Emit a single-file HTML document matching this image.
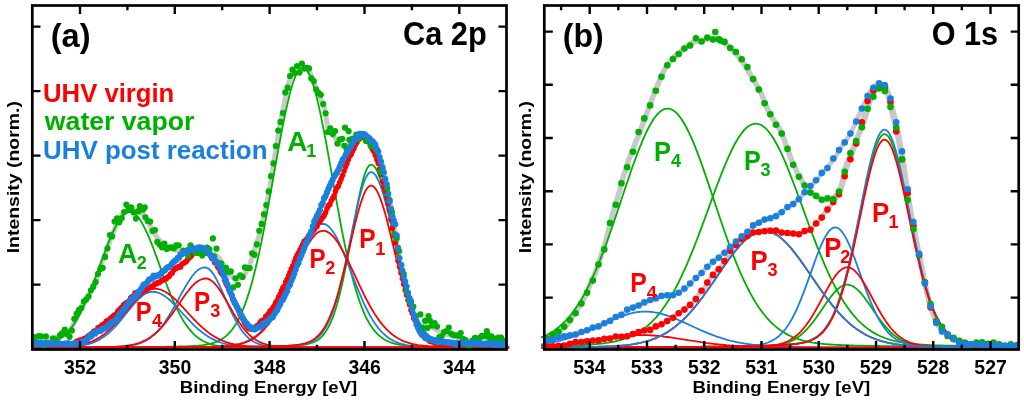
<!DOCTYPE html>
<html><head><meta charset="utf-8"><title>Ca 2p and O 1s XPS</title>
<style>html,body{margin:0;padding:0;background:#fff;width:1024px;height:403px;overflow:hidden}svg{display:block;font-family:"Liberation Sans",sans-serif;filter:blur(0.45px)}</style>
</head><body>
<svg width="1024" height="403" viewBox="0 0 1024 403" font-family="Liberation Sans, sans-serif" font-weight="bold">
<rect width="1024" height="403" fill="#fff"/>
<path d="M34.0,341.0 L35.2,341.0 L36.4,340.9 L37.5,340.8 L38.7,340.8 L39.9,340.7 L41.1,340.6 L42.3,340.5 L43.4,340.3 L44.6,340.1 L45.8,339.8 L47.0,339.5 L48.2,339.1 L49.3,338.7 L50.5,338.4 L51.7,338.1 L52.9,337.8 L54.1,337.5 L55.2,337.2 L56.4,336.9 L57.6,336.6 L58.8,336.3 L60.0,336.0 L61.2,335.7 L62.3,335.5 L63.5,335.2 L64.7,334.9 L65.9,334.5 L67.1,334.0 L68.2,333.0 L69.4,331.4 L70.6,329.4 L71.8,327.3 L73.0,325.1 L74.1,322.8 L75.3,320.1 L76.5,317.4 L77.7,314.7 L78.9,312.2 L80.0,309.7 L81.2,307.3 L82.4,304.9 L83.6,302.7 L84.8,300.8 L85.9,299.0 L87.1,297.3 L88.3,295.7 L89.5,293.9 L90.7,291.8 L91.8,289.7 L93.0,287.4 L94.2,284.8 L95.4,282.0 L96.6,278.7 L97.7,275.0 L98.9,271.2 L100.1,267.7 L101.3,264.5 L102.5,261.5 L103.6,258.5 L104.8,255.5 L106.0,252.2 L107.2,248.9 L108.4,245.5 L109.5,242.2 L110.7,239.0 L111.9,235.8 L113.1,232.7 L114.3,229.7 L115.5,227.0 L116.6,224.4 L117.8,221.9 L119.0,219.7 L120.2,217.7 L121.4,216.0 L122.5,214.4 L123.7,213.0 L124.9,212.1 L126.1,211.4 L127.3,210.7 L128.4,210.3 L129.6,210.0 L130.8,210.0 L132.0,210.0 L133.2,210.0 L134.3,210.0 L135.5,210.0 L136.7,210.1 L137.9,210.4 L139.1,211.0 L140.2,211.7 L141.4,212.6 L142.6,213.5 L143.8,215.0 L145.0,216.8 L146.1,218.8 L147.3,220.9 L148.5,222.9 L149.7,225.0 L150.9,227.3 L152.0,229.6 L153.2,231.7 L154.4,233.6 L155.6,235.4 L156.8,237.0 L157.9,238.6 L159.1,240.0 L160.3,241.3 L161.5,242.6 L162.7,243.8 L163.8,244.9 L165.0,245.9 L166.2,246.6 L167.4,247.2 L168.6,247.8 L169.8,248.2 L170.9,248.7 L172.1,249.0 L173.3,249.4 L174.5,249.8 L175.7,250.1 L176.8,250.4 L178.0,250.6 L179.2,250.9 L180.4,251.1 L181.6,251.2 L182.7,251.4 L183.9,251.6 L185.1,251.7 L186.3,251.8 L187.5,251.9 L188.6,252.0 L189.8,252.0 L191.0,252.0 L192.2,251.9 L193.4,251.9 L194.5,251.8 L195.7,251.7 L196.9,251.6 L198.1,251.5 L199.3,251.5 L200.4,251.5 L201.6,251.6 L202.8,251.7 L204.0,251.8 L205.2,252.0 L206.3,252.2 L207.5,252.4 L208.7,252.7 L209.9,253.0 L211.1,253.3 L212.2,253.7 L213.4,254.2 L214.6,254.8 L215.8,255.5 L217.0,256.2 L218.2,257.1 L219.3,258.4 L220.5,260.1 L221.7,262.1 L222.9,264.2 L224.1,266.1 L225.2,268.0 L226.4,270.0 L227.6,271.9 L228.8,273.6 L230.0,275.0 L231.1,276.1 L232.3,277.1 L233.5,278.1 L234.7,278.7 L235.9,279.0 L237.0,278.9 L238.2,278.6 L239.4,278.2 L240.6,277.5 L241.8,276.8 L242.9,276.0 L244.1,274.9 L245.3,273.3 L246.5,271.2 L247.7,268.8 L248.8,266.3 L250.0,263.7 L251.2,260.6 L252.4,257.1 L253.6,253.5 L254.7,249.8 L255.9,246.1 L257.1,242.1 L258.3,238.1 L259.5,233.8 L260.6,229.4 L261.8,224.7 L263.0,219.9 L264.2,214.9 L265.4,209.7 L266.5,204.2 L267.7,198.4 L268.9,192.1 L270.1,185.2 L271.3,178.0 L272.5,170.6 L273.6,163.2 L274.8,156.1 L276.0,148.8 L277.2,141.5 L278.4,134.4 L279.5,127.6 L280.7,121.1 L281.9,114.8 L283.1,108.8 L284.3,102.9 L285.4,97.5 L286.6,92.3 L287.8,87.1 L289.0,82.2 L290.2,78.1 L291.3,75.3 L292.5,73.2 L293.7,71.3 L294.9,69.7 L296.1,68.6 L297.2,67.9 L298.4,67.4 L299.6,66.9 L300.8,66.6 L302.0,66.5 L303.1,66.7 L304.3,67.2 L305.5,67.9 L306.7,68.8 L307.9,69.9 L309.0,71.4 L310.2,73.6 L311.4,76.3 L312.6,79.1 L313.8,81.7 L314.9,84.4 L316.1,87.3 L317.3,90.2 L318.5,93.2 L319.7,96.2 L320.8,99.0 L322.0,101.6 L323.2,104.4 L324.4,107.8 L325.6,113.1 L326.8,122.3 L327.9,128.3 L329.1,130.4 L330.3,131.9 L331.5,133.0 L332.7,134.3 L333.8,135.9 L335.0,137.7 L336.2,139.5 L337.4,141.1 L338.6,142.4 L339.7,143.6 L340.9,144.8 L342.1,145.6 L343.3,146.0 L344.5,146.0 L345.6,146.0 L346.8,146.0 L348.0,146.0 L349.2,145.6 L350.4,144.6 L351.5,143.4 L352.7,142.2 L353.9,141.2 L355.1,140.1 L356.3,139.0 L357.4,138.2 L358.6,137.8 L359.8,137.5 L361.0,137.2 L362.2,137.0 L363.3,137.0 L364.5,137.6 L365.7,138.6 L366.9,139.8 L368.1,141.1 L369.2,142.4 L370.4,144.0 L371.6,145.8 L372.8,147.8 L374.0,149.9 L375.2,152.4 L376.3,155.3 L377.5,158.4 L378.7,161.6 L379.9,164.7 L381.1,167.5 L382.2,170.2 L383.4,173.3 L384.6,177.0 L385.8,181.8 L387.0,187.1 L388.1,192.6 L389.3,198.1 L390.5,204.0 L391.7,210.2 L392.9,217.2 L394.0,225.0 L395.2,232.9 L396.4,240.5 L397.6,247.9 L398.8,255.1 L399.9,261.7 L401.1,267.5 L402.3,272.8 L403.5,277.9 L404.7,282.7 L405.8,287.3 L407.0,291.8 L408.2,296.1 L409.4,300.1 L410.6,303.7 L411.7,307.3 L412.9,310.8 L414.1,313.9 L415.3,316.6 L416.5,318.8 L417.6,321.0 L418.8,323.1 L420.0,324.7 L421.2,325.8 L422.4,326.0 L423.5,325.7 L424.7,325.1 L425.9,324.6 L427.1,324.1 L428.3,324.0 L429.5,324.4 L430.6,325.2 L431.8,326.2 L433.0,327.4 L434.2,328.4 L435.4,329.2 L436.5,330.0 L437.7,330.8 L438.9,331.5 L440.1,332.1 L441.3,332.7 L442.4,333.2 L443.6,333.5 L444.8,333.9 L446.0,334.2 L447.2,334.5 L448.3,334.7 L449.5,334.9 L450.7,335.1 L451.9,335.3 L453.1,335.4 L454.2,335.5 L455.4,335.6 L456.6,335.8 L457.8,336.0 L459.0,336.3 L460.1,337.0 L461.3,337.9 L462.5,338.7 L463.7,339.5 L464.9,340.0 L466.0,340.2 L467.2,340.5 L468.4,340.7 L469.6,340.8 L470.8,341.0 L471.9,341.0 L473.1,341.0 L474.3,340.9 L475.5,340.8 L476.7,340.6 L477.8,340.4 L479.0,340.2 L480.2,339.9 L481.4,339.3 L482.6,338.2 L483.8,337.1 L484.9,336.0 L486.1,335.2 L487.3,335.0 L488.5,335.2 L489.7,335.7 L490.8,336.3 L492.0,336.9 L493.2,337.6 L494.4,338.2 L495.6,338.8 L496.7,339.5 L497.9,340.2 L499.1,340.7 L500.3,341.1 L501.5,341.4 L502.6,341.6 L503.8,341.8 L505.0,342.0" fill="none" stroke="#c8c8c8" stroke-width="5"/>
<path d="M509.1,346.8 L507.5,346.8 L505.9,346.7 L504.3,346.7 L502.7,346.7 L501.1,346.7 L499.5,346.7 L497.9,346.6 L496.3,346.6 L494.7,346.6 L493.1,346.6 L491.5,346.5 L489.9,346.5 L488.3,346.5 L486.8,346.4 L485.2,346.4 L483.6,346.4 L482.0,346.3 L480.4,346.3 L478.8,346.3 L477.2,346.2 L475.6,346.2 L474.0,346.2 L472.4,346.1 L470.8,346.1 L469.2,346.0 L467.6,346.0 L466.0,345.9 L464.4,345.8 L462.8,345.8 L461.3,345.7 L459.7,345.6 L458.1,345.5 L456.5,345.4 L454.9,345.3 L453.3,345.1 L451.7,345.0 L450.1,344.8 L448.5,344.6 L446.9,344.3 L445.3,344.0 L443.7,343.7 L442.1,343.3 L440.5,342.9 L438.9,342.3 L437.4,341.7 L435.8,341.0 L434.2,340.2 L432.6,339.2 L431.0,338.1 L429.4,336.9 L427.8,335.4 L426.2,333.8 L424.6,331.9 L423.0,329.8 L421.4,327.4 L419.8,324.8 L418.2,321.8 L416.6,318.5 L415.0,314.9 L413.4,310.9 L411.9,306.6 L410.3,301.9 L408.7,296.9 L407.1,291.4 L405.5,285.7 L403.9,279.5 L402.3,273.1 L400.7,266.4 L399.1,259.4 L397.5,252.3 L395.9,244.9 L394.3,237.5 L392.7,230.1 L391.1,222.6 L389.5,215.3 L388.0,208.2 L386.4,201.3 L384.8,194.8 L383.2,188.7 L381.6,183.1 L380.0,178.1 L378.4,173.9 L376.8,170.3 L375.2,167.6 L373.6,165.7 L372.0,164.8 L370.4,164.7 L368.8,165.9 L367.2,168.2 L365.6,171.8 L364.0,176.4 L362.5,182.0 L360.9,188.5 L359.3,195.6 L357.7,203.4 L356.1,211.6 L354.5,220.1 L352.9,228.8 L351.3,237.5 L349.7,246.2 L348.1,254.8 L346.5,263.1 L344.9,271.1 L343.3,278.7 L341.7,285.9 L340.1,292.6 L338.6,298.9 L337.0,304.6 L335.4,309.8 L333.8,314.6 L332.2,318.8 L330.6,322.6 L329.0,326.0 L327.4,328.9 L325.8,331.5 L324.2,333.7 L322.6,335.6 L321.0,337.3 L319.4,338.7 L317.8,339.9 L316.2,340.9 L314.6,341.7 L313.1,342.4 L311.5,343.0 L309.9,343.5 L308.3,343.9 L306.7,344.3 L305.1,344.6 L303.5,344.8 L301.9,345.0 L300.3,345.2 L298.7,345.4 L297.1,345.5 L295.5,345.6 L293.9,345.7 L292.3,345.8 L290.7,345.9 L289.2,345.9 L287.6,346.0 L286.0,346.1 L284.4,346.1 L282.8,346.2 L281.2,346.2 L279.6,346.3 L278.0,346.3 L276.4,346.4 L274.8,346.4 L273.2,346.4 L271.6,346.5 L270.0,346.5 L268.4,346.5 L266.8,346.6 L265.2,346.6 L263.7,346.6 L262.1,346.6 L260.5,346.7 L258.9,346.7 L257.3,346.7 L255.7,346.7 L254.1,346.8 L252.5,346.8 L250.9,346.8 L249.3,346.8 L247.7,346.8 L246.1,346.9 L244.5,346.9 L242.9,346.9 L241.3,346.9 L239.8,346.9 L238.2,346.9 L236.6,347.0 L235.0,347.0 L233.4,347.0 L231.8,347.0 L230.2,347.0 L228.6,347.0 L227.0,347.0 L225.4,347.1 L223.8,347.1 L222.2,347.1 L220.6,347.1 L219.0,347.1 L217.4,347.1 L215.8,347.1 L214.3,347.1 L212.7,347.1 L211.1,347.1 L209.5,347.2 L207.9,347.2 L206.3,347.2 L204.7,347.2 L203.1,347.2 L201.5,347.2 L199.9,347.2 L198.3,347.2 L196.7,347.2 L195.1,347.2 L193.5,347.2 L191.9,347.2 L190.4,347.2 L188.8,347.2 L187.2,347.3 L185.6,347.3 L184.0,347.3 L182.4,347.3 L180.8,347.3 L179.2,347.3 L177.6,347.3 L176.0,347.3 L174.4,347.3 L172.8,347.3 L171.2,347.3 L169.6,347.3 L168.0,347.3 L166.4,347.3 L164.9,347.3 L163.3,347.3 L161.7,347.3 L160.1,347.3 L158.5,347.3 L156.9,347.3 L155.3,347.3 L153.7,347.4 L152.1,347.4 L150.5,347.4 L148.9,347.4 L147.3,347.4 L145.7,347.4 L144.1,347.4 L142.5,347.4 L141.0,347.4 L139.4,347.4 L137.8,347.4 L136.2,347.4 L134.6,347.4 L133.0,347.4 L131.4,347.4 L129.8,347.4 L128.2,347.4 L126.6,347.4 L125.0,347.4 L123.4,347.4 L121.8,347.4 L120.2,347.4 L118.6,347.4 L117.0,347.4 L115.5,347.4 L113.9,347.4 L112.3,347.4 L110.7,347.4 L109.1,347.4 L107.5,347.4 L105.9,347.4 L104.3,347.4 L102.7,347.4 L101.1,347.4 L99.5,347.4 L97.9,347.4 L96.3,347.4 L94.7,347.4 L93.1,347.4 L91.6,347.4 L90.0,347.5 L88.4,347.5 L86.8,347.5 L85.2,347.5 L83.6,347.5 L82.0,347.5 L80.4,347.5 L78.8,347.5 L77.2,347.5 L75.6,347.5 L74.0,347.5 L72.4,347.5 L70.8,347.5 L69.2,347.5 L67.6,347.5 L66.1,347.5 L64.5,347.5 L62.9,347.5 L61.3,347.5 L59.7,347.5 L58.1,347.5 L56.5,347.5 L54.9,347.5 L53.3,347.5 L51.7,347.5 L50.1,347.5 L48.5,347.5 L46.9,347.5 L45.3,347.5 L43.7,347.5 L42.2,347.5 L40.6,347.5 L39.0,347.5 L37.4,347.5 L35.8,347.5 L34.2,347.5 L32.6,347.5" fill="none" stroke="#00b000" stroke-width="1.8"/>
<path d="M509.1,347.2 L507.5,347.2 L505.9,347.2 L504.3,347.2 L502.7,347.2 L501.1,347.2 L499.5,347.2 L497.9,347.2 L496.3,347.2 L494.7,347.2 L493.1,347.1 L491.5,347.1 L489.9,347.1 L488.3,347.1 L486.8,347.1 L485.2,347.1 L483.6,347.1 L482.0,347.1 L480.4,347.1 L478.8,347.1 L477.2,347.1 L475.6,347.1 L474.0,347.0 L472.4,347.0 L470.8,347.0 L469.2,347.0 L467.6,347.0 L466.0,347.0 L464.4,347.0 L462.8,347.0 L461.3,347.0 L459.7,346.9 L458.1,346.9 L456.5,346.9 L454.9,346.9 L453.3,346.9 L451.7,346.9 L450.1,346.9 L448.5,346.8 L446.9,346.8 L445.3,346.8 L443.7,346.8 L442.1,346.8 L440.5,346.8 L438.9,346.7 L437.4,346.7 L435.8,346.7 L434.2,346.7 L432.6,346.6 L431.0,346.6 L429.4,346.6 L427.8,346.6 L426.2,346.5 L424.6,346.5 L423.0,346.4 L421.4,346.4 L419.8,346.4 L418.2,346.3 L416.6,346.2 L415.0,346.2 L413.4,346.1 L411.9,346.0 L410.3,345.9 L408.7,345.8 L407.1,345.7 L405.5,345.5 L403.9,345.3 L402.3,345.1 L400.7,344.9 L399.1,344.6 L397.5,344.3 L395.9,344.0 L394.3,343.6 L392.7,343.1 L391.1,342.6 L389.5,342.0 L388.0,341.3 L386.4,340.6 L384.8,339.7 L383.2,338.7 L381.6,337.6 L380.0,336.3 L378.4,334.9 L376.8,333.4 L375.2,331.6 L373.6,329.6 L372.0,327.5 L370.4,325.1 L368.8,322.4 L367.2,319.5 L365.6,316.3 L364.0,312.9 L362.5,309.1 L360.9,305.0 L359.3,300.6 L357.7,295.8 L356.1,290.7 L354.5,285.2 L352.9,279.4 L351.3,273.3 L349.7,266.7 L348.1,259.9 L346.5,252.7 L344.9,245.2 L343.3,237.4 L341.7,229.3 L340.1,221.0 L338.6,212.4 L337.0,203.7 L335.4,194.8 L333.8,185.8 L332.2,176.7 L330.6,167.7 L329.0,158.7 L327.4,149.8 L325.8,141.0 L324.2,132.5 L322.6,124.3 L321.0,116.4 L319.4,108.9 L317.8,101.9 L316.2,95.4 L314.6,89.4 L313.1,84.1 L311.5,79.5 L309.9,75.6 L308.3,72.4 L306.7,70.0 L305.1,68.4 L303.5,67.7 L301.9,67.7 L300.3,68.6 L298.7,70.4 L297.1,72.9 L295.5,76.2 L293.9,80.2 L292.3,85.0 L290.7,90.4 L289.2,96.4 L287.6,103.0 L286.0,110.1 L284.4,117.7 L282.8,125.6 L281.2,133.9 L279.6,142.5 L278.0,151.2 L276.4,160.2 L274.8,169.2 L273.2,178.2 L271.6,187.3 L270.0,196.2 L268.4,205.1 L266.8,213.8 L265.2,222.3 L263.7,230.6 L262.1,238.7 L260.5,246.4 L258.9,253.9 L257.3,261.0 L255.7,267.8 L254.1,274.3 L252.5,280.4 L250.9,286.2 L249.3,291.6 L247.7,296.6 L246.1,301.3 L244.5,305.7 L242.9,309.7 L241.3,313.5 L239.8,316.9 L238.2,320.0 L236.6,322.9 L235.0,325.5 L233.4,327.8 L231.8,330.0 L230.2,331.9 L228.6,333.6 L227.0,335.2 L225.4,336.6 L223.8,337.8 L222.2,338.9 L220.6,339.8 L219.0,340.7 L217.4,341.5 L215.8,342.1 L214.3,342.7 L212.7,343.2 L211.1,343.7 L209.5,344.0 L207.9,344.4 L206.3,344.7 L204.7,344.9 L203.1,345.2 L201.5,345.4 L199.9,345.5 L198.3,345.7 L196.7,345.8 L195.1,345.9 L193.5,346.0 L191.9,346.1 L190.4,346.2 L188.8,346.2 L187.2,346.3 L185.6,346.4 L184.0,346.4 L182.4,346.5 L180.8,346.5 L179.2,346.5 L177.6,346.6 L176.0,346.6 L174.4,346.6 L172.8,346.6 L171.2,346.7 L169.6,346.7 L168.0,346.7 L166.4,346.7 L164.9,346.8 L163.3,346.8 L161.7,346.8 L160.1,346.8 L158.5,346.8 L156.9,346.8 L155.3,346.9 L153.7,346.9 L152.1,346.9 L150.5,346.9 L148.9,346.9 L147.3,346.9 L145.7,346.9 L144.1,347.0 L142.5,347.0 L141.0,347.0 L139.4,347.0 L137.8,347.0 L136.2,347.0 L134.6,347.0 L133.0,347.0 L131.4,347.0 L129.8,347.1 L128.2,347.1 L126.6,347.1 L125.0,347.1 L123.4,347.1 L121.8,347.1 L120.2,347.1 L118.6,347.1 L117.0,347.1 L115.5,347.1 L113.9,347.1 L112.3,347.1 L110.7,347.2 L109.1,347.2 L107.5,347.2 L105.9,347.2 L104.3,347.2 L102.7,347.2 L101.1,347.2 L99.5,347.2 L97.9,347.2 L96.3,347.2 L94.7,347.2 L93.1,347.2 L91.6,347.2 L90.0,347.2 L88.4,347.2 L86.8,347.2 L85.2,347.3 L83.6,347.3 L82.0,347.3 L80.4,347.3 L78.8,347.3 L77.2,347.3 L75.6,347.3 L74.0,347.3 L72.4,347.3 L70.8,347.3 L69.2,347.3 L67.6,347.3 L66.1,347.3 L64.5,347.3 L62.9,347.3 L61.3,347.3 L59.7,347.3 L58.1,347.3 L56.5,347.3 L54.9,347.3 L53.3,347.3 L51.7,347.3 L50.1,347.3 L48.5,347.3 L46.9,347.3 L45.3,347.3 L43.7,347.4 L42.2,347.4 L40.6,347.4 L39.0,347.4 L37.4,347.4 L35.8,347.4 L34.2,347.4 L32.6,347.4" fill="none" stroke="#00b000" stroke-width="1.8"/>
<path d="M509.1,347.6 L507.5,347.6 L505.9,347.6 L504.3,347.6 L502.7,347.6 L501.1,347.6 L499.5,347.6 L497.9,347.6 L496.3,347.6 L494.7,347.6 L493.1,347.6 L491.5,347.6 L489.9,347.6 L488.3,347.6 L486.8,347.6 L485.2,347.6 L483.6,347.6 L482.0,347.6 L480.4,347.6 L478.8,347.6 L477.2,347.6 L475.6,347.6 L474.0,347.6 L472.4,347.6 L470.8,347.6 L469.2,347.6 L467.6,347.6 L466.0,347.6 L464.4,347.6 L462.8,347.6 L461.3,347.6 L459.7,347.6 L458.1,347.6 L456.5,347.6 L454.9,347.6 L453.3,347.6 L451.7,347.6 L450.1,347.6 L448.5,347.6 L446.9,347.6 L445.3,347.6 L443.7,347.6 L442.1,347.6 L440.5,347.6 L438.9,347.6 L437.4,347.6 L435.8,347.6 L434.2,347.6 L432.6,347.6 L431.0,347.6 L429.4,347.6 L427.8,347.6 L426.2,347.6 L424.6,347.6 L423.0,347.6 L421.4,347.6 L419.8,347.6 L418.2,347.6 L416.6,347.6 L415.0,347.6 L413.4,347.6 L411.9,347.6 L410.3,347.6 L408.7,347.6 L407.1,347.6 L405.5,347.6 L403.9,347.6 L402.3,347.6 L400.7,347.6 L399.1,347.6 L397.5,347.6 L395.9,347.6 L394.3,347.6 L392.7,347.6 L391.1,347.6 L389.5,347.6 L388.0,347.6 L386.4,347.6 L384.8,347.6 L383.2,347.6 L381.6,347.6 L380.0,347.6 L378.4,347.6 L376.8,347.6 L375.2,347.6 L373.6,347.6 L372.0,347.6 L370.4,347.6 L368.8,347.6 L367.2,347.6 L365.6,347.6 L364.0,347.6 L362.5,347.6 L360.9,347.6 L359.3,347.6 L357.7,347.6 L356.1,347.6 L354.5,347.6 L352.9,347.6 L351.3,347.6 L349.7,347.6 L348.1,347.6 L346.5,347.6 L344.9,347.6 L343.3,347.6 L341.7,347.6 L340.1,347.6 L338.6,347.6 L337.0,347.6 L335.4,347.6 L333.8,347.6 L332.2,347.6 L330.6,347.6 L329.0,347.6 L327.4,347.6 L325.8,347.6 L324.2,347.6 L322.6,347.6 L321.0,347.6 L319.4,347.6 L317.8,347.6 L316.2,347.6 L314.6,347.6 L313.1,347.6 L311.5,347.6 L309.9,347.6 L308.3,347.6 L306.7,347.6 L305.1,347.6 L303.5,347.6 L301.9,347.6 L300.3,347.6 L298.7,347.6 L297.1,347.6 L295.5,347.6 L293.9,347.6 L292.3,347.6 L290.7,347.6 L289.2,347.6 L287.6,347.6 L286.0,347.6 L284.4,347.6 L282.8,347.6 L281.2,347.6 L279.6,347.6 L278.0,347.6 L276.4,347.6 L274.8,347.6 L273.2,347.6 L271.6,347.6 L270.0,347.6 L268.4,347.6 L266.8,347.6 L265.2,347.6 L263.7,347.6 L262.1,347.6 L260.5,347.6 L258.9,347.6 L257.3,347.6 L255.7,347.6 L254.1,347.6 L252.5,347.6 L250.9,347.6 L249.3,347.6 L247.7,347.5 L246.1,347.5 L244.5,347.5 L242.9,347.5 L241.3,347.5 L239.8,347.5 L238.2,347.4 L236.6,347.4 L235.0,347.3 L233.4,347.3 L231.8,347.2 L230.2,347.1 L228.6,347.0 L227.0,346.9 L225.4,346.8 L223.8,346.7 L222.2,346.5 L220.6,346.3 L219.0,346.1 L217.4,345.8 L215.8,345.5 L214.3,345.2 L212.7,344.8 L211.1,344.3 L209.5,343.8 L207.9,343.2 L206.3,342.6 L204.7,341.8 L203.1,341.0 L201.5,340.1 L199.9,339.1 L198.3,338.0 L196.7,336.7 L195.1,335.4 L193.5,333.9 L191.9,332.2 L190.4,330.4 L188.8,328.5 L187.2,326.4 L185.6,324.1 L184.0,321.7 L182.4,319.1 L180.8,316.3 L179.2,313.3 L177.6,310.2 L176.0,306.9 L174.4,303.4 L172.8,299.8 L171.2,296.1 L169.6,292.2 L168.0,288.1 L166.4,284.0 L164.9,279.8 L163.3,275.5 L161.7,271.1 L160.1,266.7 L158.5,262.3 L156.9,257.9 L155.3,253.6 L153.7,249.3 L152.1,245.2 L150.5,241.2 L148.9,237.3 L147.3,233.6 L145.7,230.1 L144.1,226.9 L142.5,223.9 L141.0,221.2 L139.4,218.8 L137.8,216.8 L136.2,215.1 L134.6,213.7 L133.0,212.8 L131.4,212.2 L129.8,212.0 L128.2,212.2 L126.6,212.8 L125.0,213.7 L123.4,215.1 L121.8,216.7 L120.2,218.8 L118.6,221.2 L117.0,223.8 L115.5,226.8 L113.9,230.0 L112.3,233.5 L110.7,237.2 L109.1,241.1 L107.5,245.1 L105.9,249.3 L104.3,253.5 L102.7,257.9 L101.1,262.2 L99.5,266.6 L97.9,271.0 L96.3,275.4 L94.7,279.7 L93.1,283.9 L91.6,288.1 L90.0,292.1 L88.4,296.0 L86.8,299.8 L85.2,303.4 L83.6,306.8 L82.0,310.1 L80.4,313.3 L78.8,316.2 L77.2,319.0 L75.6,321.6 L74.0,324.1 L72.4,326.3 L70.8,328.4 L69.2,330.4 L67.6,332.2 L66.1,333.8 L64.5,335.3 L62.9,336.7 L61.3,338.0 L59.7,339.1 L58.1,340.1 L56.5,341.0 L54.9,341.8 L53.3,342.6 L51.7,343.2 L50.1,343.8 L48.5,344.3 L46.9,344.8 L45.3,345.2 L43.7,345.5 L42.2,345.8 L40.6,346.1 L39.0,346.3 L37.4,346.5 L35.8,346.7 L34.2,346.8 L32.6,346.9" fill="none" stroke="#00b000" stroke-width="1.8"/>
<path d="M509.1,346.8 L507.5,346.7 L505.9,346.7 L504.3,346.7 L502.7,346.7 L501.1,346.7 L499.5,346.6 L497.9,346.6 L496.3,346.6 L494.7,346.6 L493.1,346.5 L491.5,346.5 L489.9,346.5 L488.3,346.5 L486.8,346.4 L485.2,346.4 L483.6,346.4 L482.0,346.3 L480.4,346.3 L478.8,346.3 L477.2,346.2 L475.6,346.2 L474.0,346.1 L472.4,346.1 L470.8,346.0 L469.2,346.0 L467.6,345.9 L466.0,345.9 L464.4,345.8 L462.8,345.7 L461.3,345.6 L459.7,345.5 L458.1,345.4 L456.5,345.3 L454.9,345.2 L453.3,345.0 L451.7,344.8 L450.1,344.6 L448.5,344.4 L446.9,344.1 L445.3,343.8 L443.7,343.4 L442.1,343.0 L440.5,342.5 L438.9,341.9 L437.4,341.3 L435.8,340.5 L434.2,339.6 L432.6,338.6 L431.0,337.4 L429.4,336.0 L427.8,334.5 L426.2,332.8 L424.6,330.9 L423.0,328.7 L421.4,326.2 L419.8,323.5 L418.2,320.5 L416.6,317.2 L415.0,313.6 L413.4,309.7 L411.9,305.4 L410.3,300.8 L408.7,295.9 L407.1,290.6 L405.5,285.0 L403.9,279.1 L402.3,273.0 L400.7,266.6 L399.1,260.0 L397.5,253.2 L395.9,246.3 L394.3,239.4 L392.7,232.4 L391.1,225.5 L389.5,218.7 L388.0,212.1 L386.4,205.7 L384.8,199.7 L383.2,194.1 L381.6,189.0 L380.0,184.5 L378.4,180.5 L376.8,177.3 L375.2,174.8 L373.6,173.1 L372.0,172.2 L370.4,172.2 L368.8,173.2 L367.2,175.2 L365.6,178.1 L364.0,182.0 L362.5,186.8 L360.9,192.2 L359.3,198.4 L357.7,205.0 L356.1,212.2 L354.5,219.6 L352.9,227.3 L351.3,235.1 L349.7,242.9 L348.1,250.7 L346.5,258.4 L344.9,265.8 L343.3,273.0 L341.7,279.9 L340.1,286.5 L338.6,292.6 L337.0,298.4 L335.4,303.7 L333.8,308.6 L332.2,313.1 L330.6,317.2 L329.0,320.9 L327.4,324.2 L325.8,327.2 L324.2,329.8 L322.6,332.1 L321.0,334.1 L319.4,335.8 L317.8,337.4 L316.2,338.7 L314.6,339.8 L313.1,340.8 L311.5,341.6 L309.9,342.3 L308.3,342.9 L306.7,343.4 L305.1,343.8 L303.5,344.2 L301.9,344.5 L300.3,344.7 L298.7,344.9 L297.1,345.1 L295.5,345.3 L293.9,345.4 L292.3,345.5 L290.7,345.6 L289.2,345.7 L287.6,345.8 L286.0,345.9 L284.4,346.0 L282.8,346.0 L281.2,346.1 L279.6,346.1 L278.0,346.2 L276.4,346.2 L274.8,346.3 L273.2,346.3 L271.6,346.4 L270.0,346.4 L268.4,346.4 L266.8,346.5 L265.2,346.5 L263.7,346.5 L262.1,346.6 L260.5,346.6 L258.9,346.6 L257.3,346.6 L255.7,346.7 L254.1,346.7 L252.5,346.7 L250.9,346.7 L249.3,346.8 L247.7,346.8 L246.1,346.8 L244.5,346.8 L242.9,346.8 L241.3,346.9 L239.8,346.9 L238.2,346.9 L236.6,346.9 L235.0,346.9 L233.4,346.9 L231.8,346.9 L230.2,347.0 L228.6,347.0 L227.0,347.0 L225.4,347.0 L223.8,347.0 L222.2,347.0 L220.6,347.0 L219.0,347.1 L217.4,347.1 L215.8,347.1 L214.3,347.1 L212.7,347.1 L211.1,347.1 L209.5,347.1 L207.9,347.1 L206.3,347.1 L204.7,347.1 L203.1,347.1 L201.5,347.2 L199.9,347.2 L198.3,347.2 L196.7,347.2 L195.1,347.2 L193.5,347.2 L191.9,347.2 L190.4,347.2 L188.8,347.2 L187.2,347.2 L185.6,347.2 L184.0,347.2 L182.4,347.2 L180.8,347.2 L179.2,347.3 L177.6,347.3 L176.0,347.3 L174.4,347.3 L172.8,347.3 L171.2,347.3 L169.6,347.3 L168.0,347.3 L166.4,347.3 L164.9,347.3 L163.3,347.3 L161.7,347.3 L160.1,347.3 L158.5,347.3 L156.9,347.3 L155.3,347.3 L153.7,347.3 L152.1,347.3 L150.5,347.3 L148.9,347.3 L147.3,347.3 L145.7,347.3 L144.1,347.3 L142.5,347.4 L141.0,347.4 L139.4,347.4 L137.8,347.4 L136.2,347.4 L134.6,347.4 L133.0,347.4 L131.4,347.4 L129.8,347.4 L128.2,347.4 L126.6,347.4 L125.0,347.4 L123.4,347.4 L121.8,347.4 L120.2,347.4 L118.6,347.4 L117.0,347.4 L115.5,347.4 L113.9,347.4 L112.3,347.4 L110.7,347.4 L109.1,347.4 L107.5,347.4 L105.9,347.4 L104.3,347.4 L102.7,347.4 L101.1,347.4 L99.5,347.4 L97.9,347.4 L96.3,347.4 L94.7,347.4 L93.1,347.4 L91.6,347.4 L90.0,347.4 L88.4,347.4 L86.8,347.4 L85.2,347.4 L83.6,347.4 L82.0,347.4 L80.4,347.4 L78.8,347.4 L77.2,347.5 L75.6,347.5 L74.0,347.5 L72.4,347.5 L70.8,347.5 L69.2,347.5 L67.6,347.5 L66.1,347.5 L64.5,347.5 L62.9,347.5 L61.3,347.5 L59.7,347.5 L58.1,347.5 L56.5,347.5 L54.9,347.5 L53.3,347.5 L51.7,347.5 L50.1,347.5 L48.5,347.5 L46.9,347.5 L45.3,347.5 L43.7,347.5 L42.2,347.5 L40.6,347.5 L39.0,347.5 L37.4,347.5 L35.8,347.5 L34.2,347.5 L32.6,347.5" fill="none" stroke="#1a80e0" stroke-width="1.8"/>
<path d="M509.1,347.4 L507.5,347.4 L505.9,347.4 L504.3,347.4 L502.7,347.3 L501.1,347.3 L499.5,347.3 L497.9,347.3 L496.3,347.3 L494.7,347.3 L493.1,347.3 L491.5,347.3 L489.9,347.3 L488.3,347.3 L486.8,347.3 L485.2,347.3 L483.6,347.3 L482.0,347.3 L480.4,347.3 L478.8,347.3 L477.2,347.3 L475.6,347.3 L474.0,347.2 L472.4,347.2 L470.8,347.2 L469.2,347.2 L467.6,347.2 L466.0,347.2 L464.4,347.2 L462.8,347.2 L461.3,347.2 L459.7,347.2 L458.1,347.2 L456.5,347.2 L454.9,347.1 L453.3,347.1 L451.7,347.1 L450.1,347.1 L448.5,347.1 L446.9,347.1 L445.3,347.1 L443.7,347.1 L442.1,347.0 L440.5,347.0 L438.9,347.0 L437.4,347.0 L435.8,346.9 L434.2,346.9 L432.6,346.9 L431.0,346.9 L429.4,346.8 L427.8,346.8 L426.2,346.7 L424.6,346.7 L423.0,346.6 L421.4,346.5 L419.8,346.4 L418.2,346.3 L416.6,346.2 L415.0,346.1 L413.4,345.9 L411.9,345.8 L410.3,345.6 L408.7,345.3 L407.1,345.1 L405.5,344.8 L403.9,344.4 L402.3,344.0 L400.7,343.6 L399.1,343.1 L397.5,342.5 L395.9,341.9 L394.3,341.2 L392.7,340.4 L391.1,339.5 L389.5,338.5 L388.0,337.4 L386.4,336.2 L384.8,334.8 L383.2,333.4 L381.6,331.8 L380.0,330.0 L378.4,328.1 L376.8,326.0 L375.2,323.8 L373.6,321.4 L372.0,318.9 L370.4,316.2 L368.8,313.3 L367.2,310.2 L365.6,307.0 L364.0,303.7 L362.5,300.2 L360.9,296.5 L359.3,292.7 L357.7,288.9 L356.1,284.9 L354.5,280.9 L352.9,276.8 L351.3,272.6 L349.7,268.5 L348.1,264.4 L346.5,260.3 L344.9,256.3 L343.3,252.4 L341.7,248.7 L340.1,245.1 L338.6,241.6 L337.0,238.5 L335.4,235.5 L333.8,232.9 L332.2,230.5 L330.6,228.5 L329.0,226.8 L327.4,225.5 L325.8,224.5 L324.2,224.0 L322.6,223.8 L321.0,224.0 L319.4,224.6 L317.8,225.5 L316.2,226.7 L314.6,228.3 L313.1,230.1 L311.5,232.3 L309.9,234.8 L308.3,237.5 L306.7,240.4 L305.1,243.5 L303.5,246.9 L301.9,250.4 L300.3,254.0 L298.7,257.7 L297.1,261.5 L295.5,265.4 L293.9,269.3 L292.3,273.2 L290.7,277.1 L289.2,281.0 L287.6,284.8 L286.0,288.6 L284.4,292.2 L282.8,295.8 L281.2,299.3 L279.6,302.7 L278.0,305.9 L276.4,309.0 L274.8,311.9 L273.2,314.7 L271.6,317.4 L270.0,319.9 L268.4,322.3 L266.8,324.5 L265.2,326.5 L263.7,328.5 L262.1,330.2 L260.5,331.9 L258.9,333.4 L257.3,334.8 L255.7,336.1 L254.1,337.2 L252.5,338.3 L250.9,339.3 L249.3,340.1 L247.7,340.9 L246.1,341.6 L244.5,342.3 L242.9,342.8 L241.3,343.3 L239.8,343.8 L238.2,344.2 L236.6,344.5 L235.0,344.8 L233.4,345.1 L231.8,345.4 L230.2,345.6 L228.6,345.8 L227.0,345.9 L225.4,346.1 L223.8,346.2 L222.2,346.3 L220.6,346.4 L219.0,346.5 L217.4,346.6 L215.8,346.6 L214.3,346.7 L212.7,346.7 L211.1,346.8 L209.5,346.8 L207.9,346.9 L206.3,346.9 L204.7,346.9 L203.1,347.0 L201.5,347.0 L199.9,347.0 L198.3,347.0 L196.7,347.0 L195.1,347.0 L193.5,347.1 L191.9,347.1 L190.4,347.1 L188.8,347.1 L187.2,347.1 L185.6,347.1 L184.0,347.1 L182.4,347.1 L180.8,347.2 L179.2,347.2 L177.6,347.2 L176.0,347.2 L174.4,347.2 L172.8,347.2 L171.2,347.2 L169.6,347.2 L168.0,347.2 L166.4,347.2 L164.9,347.2 L163.3,347.2 L161.7,347.3 L160.1,347.3 L158.5,347.3 L156.9,347.3 L155.3,347.3 L153.7,347.3 L152.1,347.3 L150.5,347.3 L148.9,347.3 L147.3,347.3 L145.7,347.3 L144.1,347.3 L142.5,347.3 L141.0,347.3 L139.4,347.3 L137.8,347.3 L136.2,347.3 L134.6,347.3 L133.0,347.3 L131.4,347.4 L129.8,347.4 L128.2,347.4 L126.6,347.4 L125.0,347.4 L123.4,347.4 L121.8,347.4 L120.2,347.4 L118.6,347.4 L117.0,347.4 L115.5,347.4 L113.9,347.4 L112.3,347.4 L110.7,347.4 L109.1,347.4 L107.5,347.4 L105.9,347.4 L104.3,347.4 L102.7,347.4 L101.1,347.4 L99.5,347.4 L97.9,347.4 L96.3,347.4 L94.7,347.4 L93.1,347.4 L91.6,347.4 L90.0,347.4 L88.4,347.4 L86.8,347.4 L85.2,347.4 L83.6,347.4 L82.0,347.4 L80.4,347.4 L78.8,347.4 L77.2,347.4 L75.6,347.4 L74.0,347.5 L72.4,347.5 L70.8,347.5 L69.2,347.5 L67.6,347.5 L66.1,347.5 L64.5,347.5 L62.9,347.5 L61.3,347.5 L59.7,347.5 L58.1,347.5 L56.5,347.5 L54.9,347.5 L53.3,347.5 L51.7,347.5 L50.1,347.5 L48.5,347.5 L46.9,347.5 L45.3,347.5 L43.7,347.5 L42.2,347.5 L40.6,347.5 L39.0,347.5 L37.4,347.5 L35.8,347.5 L34.2,347.5 L32.6,347.5" fill="none" stroke="#1a80e0" stroke-width="1.8"/>
<path d="M509.1,347.6 L507.5,347.6 L505.9,347.6 L504.3,347.6 L502.7,347.6 L501.1,347.6 L499.5,347.6 L497.9,347.6 L496.3,347.6 L494.7,347.6 L493.1,347.6 L491.5,347.6 L489.9,347.6 L488.3,347.6 L486.8,347.6 L485.2,347.6 L483.6,347.6 L482.0,347.6 L480.4,347.6 L478.8,347.6 L477.2,347.6 L475.6,347.6 L474.0,347.6 L472.4,347.6 L470.8,347.6 L469.2,347.6 L467.6,347.6 L466.0,347.6 L464.4,347.6 L462.8,347.6 L461.3,347.6 L459.7,347.6 L458.1,347.6 L456.5,347.6 L454.9,347.6 L453.3,347.6 L451.7,347.6 L450.1,347.6 L448.5,347.6 L446.9,347.6 L445.3,347.6 L443.7,347.5 L442.1,347.5 L440.5,347.5 L438.9,347.5 L437.4,347.5 L435.8,347.5 L434.2,347.5 L432.6,347.5 L431.0,347.5 L429.4,347.5 L427.8,347.5 L426.2,347.5 L424.6,347.5 L423.0,347.5 L421.4,347.5 L419.8,347.5 L418.2,347.5 L416.6,347.5 L415.0,347.5 L413.4,347.5 L411.9,347.5 L410.3,347.5 L408.7,347.5 L407.1,347.5 L405.5,347.5 L403.9,347.5 L402.3,347.5 L400.7,347.5 L399.1,347.5 L397.5,347.5 L395.9,347.5 L394.3,347.5 L392.7,347.5 L391.1,347.5 L389.5,347.5 L388.0,347.5 L386.4,347.5 L384.8,347.5 L383.2,347.5 L381.6,347.5 L380.0,347.5 L378.4,347.5 L376.8,347.5 L375.2,347.5 L373.6,347.5 L372.0,347.5 L370.4,347.5 L368.8,347.5 L367.2,347.5 L365.6,347.5 L364.0,347.5 L362.5,347.5 L360.9,347.5 L359.3,347.5 L357.7,347.5 L356.1,347.5 L354.5,347.5 L352.9,347.5 L351.3,347.5 L349.7,347.5 L348.1,347.5 L346.5,347.5 L344.9,347.5 L343.3,347.5 L341.7,347.4 L340.1,347.4 L338.6,347.4 L337.0,347.4 L335.4,347.4 L333.8,347.4 L332.2,347.4 L330.6,347.4 L329.0,347.4 L327.4,347.4 L325.8,347.4 L324.2,347.4 L322.6,347.4 L321.0,347.4 L319.4,347.4 L317.8,347.4 L316.2,347.4 L314.6,347.4 L313.1,347.4 L311.5,347.4 L309.9,347.3 L308.3,347.3 L306.7,347.3 L305.1,347.3 L303.5,347.3 L301.9,347.3 L300.3,347.3 L298.7,347.3 L297.1,347.3 L295.5,347.3 L293.9,347.3 L292.3,347.2 L290.7,347.2 L289.2,347.2 L287.6,347.2 L286.0,347.2 L284.4,347.1 L282.8,347.1 L281.2,347.1 L279.6,347.0 L278.0,346.9 L276.4,346.9 L274.8,346.8 L273.2,346.7 L271.6,346.6 L270.0,346.4 L268.4,346.2 L266.8,346.0 L265.2,345.8 L263.7,345.5 L262.1,345.1 L260.5,344.6 L258.9,344.1 L257.3,343.5 L255.7,342.8 L254.1,342.0 L252.5,341.0 L250.9,339.9 L249.3,338.7 L247.7,337.3 L246.1,335.7 L244.5,333.9 L242.9,332.0 L241.3,329.8 L239.8,327.5 L238.2,324.9 L236.6,322.1 L235.0,319.2 L233.4,316.1 L231.8,312.8 L230.2,309.4 L228.6,305.8 L227.0,302.2 L225.4,298.6 L223.8,294.9 L222.2,291.3 L220.6,287.8 L219.0,284.4 L217.4,281.2 L215.8,278.2 L214.3,275.5 L212.7,273.1 L211.1,271.1 L209.5,269.5 L207.9,268.4 L206.3,267.6 L204.7,267.4 L203.1,267.6 L201.5,268.0 L199.9,268.8 L198.3,269.8 L196.7,271.1 L195.1,272.7 L193.5,274.5 L191.9,276.5 L190.4,278.8 L188.8,281.2 L187.2,283.7 L185.6,286.4 L184.0,289.2 L182.4,292.0 L180.8,294.9 L179.2,297.8 L177.6,300.8 L176.0,303.7 L174.4,306.5 L172.8,309.3 L171.2,312.1 L169.6,314.8 L168.0,317.3 L166.4,319.8 L164.9,322.1 L163.3,324.3 L161.7,326.4 L160.1,328.4 L158.5,330.3 L156.9,332.0 L155.3,333.5 L153.7,335.0 L152.1,336.3 L150.5,337.6 L148.9,338.7 L147.3,339.7 L145.7,340.6 L144.1,341.4 L142.5,342.2 L141.0,342.8 L139.4,343.4 L137.8,343.9 L136.2,344.3 L134.6,344.7 L133.0,345.1 L131.4,345.4 L129.8,345.6 L128.2,345.9 L126.6,346.1 L125.0,346.2 L123.4,346.4 L121.8,346.5 L120.2,346.6 L118.6,346.7 L117.0,346.8 L115.5,346.9 L113.9,346.9 L112.3,347.0 L110.7,347.0 L109.1,347.1 L107.5,347.1 L105.9,347.1 L104.3,347.1 L102.7,347.2 L101.1,347.2 L99.5,347.2 L97.9,347.2 L96.3,347.2 L94.7,347.2 L93.1,347.3 L91.6,347.3 L90.0,347.3 L88.4,347.3 L86.8,347.3 L85.2,347.3 L83.6,347.3 L82.0,347.3 L80.4,347.3 L78.8,347.3 L77.2,347.3 L75.6,347.3 L74.0,347.3 L72.4,347.4 L70.8,347.4 L69.2,347.4 L67.6,347.4 L66.1,347.4 L64.5,347.4 L62.9,347.4 L61.3,347.4 L59.7,347.4 L58.1,347.4 L56.5,347.4 L54.9,347.4 L53.3,347.4 L51.7,347.4 L50.1,347.4 L48.5,347.4 L46.9,347.4 L45.3,347.4 L43.7,347.4 L42.2,347.4 L40.6,347.4 L39.0,347.4 L37.4,347.4 L35.8,347.4 L34.2,347.4 L32.6,347.5" fill="none" stroke="#1a80e0" stroke-width="1.8"/>
<path d="M509.1,347.6 L507.5,347.6 L505.9,347.6 L504.3,347.6 L502.7,347.6 L501.1,347.6 L499.5,347.6 L497.9,347.6 L496.3,347.6 L494.7,347.6 L493.1,347.6 L491.5,347.6 L489.9,347.6 L488.3,347.6 L486.8,347.6 L485.2,347.6 L483.6,347.6 L482.0,347.6 L480.4,347.6 L478.8,347.6 L477.2,347.6 L475.6,347.6 L474.0,347.6 L472.4,347.6 L470.8,347.6 L469.2,347.6 L467.6,347.6 L466.0,347.6 L464.4,347.6 L462.8,347.6 L461.3,347.6 L459.7,347.6 L458.1,347.6 L456.5,347.6 L454.9,347.6 L453.3,347.6 L451.7,347.6 L450.1,347.6 L448.5,347.6 L446.9,347.6 L445.3,347.6 L443.7,347.5 L442.1,347.5 L440.5,347.5 L438.9,347.5 L437.4,347.5 L435.8,347.5 L434.2,347.5 L432.6,347.5 L431.0,347.5 L429.4,347.5 L427.8,347.5 L426.2,347.5 L424.6,347.5 L423.0,347.5 L421.4,347.5 L419.8,347.5 L418.2,347.5 L416.6,347.5 L415.0,347.5 L413.4,347.5 L411.9,347.5 L410.3,347.5 L408.7,347.5 L407.1,347.5 L405.5,347.5 L403.9,347.5 L402.3,347.5 L400.7,347.5 L399.1,347.5 L397.5,347.5 L395.9,347.5 L394.3,347.5 L392.7,347.5 L391.1,347.5 L389.5,347.5 L388.0,347.5 L386.4,347.5 L384.8,347.5 L383.2,347.5 L381.6,347.5 L380.0,347.5 L378.4,347.5 L376.8,347.5 L375.2,347.5 L373.6,347.5 L372.0,347.5 L370.4,347.5 L368.8,347.5 L367.2,347.5 L365.6,347.5 L364.0,347.5 L362.5,347.5 L360.9,347.5 L359.3,347.5 L357.7,347.5 L356.1,347.5 L354.5,347.5 L352.9,347.5 L351.3,347.5 L349.7,347.5 L348.1,347.5 L346.5,347.5 L344.9,347.5 L343.3,347.5 L341.7,347.5 L340.1,347.5 L338.6,347.5 L337.0,347.5 L335.4,347.5 L333.8,347.5 L332.2,347.5 L330.6,347.5 L329.0,347.5 L327.4,347.5 L325.8,347.5 L324.2,347.5 L322.6,347.5 L321.0,347.5 L319.4,347.5 L317.8,347.4 L316.2,347.4 L314.6,347.4 L313.1,347.4 L311.5,347.4 L309.9,347.4 L308.3,347.4 L306.7,347.4 L305.1,347.4 L303.5,347.4 L301.9,347.4 L300.3,347.4 L298.7,347.4 L297.1,347.4 L295.5,347.4 L293.9,347.4 L292.3,347.4 L290.7,347.4 L289.2,347.4 L287.6,347.4 L286.0,347.4 L284.4,347.4 L282.8,347.4 L281.2,347.3 L279.6,347.3 L278.0,347.3 L276.4,347.3 L274.8,347.3 L273.2,347.3 L271.6,347.3 L270.0,347.3 L268.4,347.3 L266.8,347.2 L265.2,347.2 L263.7,347.2 L262.1,347.2 L260.5,347.2 L258.9,347.1 L257.3,347.1 L255.7,347.1 L254.1,347.0 L252.5,347.0 L250.9,346.9 L249.3,346.8 L247.7,346.8 L246.1,346.7 L244.5,346.6 L242.9,346.5 L241.3,346.3 L239.8,346.2 L238.2,346.0 L236.6,345.9 L235.0,345.7 L233.4,345.4 L231.8,345.2 L230.2,344.9 L228.6,344.6 L227.0,344.2 L225.4,343.9 L223.8,343.4 L222.2,343.0 L220.6,342.5 L219.0,341.9 L217.4,341.3 L215.8,340.6 L214.3,339.9 L212.7,339.1 L211.1,338.3 L209.5,337.4 L207.9,336.4 L206.3,335.3 L204.7,334.2 L203.1,333.1 L201.5,331.8 L199.9,330.5 L198.3,329.2 L196.7,327.8 L195.1,326.3 L193.5,324.8 L191.9,323.2 L190.4,321.6 L188.8,319.9 L187.2,318.2 L185.6,316.5 L184.0,314.8 L182.4,313.0 L180.8,311.3 L179.2,309.5 L177.6,307.8 L176.0,306.2 L174.4,304.5 L172.8,303.0 L171.2,301.4 L169.6,300.0 L168.0,298.6 L166.4,297.4 L164.9,296.2 L163.3,295.2 L161.7,294.3 L160.1,293.5 L158.5,292.9 L156.9,292.4 L155.3,292.0 L153.7,291.8 L152.1,291.8 L150.5,292.0 L148.9,292.3 L147.3,292.9 L145.7,293.6 L144.1,294.6 L142.5,295.7 L141.0,297.0 L139.4,298.4 L137.8,299.9 L136.2,301.6 L134.6,303.3 L133.0,305.2 L131.4,307.1 L129.8,309.0 L128.2,311.0 L126.6,313.0 L125.0,315.0 L123.4,317.0 L121.8,319.0 L120.2,320.9 L118.6,322.8 L117.0,324.6 L115.5,326.4 L113.9,328.1 L112.3,329.7 L110.7,331.2 L109.1,332.7 L107.5,334.0 L105.9,335.3 L104.3,336.5 L102.7,337.6 L101.1,338.6 L99.5,339.6 L97.9,340.4 L96.3,341.2 L94.7,341.9 L93.1,342.6 L91.6,343.1 L90.0,343.7 L88.4,344.1 L86.8,344.5 L85.2,344.9 L83.6,345.2 L82.0,345.5 L80.4,345.8 L78.8,346.0 L77.2,346.2 L75.6,346.3 L74.0,346.5 L72.4,346.6 L70.8,346.7 L69.2,346.8 L67.6,346.9 L66.1,346.9 L64.5,347.0 L62.9,347.1 L61.3,347.1 L59.7,347.1 L58.1,347.2 L56.5,347.2 L54.9,347.2 L53.3,347.2 L51.7,347.3 L50.1,347.3 L48.5,347.3 L46.9,347.3 L45.3,347.3 L43.7,347.3 L42.2,347.3 L40.6,347.4 L39.0,347.4 L37.4,347.4 L35.8,347.4 L34.2,347.4 L32.6,347.4" fill="none" stroke="#1a80e0" stroke-width="1.8"/>
<path d="M509.1,346.9 L507.5,346.9 L505.9,346.8 L504.3,346.8 L502.7,346.8 L501.1,346.8 L499.5,346.8 L497.9,346.7 L496.3,346.7 L494.7,346.7 L493.1,346.7 L491.5,346.7 L489.9,346.6 L488.3,346.6 L486.8,346.6 L485.2,346.5 L483.6,346.5 L482.0,346.5 L480.4,346.5 L478.8,346.4 L477.2,346.4 L475.6,346.4 L474.0,346.3 L472.4,346.3 L470.8,346.2 L469.2,346.2 L467.6,346.1 L466.0,346.1 L464.4,346.0 L462.8,346.0 L461.3,345.9 L459.7,345.8 L458.1,345.7 L456.5,345.6 L454.9,345.5 L453.3,345.4 L451.7,345.3 L450.1,345.1 L448.5,344.9 L446.9,344.7 L445.3,344.5 L443.7,344.2 L442.1,343.8 L440.5,343.4 L438.9,343.0 L437.4,342.4 L435.8,341.8 L434.2,341.0 L432.6,340.2 L431.0,339.2 L429.4,338.1 L427.8,336.8 L426.2,335.4 L424.6,333.7 L423.0,331.9 L421.4,329.7 L419.8,327.4 L418.2,324.8 L416.6,321.9 L415.0,318.7 L413.4,315.1 L411.9,311.3 L410.3,307.2 L408.7,302.7 L407.1,297.9 L405.5,292.8 L403.9,287.4 L402.3,281.7 L400.7,275.7 L399.1,269.6 L397.5,263.2 L395.9,256.7 L394.3,250.1 L392.7,243.5 L391.1,237.0 L389.5,230.5 L388.0,224.2 L386.4,218.1 L384.8,212.3 L383.2,206.9 L381.6,202.0 L380.0,197.6 L378.4,193.8 L376.8,190.7 L375.2,188.3 L373.6,186.6 L372.0,185.7 L370.4,185.7 L368.8,186.5 L367.2,188.2 L365.6,190.7 L364.0,194.0 L362.5,198.0 L360.9,202.6 L359.3,207.9 L357.7,213.6 L356.1,219.7 L354.5,226.2 L352.9,232.8 L351.3,239.7 L349.7,246.6 L348.1,253.5 L346.5,260.3 L344.9,267.0 L343.3,273.5 L341.7,279.8 L340.1,285.8 L338.6,291.6 L337.0,297.0 L335.4,302.1 L333.8,306.8 L332.2,311.1 L330.6,315.2 L329.0,318.8 L327.4,322.2 L325.8,325.2 L324.2,327.9 L322.6,330.3 L321.0,332.4 L319.4,334.3 L317.8,335.9 L316.2,337.4 L314.6,338.6 L313.1,339.7 L311.5,340.7 L309.9,341.5 L308.3,342.2 L306.7,342.8 L305.1,343.3 L303.5,343.7 L301.9,344.1 L300.3,344.4 L298.7,344.7 L297.1,344.9 L295.5,345.1 L293.9,345.3 L292.3,345.4 L290.7,345.6 L289.2,345.7 L287.6,345.8 L286.0,345.8 L284.4,345.9 L282.8,346.0 L281.2,346.1 L279.6,346.1 L278.0,346.2 L276.4,346.2 L274.8,346.3 L273.2,346.3 L271.6,346.3 L270.0,346.4 L268.4,346.4 L266.8,346.5 L265.2,346.5 L263.7,346.5 L262.1,346.5 L260.5,346.6 L258.9,346.6 L257.3,346.6 L255.7,346.7 L254.1,346.7 L252.5,346.7 L250.9,346.7 L249.3,346.7 L247.7,346.8 L246.1,346.8 L244.5,346.8 L242.9,346.8 L241.3,346.8 L239.8,346.9 L238.2,346.9 L236.6,346.9 L235.0,346.9 L233.4,346.9 L231.8,346.9 L230.2,347.0 L228.6,347.0 L227.0,347.0 L225.4,347.0 L223.8,347.0 L222.2,347.0 L220.6,347.0 L219.0,347.0 L217.4,347.1 L215.8,347.1 L214.3,347.1 L212.7,347.1 L211.1,347.1 L209.5,347.1 L207.9,347.1 L206.3,347.1 L204.7,347.1 L203.1,347.1 L201.5,347.2 L199.9,347.2 L198.3,347.2 L196.7,347.2 L195.1,347.2 L193.5,347.2 L191.9,347.2 L190.4,347.2 L188.8,347.2 L187.2,347.2 L185.6,347.2 L184.0,347.2 L182.4,347.2 L180.8,347.2 L179.2,347.2 L177.6,347.3 L176.0,347.3 L174.4,347.3 L172.8,347.3 L171.2,347.3 L169.6,347.3 L168.0,347.3 L166.4,347.3 L164.9,347.3 L163.3,347.3 L161.7,347.3 L160.1,347.3 L158.5,347.3 L156.9,347.3 L155.3,347.3 L153.7,347.3 L152.1,347.3 L150.5,347.3 L148.9,347.3 L147.3,347.3 L145.7,347.3 L144.1,347.3 L142.5,347.4 L141.0,347.4 L139.4,347.4 L137.8,347.4 L136.2,347.4 L134.6,347.4 L133.0,347.4 L131.4,347.4 L129.8,347.4 L128.2,347.4 L126.6,347.4 L125.0,347.4 L123.4,347.4 L121.8,347.4 L120.2,347.4 L118.6,347.4 L117.0,347.4 L115.5,347.4 L113.9,347.4 L112.3,347.4 L110.7,347.4 L109.1,347.4 L107.5,347.4 L105.9,347.4 L104.3,347.4 L102.7,347.4 L101.1,347.4 L99.5,347.4 L97.9,347.4 L96.3,347.4 L94.7,347.4 L93.1,347.4 L91.6,347.4 L90.0,347.4 L88.4,347.4 L86.8,347.4 L85.2,347.4 L83.6,347.4 L82.0,347.4 L80.4,347.4 L78.8,347.4 L77.2,347.4 L75.6,347.4 L74.0,347.5 L72.4,347.5 L70.8,347.5 L69.2,347.5 L67.6,347.5 L66.1,347.5 L64.5,347.5 L62.9,347.5 L61.3,347.5 L59.7,347.5 L58.1,347.5 L56.5,347.5 L54.9,347.5 L53.3,347.5 L51.7,347.5 L50.1,347.5 L48.5,347.5 L46.9,347.5 L45.3,347.5 L43.7,347.5 L42.2,347.5 L40.6,347.5 L39.0,347.5 L37.4,347.5 L35.8,347.5 L34.2,347.5 L32.6,347.5" fill="none" stroke="#ff0000" stroke-width="1.8"/>
<path d="M509.1,347.3 L507.5,347.3 L505.9,347.3 L504.3,347.3 L502.7,347.3 L501.1,347.3 L499.5,347.3 L497.9,347.3 L496.3,347.3 L494.7,347.3 L493.1,347.3 L491.5,347.3 L489.9,347.2 L488.3,347.2 L486.8,347.2 L485.2,347.2 L483.6,347.2 L482.0,347.2 L480.4,347.2 L478.8,347.2 L477.2,347.2 L475.6,347.2 L474.0,347.2 L472.4,347.2 L470.8,347.2 L469.2,347.1 L467.6,347.1 L466.0,347.1 L464.4,347.1 L462.8,347.1 L461.3,347.1 L459.7,347.1 L458.1,347.1 L456.5,347.0 L454.9,347.0 L453.3,347.0 L451.7,347.0 L450.1,347.0 L448.5,346.9 L446.9,346.9 L445.3,346.9 L443.7,346.8 L442.1,346.8 L440.5,346.8 L438.9,346.7 L437.4,346.7 L435.8,346.6 L434.2,346.5 L432.6,346.4 L431.0,346.4 L429.4,346.3 L427.8,346.1 L426.2,346.0 L424.6,345.9 L423.0,345.7 L421.4,345.5 L419.8,345.3 L418.2,345.1 L416.6,344.8 L415.0,344.5 L413.4,344.2 L411.9,343.8 L410.3,343.4 L408.7,342.9 L407.1,342.4 L405.5,341.9 L403.9,341.3 L402.3,340.6 L400.7,339.8 L399.1,339.0 L397.5,338.1 L395.9,337.1 L394.3,336.0 L392.7,334.8 L391.1,333.5 L389.5,332.2 L388.0,330.7 L386.4,329.1 L384.8,327.4 L383.2,325.6 L381.6,323.6 L380.0,321.6 L378.4,319.4 L376.8,317.1 L375.2,314.7 L373.6,312.1 L372.0,309.5 L370.4,306.7 L368.8,303.8 L367.2,300.9 L365.6,297.8 L364.0,294.6 L362.5,291.4 L360.9,288.1 L359.3,284.8 L357.7,281.4 L356.1,278.0 L354.5,274.6 L352.9,271.1 L351.3,267.8 L349.7,264.4 L348.1,261.1 L346.5,257.9 L344.9,254.8 L343.3,251.8 L341.7,248.9 L340.1,246.2 L338.6,243.6 L337.0,241.3 L335.4,239.1 L333.8,237.2 L332.2,235.5 L330.6,234.0 L329.0,232.8 L327.4,231.9 L325.8,231.2 L324.2,230.9 L322.6,230.8 L321.0,231.1 L319.4,231.6 L317.8,232.5 L316.2,233.7 L314.6,235.3 L313.1,237.1 L311.5,239.2 L309.9,241.5 L308.3,244.1 L306.7,246.9 L305.1,249.9 L303.5,253.0 L301.9,256.4 L300.3,259.8 L298.7,263.3 L297.1,266.9 L295.5,270.6 L293.9,274.3 L292.3,278.0 L290.7,281.6 L289.2,285.3 L287.6,288.9 L286.0,292.4 L284.4,295.9 L282.8,299.3 L281.2,302.5 L279.6,305.7 L278.0,308.7 L276.4,311.6 L274.8,314.4 L273.2,317.0 L271.6,319.5 L270.0,321.8 L268.4,324.0 L266.8,326.1 L265.2,328.0 L263.7,329.8 L262.1,331.5 L260.5,333.0 L258.9,334.4 L257.3,335.7 L255.7,336.9 L254.1,338.0 L252.5,339.0 L250.9,339.9 L249.3,340.7 L247.7,341.4 L246.1,342.1 L244.5,342.6 L242.9,343.2 L241.3,343.6 L239.8,344.1 L238.2,344.4 L236.6,344.8 L235.0,345.0 L233.4,345.3 L231.8,345.5 L230.2,345.7 L228.6,345.9 L227.0,346.1 L225.4,346.2 L223.8,346.3 L222.2,346.4 L220.6,346.5 L219.0,346.6 L217.4,346.6 L215.8,346.7 L214.3,346.8 L212.7,346.8 L211.1,346.8 L209.5,346.9 L207.9,346.9 L206.3,346.9 L204.7,347.0 L203.1,347.0 L201.5,347.0 L199.9,347.0 L198.3,347.1 L196.7,347.1 L195.1,347.1 L193.5,347.1 L191.9,347.1 L190.4,347.1 L188.8,347.1 L187.2,347.1 L185.6,347.2 L184.0,347.2 L182.4,347.2 L180.8,347.2 L179.2,347.2 L177.6,347.2 L176.0,347.2 L174.4,347.2 L172.8,347.2 L171.2,347.2 L169.6,347.2 L168.0,347.2 L166.4,347.3 L164.9,347.3 L163.3,347.3 L161.7,347.3 L160.1,347.3 L158.5,347.3 L156.9,347.3 L155.3,347.3 L153.7,347.3 L152.1,347.3 L150.5,347.3 L148.9,347.3 L147.3,347.3 L145.7,347.3 L144.1,347.3 L142.5,347.3 L141.0,347.3 L139.4,347.3 L137.8,347.4 L136.2,347.4 L134.6,347.4 L133.0,347.4 L131.4,347.4 L129.8,347.4 L128.2,347.4 L126.6,347.4 L125.0,347.4 L123.4,347.4 L121.8,347.4 L120.2,347.4 L118.6,347.4 L117.0,347.4 L115.5,347.4 L113.9,347.4 L112.3,347.4 L110.7,347.4 L109.1,347.4 L107.5,347.4 L105.9,347.4 L104.3,347.4 L102.7,347.4 L101.1,347.4 L99.5,347.4 L97.9,347.4 L96.3,347.4 L94.7,347.4 L93.1,347.4 L91.6,347.4 L90.0,347.4 L88.4,347.4 L86.8,347.4 L85.2,347.4 L83.6,347.4 L82.0,347.5 L80.4,347.5 L78.8,347.5 L77.2,347.5 L75.6,347.5 L74.0,347.5 L72.4,347.5 L70.8,347.5 L69.2,347.5 L67.6,347.5 L66.1,347.5 L64.5,347.5 L62.9,347.5 L61.3,347.5 L59.7,347.5 L58.1,347.5 L56.5,347.5 L54.9,347.5 L53.3,347.5 L51.7,347.5 L50.1,347.5 L48.5,347.5 L46.9,347.5 L45.3,347.5 L43.7,347.5 L42.2,347.5 L40.6,347.5 L39.0,347.5 L37.4,347.5 L35.8,347.5 L34.2,347.5 L32.6,347.5" fill="none" stroke="#ff0000" stroke-width="1.8"/>
<path d="M509.1,347.6 L507.5,347.6 L505.9,347.6 L504.3,347.6 L502.7,347.6 L501.1,347.6 L499.5,347.6 L497.9,347.6 L496.3,347.6 L494.7,347.6 L493.1,347.6 L491.5,347.6 L489.9,347.6 L488.3,347.6 L486.8,347.6 L485.2,347.6 L483.6,347.6 L482.0,347.6 L480.4,347.6 L478.8,347.6 L477.2,347.6 L475.6,347.6 L474.0,347.6 L472.4,347.6 L470.8,347.6 L469.2,347.6 L467.6,347.6 L466.0,347.6 L464.4,347.6 L462.8,347.6 L461.3,347.6 L459.7,347.6 L458.1,347.6 L456.5,347.5 L454.9,347.5 L453.3,347.5 L451.7,347.5 L450.1,347.5 L448.5,347.5 L446.9,347.5 L445.3,347.5 L443.7,347.5 L442.1,347.5 L440.5,347.5 L438.9,347.5 L437.4,347.5 L435.8,347.5 L434.2,347.5 L432.6,347.5 L431.0,347.5 L429.4,347.5 L427.8,347.5 L426.2,347.5 L424.6,347.5 L423.0,347.5 L421.4,347.5 L419.8,347.5 L418.2,347.5 L416.6,347.5 L415.0,347.5 L413.4,347.5 L411.9,347.5 L410.3,347.5 L408.7,347.5 L407.1,347.5 L405.5,347.5 L403.9,347.5 L402.3,347.5 L400.7,347.5 L399.1,347.5 L397.5,347.5 L395.9,347.5 L394.3,347.5 L392.7,347.5 L391.1,347.5 L389.5,347.5 L388.0,347.5 L386.4,347.5 L384.8,347.5 L383.2,347.5 L381.6,347.5 L380.0,347.5 L378.4,347.5 L376.8,347.5 L375.2,347.5 L373.6,347.5 L372.0,347.5 L370.4,347.5 L368.8,347.5 L367.2,347.5 L365.6,347.5 L364.0,347.5 L362.5,347.5 L360.9,347.5 L359.3,347.5 L357.7,347.5 L356.1,347.5 L354.5,347.5 L352.9,347.5 L351.3,347.5 L349.7,347.5 L348.1,347.4 L346.5,347.4 L344.9,347.4 L343.3,347.4 L341.7,347.4 L340.1,347.4 L338.6,347.4 L337.0,347.4 L335.4,347.4 L333.8,347.4 L332.2,347.4 L330.6,347.4 L329.0,347.4 L327.4,347.4 L325.8,347.4 L324.2,347.4 L322.6,347.4 L321.0,347.4 L319.4,347.4 L317.8,347.4 L316.2,347.4 L314.6,347.3 L313.1,347.3 L311.5,347.3 L309.9,347.3 L308.3,347.3 L306.7,347.3 L305.1,347.3 L303.5,347.3 L301.9,347.3 L300.3,347.3 L298.7,347.2 L297.1,347.2 L295.5,347.2 L293.9,347.2 L292.3,347.1 L290.7,347.1 L289.2,347.1 L287.6,347.0 L286.0,347.0 L284.4,346.9 L282.8,346.8 L281.2,346.7 L279.6,346.6 L278.0,346.5 L276.4,346.3 L274.8,346.2 L273.2,345.9 L271.6,345.7 L270.0,345.4 L268.4,345.1 L266.8,344.7 L265.2,344.2 L263.7,343.7 L262.1,343.1 L260.5,342.4 L258.9,341.7 L257.3,340.8 L255.7,339.8 L254.1,338.7 L252.5,337.5 L250.9,336.2 L249.3,334.8 L247.7,333.2 L246.1,331.4 L244.5,329.6 L242.9,327.6 L241.3,325.5 L239.8,323.2 L238.2,320.8 L236.6,318.3 L235.0,315.7 L233.4,313.1 L231.8,310.3 L230.2,307.5 L228.6,304.7 L227.0,302.0 L225.4,299.2 L223.8,296.5 L222.2,293.9 L220.6,291.3 L219.0,289.0 L217.4,286.8 L215.8,284.8 L214.3,283.1 L212.7,281.6 L211.1,280.4 L209.5,279.4 L207.9,278.8 L206.3,278.5 L204.7,278.5 L203.1,278.8 L201.5,279.3 L199.9,280.0 L198.3,280.9 L196.7,282.0 L195.1,283.3 L193.5,284.8 L191.9,286.4 L190.4,288.2 L188.8,290.2 L187.2,292.2 L185.6,294.3 L184.0,296.6 L182.4,298.8 L180.8,301.2 L179.2,303.5 L177.6,305.9 L176.0,308.2 L174.4,310.6 L172.8,312.9 L171.2,315.1 L169.6,317.3 L168.0,319.5 L166.4,321.5 L164.9,323.5 L163.3,325.4 L161.7,327.2 L160.1,328.9 L158.5,330.5 L156.9,332.1 L155.3,333.5 L153.7,334.8 L152.1,336.0 L150.5,337.2 L148.9,338.2 L147.3,339.2 L145.7,340.1 L144.1,340.9 L142.5,341.6 L141.0,342.3 L139.4,342.8 L137.8,343.4 L136.2,343.9 L134.6,344.3 L133.0,344.7 L131.4,345.0 L129.8,345.3 L128.2,345.6 L126.6,345.8 L125.0,346.0 L123.4,346.2 L121.8,346.3 L120.2,346.4 L118.6,346.6 L117.0,346.7 L115.5,346.8 L113.9,346.8 L112.3,346.9 L110.7,346.9 L109.1,347.0 L107.5,347.0 L105.9,347.1 L104.3,347.1 L102.7,347.1 L101.1,347.2 L99.5,347.2 L97.9,347.2 L96.3,347.2 L94.7,347.2 L93.1,347.3 L91.6,347.3 L90.0,347.3 L88.4,347.3 L86.8,347.3 L85.2,347.3 L83.6,347.3 L82.0,347.3 L80.4,347.3 L78.8,347.3 L77.2,347.3 L75.6,347.3 L74.0,347.4 L72.4,347.4 L70.8,347.4 L69.2,347.4 L67.6,347.4 L66.1,347.4 L64.5,347.4 L62.9,347.4 L61.3,347.4 L59.7,347.4 L58.1,347.4 L56.5,347.4 L54.9,347.4 L53.3,347.4 L51.7,347.4 L50.1,347.4 L48.5,347.4 L46.9,347.4 L45.3,347.4 L43.7,347.4 L42.2,347.4 L40.6,347.4 L39.0,347.4 L37.4,347.4 L35.8,347.4 L34.2,347.5 L32.6,347.5" fill="none" stroke="#ff0000" stroke-width="1.8"/>
<path d="M509.1,347.6 L507.5,347.6 L505.9,347.6 L504.3,347.6 L502.7,347.6 L501.1,347.6 L499.5,347.6 L497.9,347.6 L496.3,347.6 L494.7,347.6 L493.1,347.6 L491.5,347.6 L489.9,347.6 L488.3,347.6 L486.8,347.6 L485.2,347.6 L483.6,347.6 L482.0,347.6 L480.4,347.6 L478.8,347.6 L477.2,347.6 L475.6,347.6 L474.0,347.6 L472.4,347.6 L470.8,347.5 L469.2,347.5 L467.6,347.5 L466.0,347.5 L464.4,347.5 L462.8,347.5 L461.3,347.5 L459.7,347.5 L458.1,347.5 L456.5,347.5 L454.9,347.5 L453.3,347.5 L451.7,347.5 L450.1,347.5 L448.5,347.5 L446.9,347.5 L445.3,347.5 L443.7,347.5 L442.1,347.5 L440.5,347.5 L438.9,347.5 L437.4,347.5 L435.8,347.5 L434.2,347.5 L432.6,347.5 L431.0,347.5 L429.4,347.5 L427.8,347.5 L426.2,347.5 L424.6,347.5 L423.0,347.5 L421.4,347.5 L419.8,347.5 L418.2,347.5 L416.6,347.5 L415.0,347.5 L413.4,347.5 L411.9,347.5 L410.3,347.5 L408.7,347.5 L407.1,347.5 L405.5,347.5 L403.9,347.5 L402.3,347.5 L400.7,347.5 L399.1,347.5 L397.5,347.5 L395.9,347.5 L394.3,347.5 L392.7,347.5 L391.1,347.5 L389.5,347.5 L388.0,347.5 L386.4,347.5 L384.8,347.5 L383.2,347.5 L381.6,347.5 L380.0,347.5 L378.4,347.5 L376.8,347.5 L375.2,347.5 L373.6,347.5 L372.0,347.5 L370.4,347.5 L368.8,347.5 L367.2,347.5 L365.6,347.5 L364.0,347.5 L362.5,347.5 L360.9,347.5 L359.3,347.5 L357.7,347.5 L356.1,347.5 L354.5,347.5 L352.9,347.5 L351.3,347.5 L349.7,347.5 L348.1,347.5 L346.5,347.5 L344.9,347.5 L343.3,347.5 L341.7,347.5 L340.1,347.5 L338.6,347.5 L337.0,347.5 L335.4,347.5 L333.8,347.4 L332.2,347.4 L330.6,347.4 L329.0,347.4 L327.4,347.4 L325.8,347.4 L324.2,347.4 L322.6,347.4 L321.0,347.4 L319.4,347.4 L317.8,347.4 L316.2,347.4 L314.6,347.4 L313.1,347.4 L311.5,347.4 L309.9,347.4 L308.3,347.4 L306.7,347.4 L305.1,347.4 L303.5,347.4 L301.9,347.4 L300.3,347.4 L298.7,347.4 L297.1,347.4 L295.5,347.4 L293.9,347.4 L292.3,347.3 L290.7,347.3 L289.2,347.3 L287.6,347.3 L286.0,347.3 L284.4,347.3 L282.8,347.3 L281.2,347.3 L279.6,347.3 L278.0,347.3 L276.4,347.2 L274.8,347.2 L273.2,347.2 L271.6,347.2 L270.0,347.2 L268.4,347.1 L266.8,347.1 L265.2,347.1 L263.7,347.0 L262.1,347.0 L260.5,346.9 L258.9,346.9 L257.3,346.8 L255.7,346.7 L254.1,346.7 L252.5,346.6 L250.9,346.5 L249.3,346.4 L247.7,346.2 L246.1,346.1 L244.5,345.9 L242.9,345.7 L241.3,345.5 L239.8,345.3 L238.2,345.0 L236.6,344.7 L235.0,344.4 L233.4,344.1 L231.8,343.7 L230.2,343.3 L228.6,342.8 L227.0,342.3 L225.4,341.8 L223.8,341.2 L222.2,340.5 L220.6,339.8 L219.0,339.1 L217.4,338.2 L215.8,337.4 L214.3,336.4 L212.7,335.4 L211.1,334.4 L209.5,333.3 L207.9,332.1 L206.3,330.8 L204.7,329.5 L203.1,328.2 L201.5,326.7 L199.9,325.3 L198.3,323.7 L196.7,322.2 L195.1,320.5 L193.5,318.9 L191.9,317.2 L190.4,315.5 L188.8,313.8 L187.2,312.0 L185.6,310.3 L184.0,308.5 L182.4,306.8 L180.8,305.1 L179.2,303.4 L177.6,301.8 L176.0,300.2 L174.4,298.7 L172.8,297.3 L171.2,295.9 L169.6,294.7 L168.0,293.5 L166.4,292.4 L164.9,291.5 L163.3,290.7 L161.7,290.0 L160.1,289.5 L158.5,289.1 L156.9,288.8 L155.3,288.7 L153.7,288.8 L152.1,289.0 L150.5,289.4 L148.9,290.0 L147.3,290.7 L145.7,291.6 L144.1,292.7 L142.5,293.9 L141.0,295.2 L139.4,296.6 L137.8,298.2 L136.2,299.8 L134.6,301.5 L133.0,303.3 L131.4,305.2 L129.8,307.1 L128.2,309.0 L126.6,310.9 L125.0,312.8 L123.4,314.7 L121.8,316.6 L120.2,318.5 L118.6,320.3 L117.0,322.1 L115.5,323.9 L113.9,325.5 L112.3,327.2 L110.7,328.7 L109.1,330.2 L107.5,331.6 L105.9,332.9 L104.3,334.2 L102.7,335.3 L101.1,336.4 L99.5,337.5 L97.9,338.4 L96.3,339.3 L94.7,340.1 L93.1,340.9 L91.6,341.5 L90.0,342.2 L88.4,342.7 L86.8,343.2 L85.2,343.7 L83.6,344.1 L82.0,344.5 L80.4,344.8 L78.8,345.1 L77.2,345.4 L75.6,345.7 L74.0,345.9 L72.4,346.1 L70.8,346.2 L69.2,346.4 L67.6,346.5 L66.1,346.6 L64.5,346.7 L62.9,346.8 L61.3,346.9 L59.7,346.9 L58.1,347.0 L56.5,347.0 L54.9,347.1 L53.3,347.1 L51.7,347.1 L50.1,347.2 L48.5,347.2 L46.9,347.2 L45.3,347.2 L43.7,347.3 L42.2,347.3 L40.6,347.3 L39.0,347.3 L37.4,347.3 L35.8,347.3 L34.2,347.3 L32.6,347.3" fill="none" stroke="#ff0000" stroke-width="1.8"/>
<g fill="#ff0000"><circle cx="34.0" cy="346.0" r="2.8"/><circle cx="35.4" cy="346.2" r="2.8"/><circle cx="36.8" cy="345.8" r="2.8"/><circle cx="38.3" cy="345.5" r="2.8"/><circle cx="39.7" cy="345.7" r="2.8"/><circle cx="41.1" cy="345.4" r="2.8"/><circle cx="42.5" cy="346.0" r="2.8"/><circle cx="44.0" cy="346.5" r="2.8"/><circle cx="45.4" cy="345.7" r="2.8"/><circle cx="46.8" cy="345.6" r="2.8"/><circle cx="48.2" cy="346.3" r="2.8"/><circle cx="49.6" cy="346.2" r="2.8"/><circle cx="51.1" cy="346.1" r="2.8"/><circle cx="52.5" cy="345.4" r="2.8"/><circle cx="53.9" cy="346.0" r="2.8"/><circle cx="55.3" cy="346.4" r="2.8"/><circle cx="56.8" cy="345.2" r="2.8"/><circle cx="58.2" cy="345.7" r="2.8"/><circle cx="59.6" cy="344.9" r="2.8"/><circle cx="61.0" cy="345.2" r="2.8"/><circle cx="62.4" cy="344.9" r="2.8"/><circle cx="63.9" cy="345.8" r="2.8"/><circle cx="65.3" cy="345.1" r="2.8"/><circle cx="66.7" cy="345.9" r="2.8"/><circle cx="68.1" cy="345.8" r="2.8"/><circle cx="69.6" cy="345.4" r="2.8"/><circle cx="71.0" cy="343.7" r="2.8"/><circle cx="72.4" cy="344.1" r="2.8"/><circle cx="73.8" cy="343.4" r="2.8"/><circle cx="75.2" cy="342.8" r="2.8"/><circle cx="76.7" cy="341.2" r="2.8"/><circle cx="78.1" cy="341.3" r="2.8"/><circle cx="79.5" cy="340.4" r="2.8"/><circle cx="80.9" cy="340.0" r="2.8"/><circle cx="82.4" cy="340.5" r="2.8"/><circle cx="83.8" cy="338.7" r="2.8"/><circle cx="85.2" cy="338.4" r="2.8"/><circle cx="86.6" cy="338.0" r="2.8"/><circle cx="88.0" cy="336.1" r="2.8"/><circle cx="89.5" cy="335.3" r="2.8"/><circle cx="90.9" cy="334.4" r="2.8"/><circle cx="92.3" cy="333.3" r="2.8"/><circle cx="93.7" cy="331.4" r="2.8"/><circle cx="95.2" cy="331.1" r="2.8"/><circle cx="96.6" cy="330.7" r="2.8"/><circle cx="98.0" cy="327.8" r="2.8"/><circle cx="99.4" cy="328.0" r="2.8"/><circle cx="100.8" cy="326.4" r="2.8"/><circle cx="102.3" cy="324.8" r="2.8"/><circle cx="103.7" cy="325.3" r="2.8"/><circle cx="105.1" cy="323.4" r="2.8"/><circle cx="106.5" cy="321.0" r="2.8"/><circle cx="108.0" cy="320.7" r="2.8"/><circle cx="109.4" cy="319.8" r="2.8"/><circle cx="110.8" cy="318.1" r="2.8"/><circle cx="112.2" cy="317.4" r="2.8"/><circle cx="113.6" cy="315.7" r="2.8"/><circle cx="115.1" cy="314.8" r="2.8"/><circle cx="116.5" cy="313.8" r="2.8"/><circle cx="117.9" cy="311.1" r="2.8"/><circle cx="119.3" cy="310.1" r="2.8"/><circle cx="120.8" cy="308.3" r="2.8"/><circle cx="122.2" cy="307.2" r="2.8"/><circle cx="123.6" cy="305.0" r="2.8"/><circle cx="125.0" cy="303.9" r="2.8"/><circle cx="126.4" cy="302.7" r="2.8"/><circle cx="127.9" cy="302.0" r="2.8"/><circle cx="129.3" cy="300.8" r="2.8"/><circle cx="130.7" cy="297.9" r="2.8"/><circle cx="132.1" cy="296.7" r="2.8"/><circle cx="133.6" cy="296.1" r="2.8"/><circle cx="135.0" cy="293.1" r="2.8"/><circle cx="136.4" cy="292.8" r="2.8"/><circle cx="137.8" cy="292.0" r="2.8"/><circle cx="139.3" cy="292.1" r="2.8"/><circle cx="140.7" cy="291.2" r="2.8"/><circle cx="142.1" cy="290.1" r="2.8"/><circle cx="143.5" cy="289.6" r="2.8"/><circle cx="144.9" cy="289.3" r="2.8"/><circle cx="146.4" cy="289.9" r="2.8"/><circle cx="147.8" cy="288.2" r="2.8"/><circle cx="149.2" cy="287.7" r="2.8"/><circle cx="150.6" cy="287.5" r="2.8"/><circle cx="152.1" cy="286.4" r="2.8"/><circle cx="153.5" cy="285.5" r="2.8"/><circle cx="154.9" cy="284.0" r="2.8"/><circle cx="156.3" cy="283.7" r="2.8"/><circle cx="157.7" cy="282.6" r="2.8"/><circle cx="159.2" cy="282.6" r="2.8"/><circle cx="160.6" cy="281.5" r="2.8"/><circle cx="162.0" cy="280.3" r="2.8"/><circle cx="163.4" cy="280.0" r="2.8"/><circle cx="164.9" cy="278.7" r="2.8"/><circle cx="166.3" cy="278.7" r="2.8"/><circle cx="167.7" cy="277.1" r="2.8"/><circle cx="169.1" cy="276.5" r="2.8"/><circle cx="170.5" cy="274.0" r="2.8"/><circle cx="172.0" cy="273.3" r="2.8"/><circle cx="173.4" cy="270.3" r="2.8"/><circle cx="174.8" cy="268.6" r="2.8"/><circle cx="176.2" cy="268.4" r="2.8"/><circle cx="177.7" cy="267.0" r="2.8"/><circle cx="179.1" cy="266.6" r="2.8"/><circle cx="180.5" cy="266.9" r="2.8"/><circle cx="181.9" cy="264.1" r="2.8"/><circle cx="183.3" cy="263.2" r="2.8"/><circle cx="184.8" cy="262.5" r="2.8"/><circle cx="186.2" cy="261.5" r="2.8"/><circle cx="187.6" cy="259.5" r="2.8"/><circle cx="189.0" cy="257.8" r="2.8"/><circle cx="190.5" cy="256.7" r="2.8"/><circle cx="191.9" cy="255.1" r="2.8"/><circle cx="193.3" cy="252.9" r="2.8"/><circle cx="194.7" cy="252.5" r="2.8"/><circle cx="196.1" cy="251.7" r="2.8"/><circle cx="197.6" cy="250.3" r="2.8"/><circle cx="199.0" cy="250.5" r="2.8"/><circle cx="200.4" cy="249.5" r="2.8"/><circle cx="201.8" cy="250.7" r="2.8"/><circle cx="203.3" cy="250.7" r="2.8"/><circle cx="204.7" cy="251.5" r="2.8"/><circle cx="206.1" cy="252.0" r="2.8"/><circle cx="207.5" cy="253.3" r="2.8"/><circle cx="208.9" cy="253.5" r="2.8"/><circle cx="210.4" cy="255.6" r="2.8"/><circle cx="211.8" cy="258.3" r="2.8"/><circle cx="213.2" cy="258.7" r="2.8"/><circle cx="214.6" cy="262.4" r="2.8"/><circle cx="216.1" cy="262.9" r="2.8"/><circle cx="217.5" cy="266.6" r="2.8"/><circle cx="218.9" cy="267.9" r="2.8"/><circle cx="220.3" cy="271.4" r="2.8"/><circle cx="221.7" cy="273.6" r="2.8"/><circle cx="223.2" cy="275.4" r="2.8"/><circle cx="224.6" cy="280.2" r="2.8"/><circle cx="226.0" cy="283.6" r="2.8"/><circle cx="227.4" cy="286.1" r="2.8"/><circle cx="228.9" cy="289.3" r="2.8"/><circle cx="230.3" cy="292.5" r="2.8"/><circle cx="231.7" cy="295.1" r="2.8"/><circle cx="233.1" cy="299.5" r="2.8"/><circle cx="234.5" cy="301.6" r="2.8"/><circle cx="236.0" cy="305.0" r="2.8"/><circle cx="237.4" cy="307.5" r="2.8"/><circle cx="238.8" cy="310.4" r="2.8"/><circle cx="240.2" cy="312.7" r="2.8"/><circle cx="241.7" cy="317.0" r="2.8"/><circle cx="243.1" cy="319.2" r="2.8"/><circle cx="244.5" cy="322.9" r="2.8"/><circle cx="245.9" cy="325.0" r="2.8"/><circle cx="247.3" cy="326.7" r="2.8"/><circle cx="248.8" cy="328.4" r="2.8"/><circle cx="250.2" cy="328.7" r="2.8"/><circle cx="251.6" cy="328.9" r="2.8"/><circle cx="253.0" cy="328.4" r="2.8"/><circle cx="254.5" cy="328.0" r="2.8"/><circle cx="255.9" cy="326.7" r="2.8"/><circle cx="257.3" cy="325.5" r="2.8"/><circle cx="258.7" cy="325.3" r="2.8"/><circle cx="260.1" cy="322.5" r="2.8"/><circle cx="261.6" cy="320.9" r="2.8"/><circle cx="263.0" cy="320.4" r="2.8"/><circle cx="264.4" cy="319.7" r="2.8"/><circle cx="265.8" cy="316.4" r="2.8"/><circle cx="267.3" cy="315.5" r="2.8"/><circle cx="268.7" cy="313.5" r="2.8"/><circle cx="270.1" cy="310.9" r="2.8"/><circle cx="271.5" cy="310.4" r="2.8"/><circle cx="272.9" cy="307.8" r="2.8"/><circle cx="274.4" cy="305.6" r="2.8"/><circle cx="275.8" cy="302.6" r="2.8"/><circle cx="277.2" cy="300.6" r="2.8"/><circle cx="278.6" cy="297.1" r="2.8"/><circle cx="280.1" cy="294.4" r="2.8"/><circle cx="281.5" cy="290.8" r="2.8"/><circle cx="282.9" cy="287.7" r="2.8"/><circle cx="284.3" cy="286.2" r="2.8"/><circle cx="285.7" cy="282.0" r="2.8"/><circle cx="287.2" cy="279.3" r="2.8"/><circle cx="288.6" cy="275.9" r="2.8"/><circle cx="290.0" cy="272.3" r="2.8"/><circle cx="291.4" cy="268.8" r="2.8"/><circle cx="292.9" cy="265.8" r="2.8"/><circle cx="294.3" cy="261.7" r="2.8"/><circle cx="295.7" cy="258.4" r="2.8"/><circle cx="297.1" cy="255.3" r="2.8"/><circle cx="298.5" cy="253.1" r="2.8"/><circle cx="300.0" cy="250.0" r="2.8"/><circle cx="301.4" cy="247.2" r="2.8"/><circle cx="302.8" cy="244.2" r="2.8"/><circle cx="304.2" cy="241.4" r="2.8"/><circle cx="305.7" cy="240.6" r="2.8"/><circle cx="307.1" cy="238.6" r="2.8"/><circle cx="308.5" cy="236.1" r="2.8"/><circle cx="309.9" cy="234.7" r="2.8"/><circle cx="311.3" cy="233.0" r="2.8"/><circle cx="312.8" cy="231.3" r="2.8"/><circle cx="314.2" cy="229.5" r="2.8"/><circle cx="315.6" cy="226.9" r="2.8"/><circle cx="317.0" cy="226.3" r="2.8"/><circle cx="318.5" cy="222.6" r="2.8"/><circle cx="319.9" cy="221.7" r="2.8"/><circle cx="321.3" cy="219.3" r="2.8"/><circle cx="322.7" cy="217.2" r="2.8"/><circle cx="324.1" cy="215.4" r="2.8"/><circle cx="325.6" cy="212.6" r="2.8"/><circle cx="327.0" cy="208.5" r="2.8"/><circle cx="328.4" cy="205.6" r="2.8"/><circle cx="329.8" cy="204.4" r="2.8"/><circle cx="331.3" cy="200.5" r="2.8"/><circle cx="332.7" cy="198.2" r="2.8"/><circle cx="334.1" cy="195.7" r="2.8"/><circle cx="335.5" cy="191.2" r="2.8"/><circle cx="336.9" cy="187.7" r="2.8"/><circle cx="338.4" cy="185.9" r="2.8"/><circle cx="339.8" cy="182.3" r="2.8"/><circle cx="341.2" cy="178.7" r="2.8"/><circle cx="342.6" cy="175.3" r="2.8"/><circle cx="344.1" cy="171.0" r="2.8"/><circle cx="345.5" cy="166.7" r="2.8"/><circle cx="346.9" cy="163.6" r="2.8"/><circle cx="348.3" cy="159.6" r="2.8"/><circle cx="349.8" cy="156.0" r="2.8"/><circle cx="351.2" cy="154.2" r="2.8"/><circle cx="352.6" cy="150.9" r="2.8"/><circle cx="354.0" cy="148.3" r="2.8"/><circle cx="355.4" cy="144.7" r="2.8"/><circle cx="356.9" cy="142.3" r="2.8"/><circle cx="358.3" cy="140.0" r="2.8"/><circle cx="359.7" cy="138.3" r="2.8"/><circle cx="361.1" cy="137.4" r="2.8"/><circle cx="362.6" cy="136.1" r="2.8"/><circle cx="364.0" cy="136.9" r="2.8"/><circle cx="365.4" cy="137.4" r="2.8"/><circle cx="366.8" cy="139.1" r="2.8"/><circle cx="368.2" cy="138.6" r="2.8"/><circle cx="369.7" cy="142.8" r="2.8"/><circle cx="371.1" cy="145.8" r="2.8"/><circle cx="372.5" cy="149.4" r="2.8"/><circle cx="373.9" cy="151.6" r="2.8"/><circle cx="375.4" cy="155.3" r="2.8"/><circle cx="376.8" cy="159.5" r="2.8"/><circle cx="378.2" cy="163.3" r="2.8"/><circle cx="379.6" cy="169.1" r="2.8"/><circle cx="381.0" cy="174.8" r="2.8"/><circle cx="382.5" cy="181.6" r="2.8"/><circle cx="383.9" cy="186.7" r="2.8"/><circle cx="385.3" cy="190.9" r="2.8"/><circle cx="386.7" cy="197.7" r="2.8"/><circle cx="388.2" cy="203.8" r="2.8"/><circle cx="389.6" cy="210.4" r="2.8"/><circle cx="391.0" cy="219.6" r="2.8"/><circle cx="392.4" cy="228.4" r="2.8"/><circle cx="393.8" cy="235.4" r="2.8"/><circle cx="395.3" cy="242.9" r="2.8"/><circle cx="396.7" cy="251.9" r="2.8"/><circle cx="398.1" cy="260.8" r="2.8"/><circle cx="399.5" cy="266.7" r="2.8"/><circle cx="401.0" cy="272.8" r="2.8"/><circle cx="402.4" cy="278.6" r="2.8"/><circle cx="403.8" cy="284.2" r="2.8"/><circle cx="405.2" cy="290.0" r="2.8"/><circle cx="406.6" cy="295.0" r="2.8"/><circle cx="408.1" cy="300.0" r="2.8"/><circle cx="409.5" cy="304.4" r="2.8"/><circle cx="410.9" cy="310.0" r="2.8"/><circle cx="412.3" cy="313.5" r="2.8"/><circle cx="413.8" cy="318.3" r="2.8"/><circle cx="415.2" cy="320.4" r="2.8"/><circle cx="416.6" cy="324.2" r="2.8"/><circle cx="418.0" cy="327.3" r="2.8"/><circle cx="419.4" cy="329.3" r="2.8"/><circle cx="420.9" cy="333.5" r="2.8"/><circle cx="422.3" cy="335.2" r="2.8"/><circle cx="423.7" cy="335.7" r="2.8"/><circle cx="425.1" cy="337.9" r="2.8"/><circle cx="426.6" cy="339.0" r="2.8"/><circle cx="428.0" cy="338.3" r="2.8"/><circle cx="429.4" cy="340.9" r="2.8"/><circle cx="430.8" cy="341.3" r="2.8"/><circle cx="432.2" cy="342.0" r="2.8"/><circle cx="433.7" cy="341.8" r="2.8"/><circle cx="435.1" cy="342.8" r="2.8"/><circle cx="436.5" cy="343.3" r="2.8"/><circle cx="437.9" cy="344.5" r="2.8"/><circle cx="439.4" cy="344.4" r="2.8"/><circle cx="440.8" cy="344.5" r="2.8"/><circle cx="442.2" cy="345.6" r="2.8"/><circle cx="443.6" cy="344.6" r="2.8"/><circle cx="445.0" cy="344.8" r="2.8"/><circle cx="446.5" cy="344.0" r="2.8"/><circle cx="447.9" cy="346.1" r="2.8"/><circle cx="449.3" cy="345.8" r="2.8"/><circle cx="450.7" cy="345.8" r="2.8"/><circle cx="452.2" cy="345.8" r="2.8"/><circle cx="453.6" cy="345.5" r="2.8"/><circle cx="455.0" cy="345.6" r="2.8"/><circle cx="456.4" cy="345.4" r="2.8"/><circle cx="457.8" cy="345.5" r="2.8"/><circle cx="459.3" cy="345.7" r="2.8"/><circle cx="460.7" cy="346.5" r="2.8"/><circle cx="462.1" cy="346.1" r="2.8"/><circle cx="463.5" cy="345.8" r="2.8"/><circle cx="465.0" cy="345.5" r="2.8"/><circle cx="466.4" cy="345.5" r="2.8"/><circle cx="467.8" cy="346.5" r="2.8"/><circle cx="469.2" cy="346.3" r="2.8"/><circle cx="470.6" cy="346.1" r="2.8"/><circle cx="472.1" cy="345.9" r="2.8"/><circle cx="473.5" cy="345.4" r="2.8"/><circle cx="474.9" cy="346.1" r="2.8"/><circle cx="476.3" cy="346.5" r="2.8"/><circle cx="477.8" cy="346.0" r="2.8"/><circle cx="479.2" cy="346.1" r="2.8"/><circle cx="480.6" cy="346.1" r="2.8"/><circle cx="482.0" cy="346.4" r="2.8"/><circle cx="483.4" cy="345.4" r="2.8"/><circle cx="484.9" cy="346.2" r="2.8"/><circle cx="486.3" cy="345.9" r="2.8"/><circle cx="487.7" cy="346.5" r="2.8"/><circle cx="489.1" cy="345.9" r="2.8"/><circle cx="490.6" cy="346.5" r="2.8"/><circle cx="492.0" cy="346.5" r="2.8"/><circle cx="493.4" cy="346.3" r="2.8"/><circle cx="494.8" cy="346.1" r="2.8"/><circle cx="496.2" cy="346.5" r="2.8"/><circle cx="497.7" cy="346.5" r="2.8"/><circle cx="499.1" cy="345.9" r="2.8"/><circle cx="500.5" cy="346.5" r="2.8"/><circle cx="501.9" cy="346.5" r="2.8"/><circle cx="503.4" cy="346.3" r="2.8"/><circle cx="504.8" cy="346.4" r="2.8"/></g>
<g fill="#00b000"><circle cx="34.0" cy="337.0" r="3.1"/><circle cx="36.4" cy="342.1" r="3.1"/><circle cx="38.7" cy="336.0" r="3.1"/><circle cx="41.1" cy="336.4" r="3.1"/><circle cx="43.5" cy="345.2" r="3.1"/><circle cx="45.9" cy="336.3" r="3.1"/><circle cx="48.2" cy="343.2" r="3.1"/><circle cx="50.6" cy="344.2" r="3.1"/><circle cx="53.0" cy="338.7" r="3.1"/><circle cx="55.3" cy="339.3" r="3.1"/><circle cx="57.7" cy="344.0" r="3.1"/><circle cx="60.1" cy="335.2" r="3.1"/><circle cx="62.4" cy="333.2" r="3.1"/><circle cx="64.8" cy="329.7" r="3.1"/><circle cx="67.2" cy="334.1" r="3.1"/><circle cx="69.6" cy="336.8" r="3.1"/><circle cx="71.9" cy="330.6" r="3.1"/><circle cx="74.3" cy="318.8" r="3.1"/><circle cx="76.7" cy="313.7" r="3.1"/><circle cx="79.0" cy="309.9" r="3.1"/><circle cx="81.4" cy="308.0" r="3.1"/><circle cx="83.8" cy="301.6" r="3.1"/><circle cx="86.2" cy="299.5" r="3.1"/><circle cx="88.5" cy="296.5" r="3.1"/><circle cx="90.9" cy="290.3" r="3.1"/><circle cx="93.3" cy="286.7" r="3.1"/><circle cx="95.6" cy="282.2" r="3.1"/><circle cx="98.0" cy="273.8" r="3.1"/><circle cx="100.4" cy="268.9" r="3.1"/><circle cx="102.7" cy="267.9" r="3.1"/><circle cx="105.1" cy="256.9" r="3.1"/><circle cx="107.5" cy="248.3" r="3.1"/><circle cx="109.9" cy="235.0" r="3.1"/><circle cx="112.2" cy="236.4" r="3.1"/><circle cx="114.6" cy="221.5" r="3.1"/><circle cx="117.0" cy="218.3" r="3.1"/><circle cx="119.3" cy="222.3" r="3.1"/><circle cx="121.7" cy="218.2" r="3.1"/><circle cx="124.1" cy="212.1" r="3.1"/><circle cx="126.4" cy="204.7" r="3.1"/><circle cx="128.8" cy="208.7" r="3.1"/><circle cx="131.2" cy="207.4" r="3.1"/><circle cx="133.6" cy="212.4" r="3.1"/><circle cx="135.9" cy="218.6" r="3.1"/><circle cx="138.3" cy="211.4" r="3.1"/><circle cx="140.7" cy="209.1" r="3.1"/><circle cx="143.0" cy="209.6" r="3.1"/><circle cx="145.4" cy="217.3" r="3.1"/><circle cx="147.8" cy="221.0" r="3.1"/><circle cx="150.2" cy="221.6" r="3.1"/><circle cx="152.5" cy="230.9" r="3.1"/><circle cx="154.9" cy="230.0" r="3.1"/><circle cx="157.3" cy="241.9" r="3.1"/><circle cx="159.6" cy="244.6" r="3.1"/><circle cx="162.0" cy="247.3" r="3.1"/><circle cx="164.4" cy="243.6" r="3.1"/><circle cx="166.7" cy="248.9" r="3.1"/><circle cx="169.1" cy="247.5" r="3.1"/><circle cx="171.5" cy="247.4" r="3.1"/><circle cx="173.9" cy="248.3" r="3.1"/><circle cx="176.2" cy="245.3" r="3.1"/><circle cx="178.6" cy="245.3" r="3.1"/><circle cx="181.0" cy="254.2" r="3.1"/><circle cx="183.3" cy="250.7" r="3.1"/><circle cx="185.7" cy="252.6" r="3.1"/><circle cx="188.1" cy="255.8" r="3.1"/><circle cx="190.5" cy="245.4" r="3.1"/><circle cx="192.8" cy="248.9" r="3.1"/><circle cx="195.2" cy="252.4" r="3.1"/><circle cx="197.6" cy="253.1" r="3.1"/><circle cx="199.9" cy="250.1" r="3.1"/><circle cx="202.3" cy="255.5" r="3.1"/><circle cx="204.7" cy="252.7" r="3.1"/><circle cx="207.0" cy="247.7" r="3.1"/><circle cx="209.4" cy="249.3" r="3.1"/><circle cx="211.8" cy="256.6" r="3.1"/><circle cx="214.2" cy="256.3" r="3.1"/><circle cx="216.5" cy="248.7" r="3.1"/><circle cx="218.9" cy="263.0" r="3.1"/><circle cx="221.3" cy="263.7" r="3.1"/><circle cx="223.6" cy="270.5" r="3.1"/><circle cx="226.0" cy="267.8" r="3.1"/><circle cx="228.4" cy="271.9" r="3.1"/><circle cx="230.8" cy="271.4" r="3.1"/><circle cx="233.1" cy="287.4" r="3.1"/><circle cx="235.5" cy="278.3" r="3.1"/><circle cx="237.9" cy="284.8" r="3.1"/><circle cx="240.2" cy="275.3" r="3.1"/><circle cx="242.6" cy="276.9" r="3.1"/><circle cx="245.0" cy="267.4" r="3.1"/><circle cx="247.3" cy="268.0" r="3.1"/><circle cx="249.7" cy="268.1" r="3.1"/><circle cx="252.1" cy="253.3" r="3.1"/><circle cx="254.5" cy="254.8" r="3.1"/><circle cx="256.8" cy="244.4" r="3.1"/><circle cx="259.2" cy="230.8" r="3.1"/><circle cx="261.6" cy="223.9" r="3.1"/><circle cx="263.9" cy="214.3" r="3.1"/><circle cx="266.3" cy="205.1" r="3.1"/><circle cx="268.7" cy="191.4" r="3.1"/><circle cx="271.0" cy="176.2" r="3.1"/><circle cx="273.4" cy="163.4" r="3.1"/><circle cx="275.8" cy="146.1" r="3.1"/><circle cx="278.2" cy="130.6" r="3.1"/><circle cx="280.5" cy="121.9" r="3.1"/><circle cx="282.9" cy="113.0" r="3.1"/><circle cx="285.3" cy="92.4" r="3.1"/><circle cx="287.6" cy="87.7" r="3.1"/><circle cx="290.0" cy="76.1" r="3.1"/><circle cx="292.4" cy="69.7" r="3.1"/><circle cx="294.8" cy="73.1" r="3.1"/><circle cx="297.1" cy="66.0" r="3.1"/><circle cx="299.5" cy="72.6" r="3.1"/><circle cx="301.9" cy="63.5" r="3.1"/><circle cx="304.2" cy="68.6" r="3.1"/><circle cx="306.6" cy="67.9" r="3.1"/><circle cx="309.0" cy="68.4" r="3.1"/><circle cx="311.3" cy="78.4" r="3.1"/><circle cx="313.7" cy="81.0" r="3.1"/><circle cx="316.1" cy="89.5" r="3.1"/><circle cx="318.5" cy="92.9" r="3.1"/><circle cx="320.8" cy="94.8" r="3.1"/><circle cx="323.2" cy="104.0" r="3.1"/><circle cx="325.6" cy="113.3" r="3.1"/><circle cx="327.9" cy="132.0" r="3.1"/><circle cx="330.3" cy="128.4" r="3.1"/><circle cx="332.7" cy="134.1" r="3.1"/><circle cx="335.1" cy="131.2" r="3.1"/><circle cx="337.4" cy="143.6" r="3.1"/><circle cx="339.8" cy="139.5" r="3.1"/><circle cx="342.2" cy="138.8" r="3.1"/><circle cx="344.5" cy="145.8" r="3.1"/><circle cx="346.9" cy="150.2" r="3.1"/><circle cx="349.3" cy="139.8" r="3.1"/><circle cx="351.6" cy="139.2" r="3.1"/><circle cx="354.0" cy="138.3" r="3.1"/><circle cx="356.4" cy="134.6" r="3.1"/><circle cx="358.8" cy="139.2" r="3.1"/><circle cx="361.1" cy="134.1" r="3.1"/><circle cx="363.5" cy="134.3" r="3.1"/><circle cx="365.9" cy="140.9" r="3.1"/><circle cx="368.2" cy="138.4" r="3.1"/><circle cx="370.6" cy="145.9" r="3.1"/><circle cx="373.0" cy="144.5" r="3.1"/><circle cx="375.4" cy="148.3" r="3.1"/><circle cx="377.7" cy="152.0" r="3.1"/><circle cx="380.1" cy="172.3" r="3.1"/><circle cx="382.5" cy="169.6" r="3.1"/><circle cx="384.8" cy="178.8" r="3.1"/><circle cx="387.2" cy="188.2" r="3.1"/><circle cx="389.6" cy="200.0" r="3.1"/><circle cx="391.9" cy="211.9" r="3.1"/><circle cx="394.3" cy="234.1" r="3.1"/><circle cx="396.7" cy="238.4" r="3.1"/><circle cx="399.1" cy="251.0" r="3.1"/><circle cx="401.4" cy="265.1" r="3.1"/><circle cx="403.8" cy="274.1" r="3.1"/><circle cx="406.2" cy="291.4" r="3.1"/><circle cx="408.5" cy="300.3" r="3.1"/><circle cx="410.9" cy="301.1" r="3.1"/><circle cx="413.3" cy="306.5" r="3.1"/><circle cx="415.7" cy="316.0" r="3.1"/><circle cx="418.0" cy="327.0" r="3.1"/><circle cx="420.4" cy="314.4" r="3.1"/><circle cx="422.8" cy="327.9" r="3.1"/><circle cx="425.1" cy="320.8" r="3.1"/><circle cx="427.5" cy="328.0" r="3.1"/><circle cx="429.9" cy="320.6" r="3.1"/><circle cx="432.2" cy="325.6" r="3.1"/><circle cx="434.6" cy="323.0" r="3.1"/><circle cx="437.0" cy="326.6" r="3.1"/><circle cx="439.4" cy="337.0" r="3.1"/><circle cx="441.7" cy="336.0" r="3.1"/><circle cx="444.1" cy="332.1" r="3.1"/><circle cx="446.5" cy="331.0" r="3.1"/><circle cx="448.8" cy="327.6" r="3.1"/><circle cx="451.2" cy="333.7" r="3.1"/><circle cx="453.6" cy="335.3" r="3.1"/><circle cx="455.9" cy="335.3" r="3.1"/><circle cx="458.3" cy="335.7" r="3.1"/><circle cx="460.7" cy="333.1" r="3.1"/><circle cx="463.1" cy="338.8" r="3.1"/><circle cx="465.4" cy="340.0" r="3.1"/><circle cx="467.8" cy="345.5" r="3.1"/><circle cx="470.2" cy="346.0" r="3.1"/><circle cx="472.5" cy="340.5" r="3.1"/><circle cx="474.9" cy="337.9" r="3.1"/><circle cx="477.3" cy="340.3" r="3.1"/><circle cx="479.7" cy="337.8" r="3.1"/><circle cx="482.0" cy="335.9" r="3.1"/><circle cx="484.4" cy="336.2" r="3.1"/><circle cx="486.8" cy="331.1" r="3.1"/><circle cx="489.1" cy="337.8" r="3.1"/><circle cx="491.5" cy="336.3" r="3.1"/><circle cx="493.9" cy="338.9" r="3.1"/><circle cx="496.2" cy="338.5" r="3.1"/><circle cx="498.6" cy="337.7" r="3.1"/><circle cx="501.0" cy="337.6" r="3.1"/><circle cx="503.4" cy="340.9" r="3.1"/></g>
<g fill="#1a80e0"><circle cx="34.0" cy="343.7" r="3.1"/><circle cx="35.4" cy="344.1" r="3.1"/><circle cx="36.8" cy="344.0" r="3.1"/><circle cx="38.3" cy="343.2" r="3.1"/><circle cx="39.7" cy="344.0" r="3.1"/><circle cx="41.1" cy="343.2" r="3.1"/><circle cx="42.5" cy="343.6" r="3.1"/><circle cx="44.0" cy="343.8" r="3.1"/><circle cx="45.4" cy="342.8" r="3.1"/><circle cx="46.8" cy="344.1" r="3.1"/><circle cx="48.2" cy="344.1" r="3.1"/><circle cx="49.6" cy="343.9" r="3.1"/><circle cx="51.1" cy="343.7" r="3.1"/><circle cx="52.5" cy="343.8" r="3.1"/><circle cx="53.9" cy="343.4" r="3.1"/><circle cx="55.3" cy="343.8" r="3.1"/><circle cx="56.8" cy="343.7" r="3.1"/><circle cx="58.2" cy="344.1" r="3.1"/><circle cx="59.6" cy="343.3" r="3.1"/><circle cx="61.0" cy="344.1" r="3.1"/><circle cx="62.4" cy="344.1" r="3.1"/><circle cx="63.9" cy="343.9" r="3.1"/><circle cx="65.3" cy="343.7" r="3.1"/><circle cx="66.7" cy="344.3" r="3.1"/><circle cx="68.1" cy="343.0" r="3.1"/><circle cx="69.6" cy="344.3" r="3.1"/><circle cx="71.0" cy="344.1" r="3.1"/><circle cx="72.4" cy="344.1" r="3.1"/><circle cx="73.8" cy="344.1" r="3.1"/><circle cx="75.2" cy="343.3" r="3.1"/><circle cx="76.7" cy="343.4" r="3.1"/><circle cx="78.1" cy="343.8" r="3.1"/><circle cx="79.5" cy="343.5" r="3.1"/><circle cx="80.9" cy="343.1" r="3.1"/><circle cx="82.4" cy="341.5" r="3.1"/><circle cx="83.8" cy="341.9" r="3.1"/><circle cx="85.2" cy="341.1" r="3.1"/><circle cx="86.6" cy="339.8" r="3.1"/><circle cx="88.0" cy="338.0" r="3.1"/><circle cx="89.5" cy="335.8" r="3.1"/><circle cx="90.9" cy="336.4" r="3.1"/><circle cx="92.3" cy="334.9" r="3.1"/><circle cx="93.7" cy="332.6" r="3.1"/><circle cx="95.2" cy="333.5" r="3.1"/><circle cx="96.6" cy="331.6" r="3.1"/><circle cx="98.0" cy="330.9" r="3.1"/><circle cx="99.4" cy="330.5" r="3.1"/><circle cx="100.8" cy="330.8" r="3.1"/><circle cx="102.3" cy="328.9" r="3.1"/><circle cx="103.7" cy="328.5" r="3.1"/><circle cx="105.1" cy="328.5" r="3.1"/><circle cx="106.5" cy="327.6" r="3.1"/><circle cx="108.0" cy="325.7" r="3.1"/><circle cx="109.4" cy="324.7" r="3.1"/><circle cx="110.8" cy="323.1" r="3.1"/><circle cx="112.2" cy="322.4" r="3.1"/><circle cx="113.6" cy="321.9" r="3.1"/><circle cx="115.1" cy="320.5" r="3.1"/><circle cx="116.5" cy="318.6" r="3.1"/><circle cx="117.9" cy="317.3" r="3.1"/><circle cx="119.3" cy="314.3" r="3.1"/><circle cx="120.8" cy="312.8" r="3.1"/><circle cx="122.2" cy="311.4" r="3.1"/><circle cx="123.6" cy="309.5" r="3.1"/><circle cx="125.0" cy="308.0" r="3.1"/><circle cx="126.4" cy="305.8" r="3.1"/><circle cx="127.9" cy="303.6" r="3.1"/><circle cx="129.3" cy="302.4" r="3.1"/><circle cx="130.7" cy="300.0" r="3.1"/><circle cx="132.1" cy="298.2" r="3.1"/><circle cx="133.6" cy="298.1" r="3.1"/><circle cx="135.0" cy="296.4" r="3.1"/><circle cx="136.4" cy="295.2" r="3.1"/><circle cx="137.8" cy="292.4" r="3.1"/><circle cx="139.3" cy="291.5" r="3.1"/><circle cx="140.7" cy="289.6" r="3.1"/><circle cx="142.1" cy="287.6" r="3.1"/><circle cx="143.5" cy="284.9" r="3.1"/><circle cx="144.9" cy="284.4" r="3.1"/><circle cx="146.4" cy="283.5" r="3.1"/><circle cx="147.8" cy="281.6" r="3.1"/><circle cx="149.2" cy="279.7" r="3.1"/><circle cx="150.6" cy="279.0" r="3.1"/><circle cx="152.1" cy="278.5" r="3.1"/><circle cx="153.5" cy="275.6" r="3.1"/><circle cx="154.9" cy="276.4" r="3.1"/><circle cx="156.3" cy="276.1" r="3.1"/><circle cx="157.7" cy="275.4" r="3.1"/><circle cx="159.2" cy="275.1" r="3.1"/><circle cx="160.6" cy="273.8" r="3.1"/><circle cx="162.0" cy="272.2" r="3.1"/><circle cx="163.4" cy="271.1" r="3.1"/><circle cx="164.9" cy="270.3" r="3.1"/><circle cx="166.3" cy="268.3" r="3.1"/><circle cx="167.7" cy="267.4" r="3.1"/><circle cx="169.1" cy="266.8" r="3.1"/><circle cx="170.5" cy="266.2" r="3.1"/><circle cx="172.0" cy="263.5" r="3.1"/><circle cx="173.4" cy="262.2" r="3.1"/><circle cx="174.8" cy="260.9" r="3.1"/><circle cx="176.2" cy="260.1" r="3.1"/><circle cx="177.7" cy="257.9" r="3.1"/><circle cx="179.1" cy="257.4" r="3.1"/><circle cx="180.5" cy="254.7" r="3.1"/><circle cx="181.9" cy="254.1" r="3.1"/><circle cx="183.3" cy="253.1" r="3.1"/><circle cx="184.8" cy="252.9" r="3.1"/><circle cx="186.2" cy="252.3" r="3.1"/><circle cx="187.6" cy="250.1" r="3.1"/><circle cx="189.0" cy="249.8" r="3.1"/><circle cx="190.5" cy="250.0" r="3.1"/><circle cx="191.9" cy="249.0" r="3.1"/><circle cx="193.3" cy="248.0" r="3.1"/><circle cx="194.7" cy="249.2" r="3.1"/><circle cx="196.1" cy="248.6" r="3.1"/><circle cx="197.6" cy="248.3" r="3.1"/><circle cx="199.0" cy="247.4" r="3.1"/><circle cx="200.4" cy="248.1" r="3.1"/><circle cx="201.8" cy="247.5" r="3.1"/><circle cx="203.3" cy="248.9" r="3.1"/><circle cx="204.7" cy="248.8" r="3.1"/><circle cx="206.1" cy="250.0" r="3.1"/><circle cx="207.5" cy="251.8" r="3.1"/><circle cx="208.9" cy="252.7" r="3.1"/><circle cx="210.4" cy="255.2" r="3.1"/><circle cx="211.8" cy="256.8" r="3.1"/><circle cx="213.2" cy="257.9" r="3.1"/><circle cx="214.6" cy="260.2" r="3.1"/><circle cx="216.1" cy="261.6" r="3.1"/><circle cx="217.5" cy="264.0" r="3.1"/><circle cx="218.9" cy="264.8" r="3.1"/><circle cx="220.3" cy="267.0" r="3.1"/><circle cx="221.7" cy="270.3" r="3.1"/><circle cx="223.2" cy="274.0" r="3.1"/><circle cx="224.6" cy="277.7" r="3.1"/><circle cx="226.0" cy="280.4" r="3.1"/><circle cx="227.4" cy="284.3" r="3.1"/><circle cx="228.9" cy="289.1" r="3.1"/><circle cx="230.3" cy="292.1" r="3.1"/><circle cx="231.7" cy="295.4" r="3.1"/><circle cx="233.1" cy="299.4" r="3.1"/><circle cx="234.5" cy="302.8" r="3.1"/><circle cx="236.0" cy="305.1" r="3.1"/><circle cx="237.4" cy="307.5" r="3.1"/><circle cx="238.8" cy="310.4" r="3.1"/><circle cx="240.2" cy="314.3" r="3.1"/><circle cx="241.7" cy="315.8" r="3.1"/><circle cx="243.1" cy="318.5" r="3.1"/><circle cx="244.5" cy="320.9" r="3.1"/><circle cx="245.9" cy="323.1" r="3.1"/><circle cx="247.3" cy="324.2" r="3.1"/><circle cx="248.8" cy="326.3" r="3.1"/><circle cx="250.2" cy="326.9" r="3.1"/><circle cx="251.6" cy="328.4" r="3.1"/><circle cx="253.0" cy="328.4" r="3.1"/><circle cx="254.5" cy="329.5" r="3.1"/><circle cx="255.9" cy="328.5" r="3.1"/><circle cx="257.3" cy="327.5" r="3.1"/><circle cx="258.7" cy="327.1" r="3.1"/><circle cx="260.1" cy="326.6" r="3.1"/><circle cx="261.6" cy="326.3" r="3.1"/><circle cx="263.0" cy="323.8" r="3.1"/><circle cx="264.4" cy="323.0" r="3.1"/><circle cx="265.8" cy="322.2" r="3.1"/><circle cx="267.3" cy="322.7" r="3.1"/><circle cx="268.7" cy="320.6" r="3.1"/><circle cx="270.1" cy="318.6" r="3.1"/><circle cx="271.5" cy="317.7" r="3.1"/><circle cx="272.9" cy="317.0" r="3.1"/><circle cx="274.4" cy="313.9" r="3.1"/><circle cx="275.8" cy="311.8" r="3.1"/><circle cx="277.2" cy="310.2" r="3.1"/><circle cx="278.6" cy="307.0" r="3.1"/><circle cx="280.1" cy="304.2" r="3.1"/><circle cx="281.5" cy="300.8" r="3.1"/><circle cx="282.9" cy="299.7" r="3.1"/><circle cx="284.3" cy="297.1" r="3.1"/><circle cx="285.7" cy="293.8" r="3.1"/><circle cx="287.2" cy="291.1" r="3.1"/><circle cx="288.6" cy="286.5" r="3.1"/><circle cx="290.0" cy="284.7" r="3.1"/><circle cx="291.4" cy="280.6" r="3.1"/><circle cx="292.9" cy="277.3" r="3.1"/><circle cx="294.3" cy="273.8" r="3.1"/><circle cx="295.7" cy="269.6" r="3.1"/><circle cx="297.1" cy="265.2" r="3.1"/><circle cx="298.5" cy="262.9" r="3.1"/><circle cx="300.0" cy="258.6" r="3.1"/><circle cx="301.4" cy="255.3" r="3.1"/><circle cx="302.8" cy="251.5" r="3.1"/><circle cx="304.2" cy="248.2" r="3.1"/><circle cx="305.7" cy="243.4" r="3.1"/><circle cx="307.1" cy="242.0" r="3.1"/><circle cx="308.5" cy="237.8" r="3.1"/><circle cx="309.9" cy="234.6" r="3.1"/><circle cx="311.3" cy="231.3" r="3.1"/><circle cx="312.8" cy="226.3" r="3.1"/><circle cx="314.2" cy="221.7" r="3.1"/><circle cx="315.6" cy="219.1" r="3.1"/><circle cx="317.0" cy="215.9" r="3.1"/><circle cx="318.5" cy="213.1" r="3.1"/><circle cx="319.9" cy="210.0" r="3.1"/><circle cx="321.3" cy="205.2" r="3.1"/><circle cx="322.7" cy="203.0" r="3.1"/><circle cx="324.1" cy="198.4" r="3.1"/><circle cx="325.6" cy="196.0" r="3.1"/><circle cx="327.0" cy="192.4" r="3.1"/><circle cx="328.4" cy="188.9" r="3.1"/><circle cx="329.8" cy="185.9" r="3.1"/><circle cx="331.3" cy="182.7" r="3.1"/><circle cx="332.7" cy="179.8" r="3.1"/><circle cx="334.1" cy="176.4" r="3.1"/><circle cx="335.5" cy="174.5" r="3.1"/><circle cx="336.9" cy="172.7" r="3.1"/><circle cx="338.4" cy="169.8" r="3.1"/><circle cx="339.8" cy="166.6" r="3.1"/><circle cx="341.2" cy="163.4" r="3.1"/><circle cx="342.6" cy="159.9" r="3.1"/><circle cx="344.1" cy="158.6" r="3.1"/><circle cx="345.5" cy="155.2" r="3.1"/><circle cx="346.9" cy="152.8" r="3.1"/><circle cx="348.3" cy="150.3" r="3.1"/><circle cx="349.8" cy="148.1" r="3.1"/><circle cx="351.2" cy="145.4" r="3.1"/><circle cx="352.6" cy="143.1" r="3.1"/><circle cx="354.0" cy="140.2" r="3.1"/><circle cx="355.4" cy="138.7" r="3.1"/><circle cx="356.9" cy="138.2" r="3.1"/><circle cx="358.3" cy="134.9" r="3.1"/><circle cx="359.7" cy="133.9" r="3.1"/><circle cx="361.1" cy="134.4" r="3.1"/><circle cx="362.6" cy="134.7" r="3.1"/><circle cx="364.0" cy="134.0" r="3.1"/><circle cx="365.4" cy="135.0" r="3.1"/><circle cx="366.8" cy="136.6" r="3.1"/><circle cx="368.2" cy="137.4" r="3.1"/><circle cx="369.7" cy="138.7" r="3.1"/><circle cx="371.1" cy="141.0" r="3.1"/><circle cx="372.5" cy="141.1" r="3.1"/><circle cx="373.9" cy="143.2" r="3.1"/><circle cx="375.4" cy="144.9" r="3.1"/><circle cx="376.8" cy="149.2" r="3.1"/><circle cx="378.2" cy="151.6" r="3.1"/><circle cx="379.6" cy="157.1" r="3.1"/><circle cx="381.0" cy="161.7" r="3.1"/><circle cx="382.5" cy="167.2" r="3.1"/><circle cx="383.9" cy="172.6" r="3.1"/><circle cx="385.3" cy="179.1" r="3.1"/><circle cx="386.7" cy="184.3" r="3.1"/><circle cx="388.2" cy="193.9" r="3.1"/><circle cx="389.6" cy="201.4" r="3.1"/><circle cx="391.0" cy="208.8" r="3.1"/><circle cx="392.4" cy="216.4" r="3.1"/><circle cx="393.8" cy="220.4" r="3.1"/><circle cx="395.3" cy="224.3" r="3.1"/><circle cx="396.7" cy="235.4" r="3.1"/><circle cx="398.1" cy="247.9" r="3.1"/><circle cx="399.5" cy="258.0" r="3.1"/><circle cx="401.0" cy="264.9" r="3.1"/><circle cx="402.4" cy="270.5" r="3.1"/><circle cx="403.8" cy="277.1" r="3.1"/><circle cx="405.2" cy="281.7" r="3.1"/><circle cx="406.6" cy="286.6" r="3.1"/><circle cx="408.1" cy="292.9" r="3.1"/><circle cx="409.5" cy="298.2" r="3.1"/><circle cx="410.9" cy="303.2" r="3.1"/><circle cx="412.3" cy="309.6" r="3.1"/><circle cx="413.8" cy="314.9" r="3.1"/><circle cx="415.2" cy="319.2" r="3.1"/><circle cx="416.6" cy="324.6" r="3.1"/><circle cx="418.0" cy="327.5" r="3.1"/><circle cx="419.4" cy="330.7" r="3.1"/><circle cx="420.9" cy="332.8" r="3.1"/><circle cx="422.3" cy="334.8" r="3.1"/><circle cx="423.7" cy="335.7" r="3.1"/><circle cx="425.1" cy="337.6" r="3.1"/><circle cx="426.6" cy="338.0" r="3.1"/><circle cx="428.0" cy="338.8" r="3.1"/><circle cx="429.4" cy="339.4" r="3.1"/><circle cx="430.8" cy="338.8" r="3.1"/><circle cx="432.2" cy="340.0" r="3.1"/><circle cx="433.7" cy="340.3" r="3.1"/><circle cx="435.1" cy="340.9" r="3.1"/><circle cx="436.5" cy="340.2" r="3.1"/><circle cx="437.9" cy="342.3" r="3.1"/><circle cx="439.4" cy="341.6" r="3.1"/><circle cx="440.8" cy="341.1" r="3.1"/><circle cx="442.2" cy="341.0" r="3.1"/><circle cx="443.6" cy="342.0" r="3.1"/><circle cx="445.0" cy="342.3" r="3.1"/><circle cx="446.5" cy="342.0" r="3.1"/><circle cx="447.9" cy="342.6" r="3.1"/><circle cx="449.3" cy="342.3" r="3.1"/><circle cx="450.7" cy="343.1" r="3.1"/><circle cx="452.2" cy="342.5" r="3.1"/><circle cx="453.6" cy="343.0" r="3.1"/><circle cx="455.0" cy="343.7" r="3.1"/><circle cx="456.4" cy="344.7" r="3.1"/><circle cx="457.8" cy="342.7" r="3.1"/><circle cx="459.3" cy="343.1" r="3.1"/><circle cx="460.7" cy="342.9" r="3.1"/><circle cx="462.1" cy="343.9" r="3.1"/><circle cx="463.5" cy="342.8" r="3.1"/><circle cx="465.0" cy="343.2" r="3.1"/><circle cx="466.4" cy="343.5" r="3.1"/><circle cx="467.8" cy="343.0" r="3.1"/><circle cx="469.2" cy="343.0" r="3.1"/><circle cx="470.6" cy="343.4" r="3.1"/><circle cx="472.1" cy="342.4" r="3.1"/><circle cx="473.5" cy="342.8" r="3.1"/><circle cx="474.9" cy="343.5" r="3.1"/><circle cx="476.3" cy="343.8" r="3.1"/><circle cx="477.8" cy="343.7" r="3.1"/><circle cx="479.2" cy="342.7" r="3.1"/><circle cx="480.6" cy="343.5" r="3.1"/><circle cx="482.0" cy="344.3" r="3.1"/><circle cx="483.4" cy="344.2" r="3.1"/><circle cx="484.9" cy="343.8" r="3.1"/><circle cx="486.3" cy="343.3" r="3.1"/><circle cx="487.7" cy="344.3" r="3.1"/><circle cx="489.1" cy="343.6" r="3.1"/><circle cx="490.6" cy="343.2" r="3.1"/><circle cx="492.0" cy="343.5" r="3.1"/><circle cx="493.4" cy="344.8" r="3.1"/><circle cx="494.8" cy="344.1" r="3.1"/><circle cx="496.2" cy="344.7" r="3.1"/><circle cx="497.7" cy="343.7" r="3.1"/><circle cx="499.1" cy="344.5" r="3.1"/><circle cx="500.5" cy="343.6" r="3.1"/><circle cx="501.9" cy="343.9" r="3.1"/><circle cx="503.4" cy="345.5" r="3.1"/><circle cx="504.8" cy="344.5" r="3.1"/></g>
<g fill="#00b000"><circle cx="345" cy="127.7" r="3.1"/><circle cx="348.6" cy="131.2" r="3.1"/><circle cx="212.9" cy="238.4" r="3.1"/><circle cx="428.5" cy="316.2" r="3.1"/><circle cx="487" cy="333" r="3.1"/><circle cx="139.8" cy="206" r="3.1"/><circle cx="144.7" cy="207.4" r="3.1"/></g>
<path d="M546.0,341.0 L547.2,338.9 L548.4,337.2 L549.5,336.0 L550.7,335.3 L551.9,334.6 L553.1,334.1 L554.3,333.7 L555.4,333.2 L556.6,332.7 L557.8,332.0 L559.0,331.3 L560.2,330.6 L561.3,329.8 L562.5,328.9 L563.7,328.0 L564.9,327.0 L566.1,325.8 L567.2,324.5 L568.4,322.9 L569.6,321.2 L570.8,319.3 L572.0,317.3 L573.2,315.4 L574.3,313.5 L575.5,311.8 L576.7,310.1 L577.9,308.4 L579.1,306.7 L580.2,305.0 L581.4,303.1 L582.6,301.1 L583.8,298.9 L585.0,296.4 L586.1,293.7 L587.3,290.9 L588.5,288.1 L589.7,285.4 L590.9,282.9 L592.0,280.4 L593.2,277.9 L594.4,275.2 L595.6,272.2 L596.8,268.9 L597.9,265.4 L599.1,261.8 L600.3,258.2 L601.5,254.6 L602.7,251.0 L603.8,247.3 L605.0,243.5 L606.2,239.4 L607.4,235.0 L608.6,230.2 L609.7,225.2 L610.9,220.3 L612.1,215.6 L613.3,211.4 L614.5,207.5 L615.6,203.8 L616.8,200.1 L618.0,196.4 L619.2,192.3 L620.4,187.9 L621.5,183.3 L622.7,178.8 L623.9,174.7 L625.1,170.9 L626.3,167.1 L627.5,163.6 L628.6,160.2 L629.8,156.9 L631.0,153.9 L632.2,150.9 L633.4,148.1 L634.5,145.2 L635.7,142.2 L636.9,139.3 L638.1,136.4 L639.3,133.4 L640.4,130.4 L641.6,127.2 L642.8,124.1 L644.0,120.8 L645.2,117.6 L646.3,114.4 L647.5,111.2 L648.7,108.0 L649.9,104.9 L651.1,101.7 L652.2,98.6 L653.4,95.6 L654.6,92.6 L655.8,89.6 L657.0,86.7 L658.1,83.9 L659.3,81.0 L660.5,78.1 L661.7,75.3 L662.9,72.7 L664.0,70.5 L665.2,68.5 L666.4,66.6 L667.6,64.8 L668.8,63.2 L669.9,61.7 L671.1,60.3 L672.3,59.0 L673.5,57.7 L674.7,56.6 L675.8,55.5 L677.0,54.4 L678.2,53.5 L679.4,52.6 L680.6,51.6 L681.8,50.7 L682.9,49.8 L684.1,48.9 L685.3,47.9 L686.5,47.0 L687.7,46.1 L688.8,45.2 L690.0,44.1 L691.2,43.2 L692.4,42.4 L693.6,42.0 L694.7,41.7 L695.9,41.6 L697.1,41.4 L698.3,41.3 L699.5,41.1 L700.6,40.9 L701.8,40.6 L703.0,40.3 L704.2,39.9 L705.4,39.6 L706.5,39.3 L707.7,39.1 L708.9,38.8 L710.1,38.6 L711.3,38.4 L712.4,38.2 L713.6,38.1 L714.8,38.0 L716.0,38.1 L717.2,38.6 L718.3,39.3 L719.5,40.1 L720.7,40.8 L721.9,41.5 L723.1,42.3 L724.2,43.0 L725.4,43.9 L726.6,44.7 L727.8,45.6 L729.0,46.5 L730.2,47.4 L731.3,48.4 L732.5,49.5 L733.7,50.8 L734.9,52.1 L736.1,53.6 L737.2,55.0 L738.4,56.5 L739.6,58.0 L740.8,59.5 L742.0,61.0 L743.1,62.6 L744.3,64.3 L745.5,66.2 L746.7,68.2 L747.9,70.3 L749.0,72.5 L750.2,74.5 L751.4,76.5 L752.6,78.3 L753.8,80.1 L754.9,82.1 L756.1,84.1 L757.3,86.1 L758.5,88.2 L759.7,90.4 L760.8,92.8 L762.0,95.3 L763.2,98.2 L764.4,101.3 L765.6,104.5 L766.7,107.4 L767.9,109.9 L769.1,112.3 L770.3,114.4 L771.5,116.5 L772.6,118.4 L773.8,120.2 L775.0,121.8 L776.2,123.3 L777.4,125.0 L778.5,127.0 L779.7,129.2 L780.9,131.7 L782.1,134.4 L783.3,137.2 L784.5,140.2 L785.6,143.6 L786.8,147.1 L788.0,150.6 L789.2,153.8 L790.4,156.9 L791.5,160.0 L792.7,162.9 L793.9,165.6 L795.1,168.0 L796.3,170.4 L797.4,172.6 L798.6,174.7 L799.8,176.8 L801.0,178.9 L802.2,181.0 L803.3,183.4 L804.5,185.8 L805.7,188.1 L806.9,189.9 L808.1,191.2 L809.2,192.2 L810.4,193.1 L811.6,193.8 L812.8,194.4 L814.0,195.0 L815.1,195.6 L816.3,196.2 L817.5,196.9 L818.7,197.7 L819.9,198.5 L821.0,199.3 L822.2,199.8 L823.4,200.0 L824.6,200.0 L825.8,199.9 L826.9,199.7 L828.1,199.5 L829.3,199.2 L830.5,198.9 L831.7,198.5 L832.8,197.9 L834.0,197.1 L835.2,196.2 L836.4,195.1 L837.6,193.9 L838.8,192.5 L839.9,190.4 L841.1,186.6 L842.3,181.7 L843.5,176.4 L844.7,171.3 L845.8,167.0 L847.0,163.5 L848.2,160.2 L849.4,157.1 L850.6,154.1 L851.7,151.1 L852.9,148.2 L854.1,145.3 L855.3,142.6 L856.5,139.9 L857.6,137.1 L858.8,134.3 L860.0,131.4 L861.2,128.4 L862.4,125.4 L863.5,122.3 L864.7,119.0 L865.9,115.5 L867.1,111.3 L868.3,106.7 L869.4,102.5 L870.6,99.4 L871.8,96.7 L873.0,94.3 L874.2,92.2 L875.3,90.5 L876.5,89.3 L877.7,88.6 L878.9,88.0 L880.1,87.6 L881.2,87.5 L882.4,87.6 L883.6,88.0 L884.8,88.4 L886.0,89.0 L887.2,91.2 L888.3,95.3 L889.5,100.7 L890.7,106.4 L891.9,111.7 L893.1,116.3 L894.2,120.7 L895.4,125.3 L896.6,130.2 L897.8,135.4 L899.0,141.4 L900.1,148.3 L901.3,155.7 L902.5,163.4 L903.7,171.2 L904.9,179.3 L906.0,187.8 L907.2,196.2 L908.4,203.8 L909.6,210.5 L910.8,216.6 L911.9,222.3 L913.1,227.9 L914.3,233.4 L915.5,238.8 L916.7,244.0 L917.8,249.1 L919.0,254.3 L920.2,259.7 L921.4,265.3 L922.6,271.4 L923.7,277.5 L924.9,283.4 L926.1,288.9 L927.3,294.1 L928.5,299.0 L929.6,303.6 L930.8,307.6 L932.0,311.0 L933.2,314.3 L934.4,317.3 L935.5,320.1 L936.7,322.5 L937.9,324.6 L939.1,326.4 L940.3,327.9 L941.5,329.3 L942.6,330.6 L943.8,331.8 L945.0,332.9 L946.2,333.9 L947.4,334.8 L948.5,335.7 L949.7,336.5 L950.9,337.3 L952.1,338.1 L953.3,338.8 L954.4,339.5 L955.6,340.2 L956.8,340.8 L958.0,341.4 L959.2,341.8 L960.3,342.2 L961.5,342.5 L962.7,342.7 L963.9,343.0 L965.1,343.2 L966.2,343.4 L967.4,343.6 L968.6,343.8 L969.8,343.9 L971.0,344.1 L972.1,344.2 L973.3,344.3 L974.5,344.5 L975.7,344.6 L976.9,344.7 L978.0,344.8 L979.2,344.9 L980.4,344.9 L981.6,345.0 L982.8,345.0 L983.9,345.1 L985.1,345.2 L986.3,345.2 L987.5,345.3 L988.7,345.3 L989.8,345.4 L991.0,345.4 L992.2,345.5 L993.4,345.5 L994.6,345.6 L995.8,345.6 L996.9,345.6 L998.1,345.7 L999.3,345.7 L1000.5,345.7 L1001.7,345.8 L1002.8,345.8 L1004.0,345.8 L1005.2,345.9 L1006.4,345.9 L1007.6,345.9 L1008.7,345.9 L1009.9,346.0 L1011.1,346.0 L1012.3,346.0 L1013.5,346.0 L1014.6,346.0 L1015.8,346.0 L1017.0,346.0" fill="none" stroke="#c8c8c8" stroke-width="5.5"/>
<path d="M546.0,346.9 L547.2,346.8 L548.4,346.7 L549.5,346.6 L550.7,346.5 L551.9,346.4 L553.1,346.2 L554.3,346.1 L555.4,346.0 L556.6,345.8 L557.8,345.7 L559.0,345.6 L560.2,345.4 L561.3,345.3 L562.5,345.1 L563.7,345.0 L564.9,344.8 L566.1,344.6 L567.2,344.4 L568.4,344.3 L569.6,344.1 L570.8,343.9 L572.0,343.7 L573.2,343.5 L574.3,343.3 L575.5,343.1 L576.7,342.9 L577.9,342.7 L579.1,342.6 L580.2,342.4 L581.4,342.2 L582.6,342.0 L583.8,341.8 L585.0,341.6 L586.1,341.5 L587.3,341.3 L588.5,341.1 L589.7,340.9 L590.9,340.7 L592.0,340.6 L593.2,340.4 L594.4,340.2 L595.6,340.0 L596.8,339.8 L597.9,339.7 L599.1,339.5 L600.3,339.3 L601.5,339.1 L602.7,339.0 L603.8,338.8 L605.0,338.6 L606.2,338.5 L607.4,338.3 L608.6,338.2 L609.7,338.0 L610.9,337.8 L612.1,337.7 L613.3,337.5 L614.5,337.3 L615.6,337.2 L616.8,337.0 L618.0,336.8 L619.2,336.6 L620.4,336.4 L621.5,336.2 L622.7,336.0 L623.9,335.7 L625.1,335.5 L626.3,335.2 L627.5,334.9 L628.6,334.7 L629.8,334.4 L631.0,334.1 L632.2,333.8 L633.4,333.4 L634.5,333.1 L635.7,332.8 L636.9,332.5 L638.1,332.1 L639.3,331.8 L640.4,331.5 L641.6,331.2 L642.8,330.8 L644.0,330.5 L645.2,330.2 L646.3,329.8 L647.5,329.5 L648.7,329.2 L649.9,328.8 L651.1,328.5 L652.2,328.1 L653.4,327.7 L654.6,327.3 L655.8,326.9 L657.0,326.5 L658.1,326.0 L659.3,325.5 L660.5,324.9 L661.7,324.2 L662.9,323.6 L664.0,322.9 L665.2,322.1 L666.4,321.4 L667.6,320.6 L668.8,319.9 L669.9,319.1 L671.1,318.4 L672.3,317.6 L673.5,316.9 L674.7,316.1 L675.8,315.4 L677.0,314.6 L678.2,313.8 L679.4,313.0 L680.6,312.2 L681.8,311.3 L682.9,310.5 L684.1,309.6 L685.3,308.7 L686.5,307.9 L687.7,307.0 L688.8,306.1 L690.0,305.1 L691.2,304.1 L692.4,303.0 L693.6,301.9 L694.7,300.6 L695.9,299.0 L697.1,297.0 L698.3,295.0 L699.5,293.3 L700.6,291.9 L701.8,290.7 L703.0,289.4 L704.2,288.1 L705.4,286.5 L706.5,284.6 L707.7,282.5 L708.9,280.5 L710.1,278.7 L711.3,277.1 L712.4,275.6 L713.6,274.2 L714.8,272.8 L716.0,271.5 L717.2,270.2 L718.3,269.0 L719.5,267.9 L720.7,266.8 L721.9,265.5 L723.1,264.0 L724.2,262.1 L725.4,259.9 L726.6,257.5 L727.8,255.2 L729.0,253.0 L730.2,251.0 L731.3,249.5 L732.5,248.1 L733.7,246.8 L734.9,245.5 L736.1,244.4 L737.2,243.3 L738.4,242.2 L739.6,241.2 L740.8,240.3 L742.0,239.4 L743.1,238.6 L744.3,237.8 L745.5,237.1 L746.7,236.4 L747.9,235.7 L749.0,235.0 L750.2,234.4 L751.4,233.9 L752.6,233.3 L753.8,232.9 L754.9,232.5 L756.1,232.1 L757.3,231.8 L758.5,231.4 L759.7,231.1 L760.8,230.8 L762.0,230.5 L763.2,230.2 L764.4,230.0 L765.6,229.8 L766.7,229.6 L767.9,229.5 L769.1,229.5 L770.3,229.5 L771.5,229.7 L772.6,229.9 L773.8,230.1 L775.0,230.4 L776.2,230.8 L777.4,231.1 L778.5,231.4 L779.7,231.7 L780.9,232.0 L782.1,232.2 L783.3,232.4 L784.5,232.5 L785.6,232.7 L786.8,232.8 L788.0,233.0 L789.2,233.1 L790.4,233.3 L791.5,233.4 L792.7,233.5 L793.9,233.5 L795.1,233.6 L796.3,233.6 L797.4,233.6 L798.6,233.5 L799.8,233.3 L801.0,233.0 L802.2,232.7 L803.3,232.3 L804.5,231.9 L805.7,231.5 L806.9,231.1 L808.1,230.6 L809.2,229.9 L810.4,229.0 L811.6,228.0 L812.8,226.9 L814.0,225.7 L815.1,224.5 L816.3,223.3 L817.5,222.1 L818.7,220.7 L819.9,219.3 L821.0,217.8 L822.2,216.2 L823.4,214.7 L824.6,213.1 L825.8,211.6 L826.9,210.2 L828.1,208.7 L829.3,207.3 L830.5,205.9 L831.7,204.4 L832.8,202.9 L834.0,201.3 L835.2,199.6 L836.4,198.0 L837.6,196.3 L838.8,194.5 L839.9,192.4 L841.1,189.8 L842.3,186.3 L843.5,181.3 L844.7,175.9 L845.8,171.4 L847.0,167.8 L848.2,164.7 L849.4,161.7 L850.6,158.8 L851.7,155.8 L852.9,152.5 L854.1,149.1 L855.3,145.7 L856.5,142.2 L857.6,138.5 L858.8,134.6 L860.0,130.2 L861.2,125.4 L862.4,120.5 L863.5,116.0 L864.7,111.9 L865.9,107.9 L867.1,104.0 L868.3,100.5 L869.4,97.5 L870.6,95.1 L871.8,92.9 L873.0,90.8 L874.2,89.0 L875.3,87.6 L876.5,86.9 L877.7,86.8 L878.9,86.8 L880.1,86.8 L881.2,86.8 L882.4,86.8 L883.6,86.8 L884.8,87.3 L886.0,89.0 L887.2,91.4 L888.3,94.3 L889.5,97.6 L890.7,102.7 L891.9,109.2 L893.1,115.8 L894.2,121.6 L895.4,127.1 L896.6,132.5 L897.8,138.0 L899.0,143.6 L900.1,149.7 L901.3,156.2 L902.5,162.9 L903.7,169.8 L904.9,176.7 L906.0,183.6 L907.2,190.6 L908.4,197.7 L909.6,204.7 L910.8,211.5 L911.9,218.0 L913.1,224.4 L914.3,230.7 L915.5,236.8 L916.7,242.8 L917.8,248.5 L919.0,254.0 L920.2,259.6 L921.4,265.4 L922.6,271.5 L923.7,277.6 L924.9,283.4 L926.1,288.9 L927.3,294.1 L928.5,299.0 L929.6,303.6 L930.8,307.6 L932.0,311.0 L933.2,314.3 L934.4,317.3 L935.5,320.1 L936.7,322.5 L937.9,324.6 L939.1,326.4 L940.3,327.9 L941.5,329.3 L942.6,330.6 L943.8,331.8 L945.0,332.9 L946.2,333.9 L947.4,334.8 L948.5,335.7 L949.7,336.5 L950.9,337.3 L952.1,338.1 L953.3,338.8 L954.4,339.5 L955.6,340.2 L956.8,340.8 L958.0,341.4 L959.2,341.8 L960.3,342.2 L961.5,342.5 L962.7,342.7 L963.9,343.0 L965.1,343.2 L966.2,343.4 L967.4,343.6 L968.6,343.8 L969.8,343.9 L971.0,344.1 L972.1,344.2 L973.3,344.3 L974.5,344.5 L975.7,344.6 L976.9,344.7 L978.0,344.8 L979.2,344.9 L980.4,344.9 L981.6,345.0 L982.8,345.0 L983.9,345.1 L985.1,345.2 L986.3,345.2 L987.5,345.3 L988.7,345.3 L989.8,345.4 L991.0,345.4 L992.2,345.5 L993.4,345.5 L994.6,345.6 L995.8,345.6 L996.9,345.6 L998.1,345.7 L999.3,345.7 L1000.5,345.7 L1001.7,345.8 L1002.8,345.8 L1004.0,345.8 L1005.2,345.9 L1006.4,345.9 L1007.6,345.9 L1008.7,345.9 L1009.9,346.0 L1011.1,346.0 L1012.3,346.0 L1013.5,346.0 L1014.6,346.0 L1015.8,346.0 L1017.0,346.0" fill="none" stroke="#c8c8c8" stroke-width="4.5"/>
<path d="M546.0,341.2 L547.2,340.9 L548.4,340.5 L549.5,340.2 L550.7,339.9 L551.9,339.5 L553.1,339.2 L554.3,338.9 L555.4,338.5 L556.6,338.2 L557.8,337.9 L559.0,337.6 L560.2,337.3 L561.3,337.0 L562.5,336.7 L563.7,336.4 L564.9,336.1 L566.1,335.8 L567.2,335.5 L568.4,335.2 L569.6,334.9 L570.8,334.7 L572.0,334.4 L573.2,334.1 L574.3,333.8 L575.5,333.5 L576.7,333.2 L577.9,332.9 L579.1,332.6 L580.2,332.2 L581.4,331.9 L582.6,331.5 L583.8,331.2 L585.0,330.8 L586.1,330.4 L587.3,330.1 L588.5,329.7 L589.7,329.3 L590.9,328.9 L592.0,328.5 L593.2,328.1 L594.4,327.6 L595.6,327.2 L596.8,326.7 L597.9,326.3 L599.1,325.8 L600.3,325.3 L601.5,324.8 L602.7,324.3 L603.8,323.7 L605.0,323.1 L606.2,322.5 L607.4,321.8 L608.6,321.2 L609.7,320.5 L610.9,319.8 L612.1,319.1 L613.3,318.5 L614.5,317.8 L615.6,317.1 L616.8,316.4 L618.0,315.7 L619.2,315.0 L620.4,314.4 L621.5,313.8 L622.7,313.2 L623.9,312.5 L625.1,311.9 L626.3,311.3 L627.5,310.6 L628.6,310.0 L629.8,309.4 L631.0,308.8 L632.2,308.1 L633.4,307.5 L634.5,306.9 L635.7,306.4 L636.9,305.8 L638.1,305.2 L639.3,304.7 L640.4,304.2 L641.6,303.7 L642.8,303.2 L644.0,302.7 L645.2,302.3 L646.3,301.8 L647.5,301.4 L648.7,301.0 L649.9,300.6 L651.1,300.1 L652.2,299.7 L653.4,299.3 L654.6,299.0 L655.8,298.6 L657.0,298.2 L658.1,297.8 L659.3,297.4 L660.5,297.0 L661.7,296.7 L662.9,296.3 L664.0,295.9 L665.2,295.6 L666.4,295.3 L667.6,295.0 L668.8,294.7 L669.9,294.4 L671.1,294.2 L672.3,293.9 L673.5,293.6 L674.7,293.3 L675.8,292.9 L677.0,292.6 L678.2,292.2 L679.4,291.8 L680.6,291.3 L681.8,290.8 L682.9,290.2 L684.1,289.5 L685.3,288.5 L686.5,287.4 L687.7,286.3 L688.8,285.2 L690.0,284.1 L691.2,282.9 L692.4,281.7 L693.6,280.5 L694.7,279.4 L695.9,278.2 L697.1,277.0 L698.3,275.7 L699.5,274.6 L700.6,273.4 L701.8,272.2 L703.0,271.1 L704.2,270.0 L705.4,268.9 L706.5,267.8 L707.7,266.8 L708.9,265.7 L710.1,264.7 L711.3,263.7 L712.4,262.7 L713.6,261.7 L714.8,260.6 L716.0,259.6 L717.2,258.6 L718.3,257.6 L719.5,256.6 L720.7,255.5 L721.9,254.5 L723.1,253.5 L724.2,252.5 L725.4,251.5 L726.6,250.4 L727.8,249.4 L729.0,248.4 L730.2,247.3 L731.3,246.3 L732.5,245.2 L733.7,244.2 L734.9,243.1 L736.1,242.1 L737.2,241.1 L738.4,240.0 L739.6,239.0 L740.8,238.0 L742.0,237.0 L743.1,235.9 L744.3,234.9 L745.5,233.9 L746.7,232.8 L747.9,231.8 L749.0,230.7 L750.2,229.6 L751.4,228.4 L752.6,227.2 L753.8,226.1 L754.9,225.1 L756.1,224.1 L757.3,223.2 L758.5,222.5 L759.7,221.9 L760.8,221.4 L762.0,220.9 L763.2,220.5 L764.4,220.1 L765.6,219.7 L766.7,219.3 L767.9,218.9 L769.1,218.4 L770.3,218.0 L771.5,217.5 L772.6,216.9 L773.8,216.3 L775.0,215.6 L776.2,215.0 L777.4,214.3 L778.5,213.6 L779.7,212.8 L780.9,212.1 L782.1,211.3 L783.3,210.5 L784.5,209.7 L785.6,208.9 L786.8,208.1 L788.0,207.3 L789.2,206.5 L790.4,205.7 L791.5,204.8 L792.7,203.9 L793.9,203.0 L795.1,202.0 L796.3,201.0 L797.4,200.0 L798.6,198.9 L799.8,197.8 L801.0,196.6 L802.2,195.4 L803.3,194.1 L804.5,192.9 L805.7,191.6 L806.9,190.4 L808.1,189.1 L809.2,187.9 L810.4,186.6 L811.6,185.3 L812.8,184.1 L814.0,182.8 L815.1,181.5 L816.3,180.1 L817.5,178.8 L818.7,177.5 L819.9,176.1 L821.0,174.8 L822.2,173.4 L823.4,172.0 L824.6,170.6 L825.8,169.2 L826.9,167.8 L828.1,166.4 L829.3,165.0 L830.5,163.5 L831.7,162.1 L832.8,160.5 L834.0,158.9 L835.2,157.2 L836.4,155.3 L837.6,153.2 L838.8,151.2 L839.9,149.2 L841.1,147.3 L842.3,145.6 L843.5,144.1 L844.7,142.6 L845.8,141.2 L847.0,139.6 L848.2,137.8 L849.4,135.7 L850.6,133.5 L851.7,131.1 L852.9,128.5 L854.1,126.0 L855.3,123.4 L856.5,120.7 L857.6,117.9 L858.8,115.2 L860.0,112.4 L861.2,109.8 L862.4,107.3 L863.5,104.8 L864.7,102.3 L865.9,99.9 L867.1,97.4 L868.3,94.8 L869.4,92.5 L870.6,90.8 L871.8,89.1 L873.0,87.5 L874.2,86.1 L875.3,85.1 L876.5,84.6 L877.7,84.5 L878.9,84.5 L880.1,84.5 L881.2,84.5 L882.4,84.5 L883.6,84.5 L884.8,85.1 L886.0,86.8 L887.2,89.1 L888.3,91.7 L889.5,95.3 L890.7,99.8 L891.9,104.5 L893.1,109.1 L894.2,113.8 L895.4,118.7 L896.6,123.8 L897.8,129.3 L899.0,135.0 L900.1,141.2 L901.3,147.6 L902.5,154.5 L903.7,161.6 L904.9,169.2 L906.0,177.6 L907.2,186.4 L908.4,194.9 L909.6,202.4 L910.8,209.0 L911.9,215.1 L913.1,221.0 L914.3,226.9 L915.5,233.1 L916.7,239.5 L917.8,246.2 L919.0,252.9 L920.2,259.4 L921.4,265.6 L922.6,271.8 L923.7,277.8 L924.9,283.5 L926.1,288.9 L927.3,294.1 L928.5,299.0 L929.6,303.6 L930.8,307.6 L932.0,311.0 L933.2,314.3 L934.4,317.3 L935.5,320.1 L936.7,322.5 L937.9,324.6 L939.1,326.4 L940.3,327.9 L941.5,329.3 L942.6,330.6 L943.8,331.8 L945.0,332.9 L946.2,333.9 L947.4,334.8 L948.5,335.7 L949.7,336.5 L950.9,337.3 L952.1,338.1 L953.3,338.8 L954.4,339.5 L955.6,340.2 L956.8,340.8 L958.0,341.4 L959.2,341.8 L960.3,342.2 L961.5,342.5 L962.7,342.7 L963.9,343.0 L965.1,343.2 L966.2,343.4 L967.4,343.6 L968.6,343.8 L969.8,343.9 L971.0,344.1 L972.1,344.2 L973.3,344.3 L974.5,344.5 L975.7,344.6 L976.9,344.7 L978.0,344.8 L979.2,344.9 L980.4,344.9 L981.6,345.0 L982.8,345.0 L983.9,345.1 L985.1,345.2 L986.3,345.2 L987.5,345.3 L988.7,345.3 L989.8,345.4 L991.0,345.4 L992.2,345.5 L993.4,345.5 L994.6,345.6 L995.8,345.6 L996.9,345.6 L998.1,345.7 L999.3,345.7 L1000.5,345.7 L1001.7,345.8 L1002.8,345.8 L1004.0,345.8 L1005.2,345.9 L1006.4,345.9 L1007.6,345.9 L1008.7,345.9 L1009.9,346.0 L1011.1,346.0 L1012.3,346.0 L1013.5,346.0 L1014.6,346.0 L1015.8,346.0 L1017.0,346.0" fill="none" stroke="#c8c8c8" stroke-width="4.5"/>
<path d="M1019.1,347.0 L1017.5,347.0 L1015.9,347.0 L1014.3,347.0 L1012.7,347.0 L1011.1,347.0 L1009.5,347.0 L1007.9,347.0 L1006.3,347.0 L1004.7,347.0 L1003.1,347.0 L1001.5,347.0 L999.9,346.9 L998.3,346.9 L996.7,346.9 L995.1,346.9 L993.5,346.9 L991.9,346.9 L990.3,346.9 L988.7,346.9 L987.1,346.9 L985.5,346.9 L983.9,346.9 L982.3,346.9 L980.7,346.9 L979.1,346.9 L977.5,346.8 L975.9,346.8 L974.3,346.8 L972.7,346.8 L971.1,346.8 L969.5,346.8 L967.9,346.8 L966.3,346.8 L964.7,346.8 L963.1,346.8 L961.5,346.8 L959.9,346.8 L958.3,346.8 L956.7,346.7 L955.1,346.7 L953.5,346.7 L951.9,346.7 L950.3,346.7 L948.7,346.7 L947.1,346.7 L945.5,346.7 L943.9,346.7 L942.3,346.7 L940.7,346.6 L939.1,346.6 L937.5,346.6 L935.9,346.6 L934.3,346.6 L932.7,346.6 L931.1,346.6 L929.5,346.6 L927.9,346.5 L926.3,346.5 L924.7,346.5 L923.1,346.5 L921.5,346.5 L920.0,346.5 L918.4,346.5 L916.8,346.5 L915.2,346.4 L913.6,346.4 L912.0,346.4 L910.4,346.4 L908.8,346.4 L907.2,346.4 L905.6,346.4 L904.0,346.3 L902.4,346.3 L900.8,346.3 L899.2,346.3 L897.6,346.3 L896.0,346.3 L894.4,346.2 L892.8,346.2 L891.2,346.2 L889.6,346.2 L888.0,346.2 L886.4,346.1 L884.8,346.1 L883.2,346.1 L881.6,346.1 L880.0,346.0 L878.4,346.0 L876.8,346.0 L875.2,346.0 L873.6,345.9 L872.0,345.9 L870.4,345.9 L868.8,345.9 L867.2,345.8 L865.6,345.8 L864.0,345.8 L862.4,345.7 L860.8,345.7 L859.2,345.7 L857.6,345.6 L856.0,345.6 L854.4,345.6 L852.8,345.5 L851.2,345.5 L849.6,345.4 L848.0,345.4 L846.4,345.3 L844.8,345.2 L843.2,345.2 L841.6,345.1 L840.0,345.0 L838.4,345.0 L836.8,344.9 L835.2,344.8 L833.6,344.7 L832.0,344.6 L830.4,344.5 L828.8,344.4 L827.2,344.3 L825.6,344.1 L824.0,344.0 L822.4,343.8 L820.8,343.6 L819.2,343.5 L817.6,343.3 L816.0,343.0 L814.4,342.8 L812.8,342.6 L811.2,342.3 L809.6,342.0 L808.0,341.7 L806.4,341.3 L804.8,341.0 L803.2,340.6 L801.6,340.1 L800.0,339.7 L798.4,339.2 L796.8,338.6 L795.2,338.0 L793.6,337.4 L792.0,336.8 L790.4,336.0 L788.8,335.3 L787.3,334.4 L785.7,333.6 L784.1,332.6 L782.5,331.6 L780.9,330.6 L779.3,329.4 L777.7,328.2 L776.1,326.9 L774.5,325.6 L772.9,324.1 L771.3,322.6 L769.7,320.9 L768.1,319.2 L766.5,317.4 L764.9,315.5 L763.3,313.5 L761.7,311.4 L760.1,309.2 L758.5,306.9 L756.9,304.4 L755.3,301.9 L753.7,299.2 L752.1,296.4 L750.5,293.6 L748.9,290.5 L747.3,287.4 L745.7,284.2 L744.1,280.8 L742.5,277.4 L740.9,273.8 L739.3,270.1 L737.7,266.3 L736.1,262.4 L734.5,258.4 L732.9,254.3 L731.3,250.1 L729.7,245.8 L728.1,241.4 L726.5,237.0 L724.9,232.5 L723.3,227.9 L721.7,223.2 L720.1,218.5 L718.5,213.8 L716.9,209.0 L715.3,204.3 L713.7,199.5 L712.1,194.7 L710.5,189.9 L708.9,185.1 L707.3,180.4 L705.7,175.7 L704.1,171.1 L702.5,166.5 L700.9,162.1 L699.3,157.7 L697.7,153.4 L696.1,149.3 L694.5,145.2 L692.9,141.4 L691.3,137.7 L689.7,134.1 L688.1,130.8 L686.5,127.6 L684.9,124.7 L683.3,121.9 L681.7,119.4 L680.1,117.2 L678.5,115.2 L676.9,113.4 L675.3,111.9 L673.7,110.7 L672.1,109.8 L670.5,109.1 L668.9,108.7 L667.3,108.6 L665.7,108.8 L664.1,109.2 L662.5,110.0 L660.9,111.0 L659.3,112.3 L657.7,113.9 L656.2,115.7 L654.6,117.8 L653.0,120.1 L651.4,122.7 L649.8,125.5 L648.2,128.5 L646.6,131.7 L645.0,135.1 L643.4,138.7 L641.8,142.4 L640.2,146.3 L638.6,150.4 L637.0,154.6 L635.4,158.9 L633.8,163.3 L632.2,167.8 L630.6,172.3 L629.0,177.0 L627.4,181.7 L625.8,186.4 L624.2,191.2 L622.6,196.0 L621.0,200.8 L619.4,205.6 L617.8,210.3 L616.2,215.1 L614.6,219.8 L613.0,224.5 L611.4,229.1 L609.8,233.7 L608.2,238.2 L606.6,242.6 L605.0,247.0 L603.4,251.2 L601.8,255.4 L600.2,259.5 L598.6,263.5 L597.0,267.4 L595.4,271.1 L593.8,274.8 L592.2,278.3 L590.6,281.8 L589.0,285.1 L587.4,288.3 L585.8,291.4 L584.2,294.4 L582.6,297.2 L581.0,299.9 L579.4,302.6 L577.8,305.1 L576.2,307.5 L574.6,309.8 L573.0,312.0 L571.4,314.1 L569.8,316.0 L568.2,317.9 L566.6,319.7 L565.0,321.4 L563.4,323.0 L561.8,324.5 L560.2,325.9 L558.6,327.3 L557.0,328.5 L555.4,329.7 L553.8,330.9 L552.2,331.9 L550.6,332.9 L549.0,333.8 L547.4,334.7 L545.8,335.5 L544.2,336.2 L542.6,336.9 L541.0,337.6" fill="none" stroke="#00b000" stroke-width="1.8"/>
<path d="M1019.1,346.6 L1017.5,346.6 L1015.9,346.6 L1014.3,346.6 L1012.7,346.5 L1011.1,346.5 L1009.5,346.5 L1007.9,346.5 L1006.3,346.5 L1004.7,346.5 L1003.1,346.5 L1001.5,346.4 L999.9,346.4 L998.3,346.4 L996.7,346.4 L995.1,346.4 L993.5,346.4 L991.9,346.4 L990.3,346.3 L988.7,346.3 L987.1,346.3 L985.5,346.3 L983.9,346.3 L982.3,346.3 L980.7,346.2 L979.1,346.2 L977.5,346.2 L975.9,346.2 L974.3,346.2 L972.7,346.1 L971.1,346.1 L969.5,346.1 L967.9,346.1 L966.3,346.0 L964.7,346.0 L963.1,346.0 L961.5,346.0 L959.9,345.9 L958.3,345.9 L956.7,345.9 L955.1,345.8 L953.5,345.8 L951.9,345.8 L950.3,345.7 L948.7,345.7 L947.1,345.7 L945.5,345.6 L943.9,345.6 L942.3,345.5 L940.7,345.5 L939.1,345.4 L937.5,345.4 L935.9,345.3 L934.3,345.3 L932.7,345.2 L931.1,345.1 L929.5,345.1 L927.9,345.0 L926.3,344.9 L924.7,344.8 L923.1,344.7 L921.5,344.6 L920.0,344.5 L918.4,344.4 L916.8,344.2 L915.2,344.1 L913.6,344.0 L912.0,343.8 L910.4,343.6 L908.8,343.4 L907.2,343.2 L905.6,343.0 L904.0,342.8 L902.4,342.5 L900.8,342.2 L899.2,341.9 L897.6,341.6 L896.0,341.3 L894.4,340.9 L892.8,340.5 L891.2,340.0 L889.6,339.6 L888.0,339.1 L886.4,338.5 L884.8,338.0 L883.2,337.3 L881.6,336.7 L880.0,336.0 L878.4,335.2 L876.8,334.4 L875.2,333.6 L873.6,332.6 L872.0,331.7 L870.4,330.6 L868.8,329.5 L867.2,328.4 L865.6,327.1 L864.0,325.8 L862.4,324.4 L860.8,322.9 L859.2,321.4 L857.6,319.8 L856.0,318.0 L854.4,316.2 L852.8,314.3 L851.2,312.4 L849.6,310.3 L848.0,308.1 L846.4,305.8 L844.8,303.4 L843.2,300.9 L841.6,298.3 L840.0,295.7 L838.4,292.9 L836.8,290.0 L835.2,287.0 L833.6,283.9 L832.0,280.7 L830.4,277.4 L828.8,274.0 L827.2,270.5 L825.6,266.9 L824.0,263.2 L822.4,259.4 L820.8,255.6 L819.2,251.6 L817.6,247.6 L816.0,243.6 L814.4,239.4 L812.8,235.2 L811.2,231.0 L809.6,226.7 L808.0,222.4 L806.4,218.0 L804.8,213.6 L803.2,209.3 L801.6,204.9 L800.0,200.5 L798.4,196.2 L796.8,191.8 L795.2,187.5 L793.6,183.3 L792.0,179.1 L790.4,175.0 L788.8,171.0 L787.3,167.0 L785.7,163.2 L784.1,159.5 L782.5,155.9 L780.9,152.4 L779.3,149.1 L777.7,146.0 L776.1,143.0 L774.5,140.2 L772.9,137.6 L771.3,135.2 L769.7,133.0 L768.1,131.0 L766.5,129.2 L764.9,127.7 L763.3,126.4 L761.7,125.3 L760.1,124.5 L758.5,124.0 L756.9,123.7 L755.3,123.6 L753.7,123.8 L752.1,124.3 L750.5,125.0 L748.9,125.9 L747.3,127.1 L745.7,128.5 L744.1,130.2 L742.5,132.1 L740.9,134.2 L739.3,136.5 L737.7,139.0 L736.1,141.7 L734.5,144.6 L732.9,147.7 L731.3,151.0 L729.7,154.4 L728.1,157.9 L726.5,161.6 L724.9,165.3 L723.3,169.2 L721.7,173.2 L720.1,177.3 L718.5,181.5 L716.9,185.7 L715.3,189.9 L713.7,194.3 L712.1,198.6 L710.5,203.0 L708.9,207.4 L707.3,211.7 L705.7,216.1 L704.1,220.5 L702.5,224.8 L700.9,229.1 L699.3,233.4 L697.7,237.6 L696.1,241.8 L694.5,245.9 L692.9,249.9 L691.3,253.9 L689.7,257.7 L688.1,261.5 L686.5,265.3 L684.9,268.9 L683.3,272.4 L681.7,275.9 L680.1,279.2 L678.5,282.5 L676.9,285.6 L675.3,288.7 L673.7,291.6 L672.1,294.4 L670.5,297.2 L668.9,299.8 L667.3,302.3 L665.7,304.8 L664.1,307.1 L662.5,309.3 L660.9,311.5 L659.3,313.5 L657.7,315.4 L656.2,317.3 L654.6,319.0 L653.0,320.7 L651.4,322.3 L649.8,323.8 L648.2,325.2 L646.6,326.6 L645.0,327.8 L643.4,329.0 L641.8,330.2 L640.2,331.2 L638.6,332.2 L637.0,333.2 L635.4,334.0 L633.8,334.9 L632.2,335.7 L630.6,336.4 L629.0,337.1 L627.4,337.7 L625.8,338.3 L624.2,338.8 L622.6,339.4 L621.0,339.8 L619.4,340.3 L617.8,340.7 L616.2,341.1 L614.6,341.5 L613.0,341.8 L611.4,342.1 L609.8,342.4 L608.2,342.6 L606.6,342.9 L605.0,343.1 L603.4,343.3 L601.8,343.5 L600.2,343.7 L598.6,343.9 L597.0,344.0 L595.4,344.2 L593.8,344.3 L592.2,344.4 L590.6,344.6 L589.0,344.7 L587.4,344.8 L585.8,344.9 L584.2,345.0 L582.6,345.0 L581.0,345.1 L579.4,345.2 L577.8,345.2 L576.2,345.3 L574.6,345.4 L573.0,345.4 L571.4,345.5 L569.8,345.5 L568.2,345.6 L566.6,345.6 L565.0,345.7 L563.4,345.7 L561.8,345.7 L560.2,345.8 L558.6,345.8 L557.0,345.8 L555.4,345.9 L553.8,345.9 L552.2,345.9 L550.6,346.0 L549.0,346.0 L547.4,346.0 L545.8,346.0 L544.2,346.1 L542.6,346.1 L541.0,346.1" fill="none" stroke="#00b000" stroke-width="1.8"/>
<path d="M1019.1,346.1 L1017.5,346.0 L1015.9,346.0 L1014.3,346.0 L1012.7,345.9 L1011.1,345.9 L1009.5,345.8 L1007.9,345.8 L1006.3,345.8 L1004.7,345.7 L1003.1,345.7 L1001.5,345.6 L999.9,345.6 L998.3,345.5 L996.7,345.4 L995.1,345.4 L993.5,345.3 L991.9,345.2 L990.3,345.2 L988.7,345.1 L987.1,345.0 L985.5,344.9 L983.9,344.8 L982.3,344.7 L980.7,344.6 L979.1,344.5 L977.5,344.3 L975.9,344.2 L974.3,344.0 L972.7,343.8 L971.1,343.6 L969.5,343.3 L967.9,343.0 L966.3,342.7 L964.7,342.3 L963.1,341.9 L961.5,341.4 L959.9,340.9 L958.3,340.3 L956.7,339.5 L955.1,338.7 L953.5,337.8 L951.9,336.7 L950.3,335.5 L948.7,334.2 L947.1,332.6 L945.5,330.9 L943.9,329.0 L942.3,326.8 L940.7,324.4 L939.1,321.7 L937.5,318.8 L935.9,315.5 L934.3,312.0 L932.7,308.1 L931.1,303.9 L929.5,299.4 L927.9,294.5 L926.3,289.2 L924.7,283.6 L923.1,277.7 L921.5,271.4 L920.0,264.9 L918.4,258.0 L916.8,250.9 L915.2,243.5 L913.6,235.9 L912.0,228.2 L910.4,220.4 L908.8,212.5 L907.2,204.6 L905.6,196.8 L904.0,189.2 L902.4,181.7 L900.8,174.5 L899.2,167.7 L897.6,161.3 L896.0,155.5 L894.4,150.2 L892.8,145.5 L891.2,141.6 L889.6,138.5 L888.0,136.2 L886.4,134.7 L884.8,134.1 L883.2,134.4 L881.6,135.6 L880.0,137.7 L878.4,140.6 L876.8,144.3 L875.2,148.7 L873.6,153.8 L872.0,159.5 L870.4,165.8 L868.8,172.4 L867.2,179.5 L865.6,186.9 L864.0,194.5 L862.4,202.3 L860.8,210.1 L859.2,218.0 L857.6,225.9 L856.0,233.6 L854.4,241.2 L852.8,248.7 L851.2,255.9 L849.6,262.8 L848.0,269.5 L846.4,275.9 L844.8,281.9 L843.2,287.6 L841.6,292.9 L840.0,297.9 L838.4,302.6 L836.8,306.9 L835.2,310.9 L833.6,314.5 L832.0,317.8 L830.4,320.9 L828.8,323.6 L827.2,326.1 L825.6,328.3 L824.0,330.3 L822.4,332.1 L820.8,333.7 L819.2,335.1 L817.6,336.4 L816.0,337.5 L814.4,338.4 L812.8,339.3 L811.2,340.1 L809.6,340.7 L808.0,341.3 L806.4,341.8 L804.8,342.2 L803.2,342.6 L801.6,342.9 L800.0,343.2 L798.4,343.5 L796.8,343.7 L795.2,343.9 L793.6,344.1 L792.0,344.3 L790.4,344.4 L788.8,344.6 L787.3,344.7 L785.7,344.8 L784.1,344.9 L782.5,345.0 L780.9,345.1 L779.3,345.1 L777.7,345.2 L776.1,345.3 L774.5,345.4 L772.9,345.4 L771.3,345.5 L769.7,345.5 L768.1,345.6 L766.5,345.6 L764.9,345.7 L763.3,345.7 L761.7,345.8 L760.1,345.8 L758.5,345.9 L756.9,345.9 L755.3,346.0 L753.7,346.0 L752.1,346.0 L750.5,346.1 L748.9,346.1 L747.3,346.1 L745.7,346.2 L744.1,346.2 L742.5,346.2 L740.9,346.3 L739.3,346.3 L737.7,346.3 L736.1,346.3 L734.5,346.4 L732.9,346.4 L731.3,346.4 L729.7,346.4 L728.1,346.5 L726.5,346.5 L724.9,346.5 L723.3,346.5 L721.7,346.5 L720.1,346.6 L718.5,346.6 L716.9,346.6 L715.3,346.6 L713.7,346.6 L712.1,346.7 L710.5,346.7 L708.9,346.7 L707.3,346.7 L705.7,346.7 L704.1,346.7 L702.5,346.7 L700.9,346.8 L699.3,346.8 L697.7,346.8 L696.1,346.8 L694.5,346.8 L692.9,346.8 L691.3,346.8 L689.7,346.9 L688.1,346.9 L686.5,346.9 L684.9,346.9 L683.3,346.9 L681.7,346.9 L680.1,346.9 L678.5,346.9 L676.9,346.9 L675.3,347.0 L673.7,347.0 L672.1,347.0 L670.5,347.0 L668.9,347.0 L667.3,347.0 L665.7,347.0 L664.1,347.0 L662.5,347.0 L660.9,347.0 L659.3,347.0 L657.7,347.0 L656.2,347.1 L654.6,347.1 L653.0,347.1 L651.4,347.1 L649.8,347.1 L648.2,347.1 L646.6,347.1 L645.0,347.1 L643.4,347.1 L641.8,347.1 L640.2,347.1 L638.6,347.1 L637.0,347.1 L635.4,347.1 L633.8,347.1 L632.2,347.2 L630.6,347.2 L629.0,347.2 L627.4,347.2 L625.8,347.2 L624.2,347.2 L622.6,347.2 L621.0,347.2 L619.4,347.2 L617.8,347.2 L616.2,347.2 L614.6,347.2 L613.0,347.2 L611.4,347.2 L609.8,347.2 L608.2,347.2 L606.6,347.2 L605.0,347.2 L603.4,347.2 L601.8,347.2 L600.2,347.2 L598.6,347.3 L597.0,347.3 L595.4,347.3 L593.8,347.3 L592.2,347.3 L590.6,347.3 L589.0,347.3 L587.4,347.3 L585.8,347.3 L584.2,347.3 L582.6,347.3 L581.0,347.3 L579.4,347.3 L577.8,347.3 L576.2,347.3 L574.6,347.3 L573.0,347.3 L571.4,347.3 L569.8,347.3 L568.2,347.3 L566.6,347.3 L565.0,347.3 L563.4,347.3 L561.8,347.3 L560.2,347.3 L558.6,347.3 L557.0,347.3 L555.4,347.3 L553.8,347.3 L552.2,347.3 L550.6,347.3 L549.0,347.3 L547.4,347.3 L545.8,347.3 L544.2,347.4 L542.6,347.4 L541.0,347.4" fill="none" stroke="#00b000" stroke-width="1.8"/>
<path d="M1019.1,347.4 L1017.5,347.4 L1015.9,347.4 L1014.3,347.4 L1012.7,347.4 L1011.1,347.4 L1009.5,347.4 L1007.9,347.4 L1006.3,347.4 L1004.7,347.4 L1003.1,347.4 L1001.5,347.4 L999.9,347.4 L998.3,347.4 L996.7,347.4 L995.1,347.4 L993.5,347.3 L991.9,347.3 L990.3,347.3 L988.7,347.3 L987.1,347.3 L985.5,347.3 L983.9,347.3 L982.3,347.3 L980.7,347.3 L979.1,347.3 L977.5,347.3 L975.9,347.3 L974.3,347.3 L972.7,347.3 L971.1,347.2 L969.5,347.2 L967.9,347.2 L966.3,347.2 L964.7,347.2 L963.1,347.2 L961.5,347.2 L959.9,347.2 L958.3,347.2 L956.7,347.2 L955.1,347.1 L953.5,347.1 L951.9,347.1 L950.3,347.1 L948.7,347.1 L947.1,347.0 L945.5,347.0 L943.9,347.0 L942.3,347.0 L940.7,346.9 L939.1,346.9 L937.5,346.9 L935.9,346.8 L934.3,346.8 L932.7,346.7 L931.1,346.6 L929.5,346.5 L927.9,346.4 L926.3,346.3 L924.7,346.2 L923.1,346.1 L921.5,345.9 L920.0,345.7 L918.4,345.5 L916.8,345.2 L915.2,344.9 L913.6,344.6 L912.0,344.2 L910.4,343.7 L908.8,343.3 L907.2,342.7 L905.6,342.1 L904.0,341.4 L902.4,340.6 L900.8,339.8 L899.2,338.8 L897.6,337.8 L896.0,336.6 L894.4,335.4 L892.8,334.1 L891.2,332.6 L889.6,331.1 L888.0,329.4 L886.4,327.7 L884.8,325.8 L883.2,323.9 L881.6,321.9 L880.0,319.7 L878.4,317.6 L876.8,315.3 L875.2,313.0 L873.6,310.7 L872.0,308.3 L870.4,306.0 L868.8,303.7 L867.2,301.4 L865.6,299.2 L864.0,297.0 L862.4,295.0 L860.8,293.1 L859.2,291.4 L857.6,289.8 L856.0,288.4 L854.4,287.2 L852.8,286.2 L851.2,285.5 L849.6,285.0 L848.0,284.7 L846.4,284.7 L844.8,285.0 L843.2,285.5 L841.6,286.3 L840.0,287.3 L838.4,288.6 L836.8,290.0 L835.2,291.6 L833.6,293.4 L832.0,295.3 L830.4,297.4 L828.8,299.5 L827.2,301.7 L825.6,304.0 L824.0,306.4 L822.4,308.7 L820.8,311.0 L819.2,313.4 L817.6,315.6 L816.0,317.9 L814.4,320.1 L812.8,322.2 L811.2,324.2 L809.6,326.1 L808.0,328.0 L806.4,329.7 L804.8,331.3 L803.2,332.9 L801.6,334.3 L800.0,335.6 L798.4,336.8 L796.8,337.9 L795.2,339.0 L793.6,339.9 L792.0,340.7 L790.4,341.5 L788.8,342.2 L787.3,342.8 L785.7,343.3 L784.1,343.8 L782.5,344.2 L780.9,344.6 L779.3,345.0 L777.7,345.2 L776.1,345.5 L774.5,345.7 L772.9,345.9 L771.3,346.1 L769.7,346.2 L768.1,346.4 L766.5,346.5 L764.9,346.6 L763.3,346.6 L761.7,346.7 L760.1,346.8 L758.5,346.8 L756.9,346.9 L755.3,346.9 L753.7,346.9 L752.1,347.0 L750.5,347.0 L748.9,347.0 L747.3,347.1 L745.7,347.1 L744.1,347.1 L742.5,347.1 L740.9,347.1 L739.3,347.1 L737.7,347.2 L736.1,347.2 L734.5,347.2 L732.9,347.2 L731.3,347.2 L729.7,347.2 L728.1,347.2 L726.5,347.2 L724.9,347.2 L723.3,347.3 L721.7,347.3 L720.1,347.3 L718.5,347.3 L716.9,347.3 L715.3,347.3 L713.7,347.3 L712.1,347.3 L710.5,347.3 L708.9,347.3 L707.3,347.3 L705.7,347.3 L704.1,347.3 L702.5,347.3 L700.9,347.3 L699.3,347.4 L697.7,347.4 L696.1,347.4 L694.5,347.4 L692.9,347.4 L691.3,347.4 L689.7,347.4 L688.1,347.4 L686.5,347.4 L684.9,347.4 L683.3,347.4 L681.7,347.4 L680.1,347.4 L678.5,347.4 L676.9,347.4 L675.3,347.4 L673.7,347.4 L672.1,347.4 L670.5,347.4 L668.9,347.4 L667.3,347.4 L665.7,347.4 L664.1,347.4 L662.5,347.4 L660.9,347.4 L659.3,347.4 L657.7,347.4 L656.2,347.4 L654.6,347.5 L653.0,347.5 L651.4,347.5 L649.8,347.5 L648.2,347.5 L646.6,347.5 L645.0,347.5 L643.4,347.5 L641.8,347.5 L640.2,347.5 L638.6,347.5 L637.0,347.5 L635.4,347.5 L633.8,347.5 L632.2,347.5 L630.6,347.5 L629.0,347.5 L627.4,347.5 L625.8,347.5 L624.2,347.5 L622.6,347.5 L621.0,347.5 L619.4,347.5 L617.8,347.5 L616.2,347.5 L614.6,347.5 L613.0,347.5 L611.4,347.5 L609.8,347.5 L608.2,347.5 L606.6,347.5 L605.0,347.5 L603.4,347.5 L601.8,347.5 L600.2,347.5 L598.6,347.5 L597.0,347.5 L595.4,347.5 L593.8,347.5 L592.2,347.5 L590.6,347.5 L589.0,347.5 L587.4,347.5 L585.8,347.5 L584.2,347.5 L582.6,347.5 L581.0,347.5 L579.4,347.5 L577.8,347.5 L576.2,347.5 L574.6,347.5 L573.0,347.5 L571.4,347.5 L569.8,347.5 L568.2,347.5 L566.6,347.5 L565.0,347.5 L563.4,347.5 L561.8,347.5 L560.2,347.5 L558.6,347.5 L557.0,347.5 L555.4,347.5 L553.8,347.5 L552.2,347.5 L550.6,347.5 L549.0,347.5 L547.4,347.5 L545.8,347.5 L544.2,347.5 L542.6,347.5 L541.0,347.5" fill="none" stroke="#00b000" stroke-width="1.8"/>
<path d="M1019.1,346.0 L1017.5,346.0 L1015.9,346.0 L1014.3,345.9 L1012.7,345.9 L1011.1,345.9 L1009.5,345.8 L1007.9,345.8 L1006.3,345.7 L1004.7,345.7 L1003.1,345.6 L1001.5,345.6 L999.9,345.5 L998.3,345.5 L996.7,345.4 L995.1,345.3 L993.5,345.3 L991.9,345.2 L990.3,345.1 L988.7,345.0 L987.1,345.0 L985.5,344.9 L983.9,344.8 L982.3,344.7 L980.7,344.5 L979.1,344.4 L977.5,344.3 L975.9,344.1 L974.3,343.9 L972.7,343.7 L971.1,343.5 L969.5,343.2 L967.9,342.9 L966.3,342.6 L964.7,342.2 L963.1,341.8 L961.5,341.3 L959.9,340.7 L958.3,340.1 L956.7,339.4 L955.1,338.5 L953.5,337.6 L951.9,336.5 L950.3,335.3 L948.7,333.9 L947.1,332.3 L945.5,330.5 L943.9,328.6 L942.3,326.4 L940.7,323.9 L939.1,321.2 L937.5,318.2 L935.9,314.9 L934.3,311.2 L932.7,307.3 L931.1,303.0 L929.5,298.3 L927.9,293.3 L926.3,288.0 L924.7,282.3 L923.1,276.2 L921.5,269.8 L920.0,263.1 L918.4,256.1 L916.8,248.8 L915.2,241.3 L913.6,233.6 L912.0,225.7 L910.4,217.7 L908.8,209.6 L907.2,201.6 L905.6,193.6 L904.0,185.8 L902.4,178.2 L900.8,170.9 L899.2,163.9 L897.6,157.4 L896.0,151.4 L894.4,146.0 L892.8,141.3 L891.2,137.3 L889.6,134.1 L888.0,131.7 L886.4,130.2 L884.8,129.6 L883.2,129.9 L881.6,131.2 L880.0,133.3 L878.4,136.2 L876.8,140.0 L875.2,144.5 L873.6,149.7 L872.0,155.6 L870.4,161.9 L868.8,168.8 L867.2,176.0 L865.6,183.5 L864.0,191.3 L862.4,199.2 L860.8,207.2 L859.2,215.3 L857.6,223.3 L856.0,231.2 L854.4,239.0 L852.8,246.6 L851.2,253.9 L849.6,261.0 L848.0,267.9 L846.4,274.3 L844.8,280.5 L843.2,286.3 L841.6,291.8 L840.0,296.9 L838.4,301.6 L836.8,306.0 L835.2,310.1 L833.6,313.8 L832.0,317.2 L830.4,320.3 L828.8,323.1 L827.2,325.6 L825.6,327.9 L824.0,330.0 L822.4,331.8 L820.8,333.4 L819.2,334.9 L817.6,336.1 L816.0,337.3 L814.4,338.3 L812.8,339.1 L811.2,339.9 L809.6,340.6 L808.0,341.1 L806.4,341.7 L804.8,342.1 L803.2,342.5 L801.6,342.9 L800.0,343.2 L798.4,343.4 L796.8,343.7 L795.2,343.9 L793.6,344.0 L792.0,344.2 L790.4,344.4 L788.8,344.5 L787.3,344.6 L785.7,344.7 L784.1,344.8 L782.5,344.9 L780.9,345.0 L779.3,345.1 L777.7,345.2 L776.1,345.2 L774.5,345.3 L772.9,345.4 L771.3,345.4 L769.7,345.5 L768.1,345.6 L766.5,345.6 L764.9,345.7 L763.3,345.7 L761.7,345.8 L760.1,345.8 L758.5,345.8 L756.9,345.9 L755.3,345.9 L753.7,346.0 L752.1,346.0 L750.5,346.0 L748.9,346.1 L747.3,346.1 L745.7,346.1 L744.1,346.2 L742.5,346.2 L740.9,346.2 L739.3,346.3 L737.7,346.3 L736.1,346.3 L734.5,346.3 L732.9,346.4 L731.3,346.4 L729.7,346.4 L728.1,346.4 L726.5,346.5 L724.9,346.5 L723.3,346.5 L721.7,346.5 L720.1,346.5 L718.5,346.6 L716.9,346.6 L715.3,346.6 L713.7,346.6 L712.1,346.6 L710.5,346.7 L708.9,346.7 L707.3,346.7 L705.7,346.7 L704.1,346.7 L702.5,346.7 L700.9,346.7 L699.3,346.8 L697.7,346.8 L696.1,346.8 L694.5,346.8 L692.9,346.8 L691.3,346.8 L689.7,346.8 L688.1,346.9 L686.5,346.9 L684.9,346.9 L683.3,346.9 L681.7,346.9 L680.1,346.9 L678.5,346.9 L676.9,346.9 L675.3,346.9 L673.7,346.9 L672.1,347.0 L670.5,347.0 L668.9,347.0 L667.3,347.0 L665.7,347.0 L664.1,347.0 L662.5,347.0 L660.9,347.0 L659.3,347.0 L657.7,347.0 L656.2,347.0 L654.6,347.1 L653.0,347.1 L651.4,347.1 L649.8,347.1 L648.2,347.1 L646.6,347.1 L645.0,347.1 L643.4,347.1 L641.8,347.1 L640.2,347.1 L638.6,347.1 L637.0,347.1 L635.4,347.1 L633.8,347.1 L632.2,347.1 L630.6,347.1 L629.0,347.2 L627.4,347.2 L625.8,347.2 L624.2,347.2 L622.6,347.2 L621.0,347.2 L619.4,347.2 L617.8,347.2 L616.2,347.2 L614.6,347.2 L613.0,347.2 L611.4,347.2 L609.8,347.2 L608.2,347.2 L606.6,347.2 L605.0,347.2 L603.4,347.2 L601.8,347.2 L600.2,347.2 L598.6,347.2 L597.0,347.2 L595.4,347.3 L593.8,347.3 L592.2,347.3 L590.6,347.3 L589.0,347.3 L587.4,347.3 L585.8,347.3 L584.2,347.3 L582.6,347.3 L581.0,347.3 L579.4,347.3 L577.8,347.3 L576.2,347.3 L574.6,347.3 L573.0,347.3 L571.4,347.3 L569.8,347.3 L568.2,347.3 L566.6,347.3 L565.0,347.3 L563.4,347.3 L561.8,347.3 L560.2,347.3 L558.6,347.3 L557.0,347.3 L555.4,347.3 L553.8,347.3 L552.2,347.3 L550.6,347.3 L549.0,347.3 L547.4,347.3 L545.8,347.3 L544.2,347.3 L542.6,347.3 L541.0,347.4" fill="none" stroke="#1a80e0" stroke-width="1.8"/>
<path d="M1019.1,347.3 L1017.5,347.3 L1015.9,347.3 L1014.3,347.3 L1012.7,347.3 L1011.1,347.3 L1009.5,347.3 L1007.9,347.3 L1006.3,347.2 L1004.7,347.2 L1003.1,347.2 L1001.5,347.2 L999.9,347.2 L998.3,347.2 L996.7,347.2 L995.1,347.2 L993.5,347.2 L991.9,347.2 L990.3,347.2 L988.7,347.2 L987.1,347.2 L985.5,347.1 L983.9,347.1 L982.3,347.1 L980.7,347.1 L979.1,347.1 L977.5,347.1 L975.9,347.1 L974.3,347.1 L972.7,347.1 L971.1,347.0 L969.5,347.0 L967.9,347.0 L966.3,347.0 L964.7,347.0 L963.1,347.0 L961.5,347.0 L959.9,347.0 L958.3,346.9 L956.7,346.9 L955.1,346.9 L953.5,346.9 L951.9,346.9 L950.3,346.8 L948.7,346.8 L947.1,346.8 L945.5,346.8 L943.9,346.7 L942.3,346.7 L940.7,346.7 L939.1,346.7 L937.5,346.6 L935.9,346.6 L934.3,346.6 L932.7,346.5 L931.1,346.5 L929.5,346.4 L927.9,346.3 L926.3,346.3 L924.7,346.2 L923.1,346.1 L921.5,346.0 L920.0,345.9 L918.4,345.7 L916.8,345.6 L915.2,345.4 L913.6,345.2 L912.0,344.9 L910.4,344.6 L908.8,344.3 L907.2,343.9 L905.6,343.5 L904.0,343.0 L902.4,342.4 L900.8,341.8 L899.2,341.0 L897.6,340.1 L896.0,339.2 L894.4,338.1 L892.8,336.9 L891.2,335.5 L889.6,334.0 L888.0,332.3 L886.4,330.5 L884.8,328.5 L883.2,326.2 L881.6,323.8 L880.0,321.2 L878.4,318.4 L876.8,315.3 L875.2,312.1 L873.6,308.7 L872.0,305.1 L870.4,301.3 L868.8,297.3 L867.2,293.2 L865.6,288.9 L864.0,284.5 L862.4,280.1 L860.8,275.6 L859.2,271.1 L857.6,266.6 L856.0,262.1 L854.4,257.8 L852.8,253.5 L851.2,249.5 L849.6,245.6 L848.0,242.1 L846.4,238.8 L844.8,235.9 L843.2,233.4 L841.6,231.2 L840.0,229.6 L838.4,228.3 L836.8,227.6 L835.2,227.4 L833.6,227.7 L832.0,228.5 L830.4,229.7 L828.8,231.4 L827.2,233.6 L825.6,236.2 L824.0,239.2 L822.4,242.5 L820.8,246.1 L819.2,249.9 L817.6,254.0 L816.0,258.2 L814.4,262.6 L812.8,267.1 L811.2,271.6 L809.6,276.1 L808.0,280.6 L806.4,285.0 L804.8,289.4 L803.2,293.6 L801.6,297.7 L800.0,301.7 L798.4,305.5 L796.8,309.1 L795.2,312.5 L793.6,315.7 L792.0,318.7 L790.4,321.5 L788.8,324.1 L787.3,326.5 L785.7,328.7 L784.1,330.7 L782.5,332.5 L780.9,334.2 L779.3,335.7 L777.7,337.0 L776.1,338.2 L774.5,339.3 L772.9,340.2 L771.3,341.1 L769.7,341.8 L768.1,342.5 L766.5,343.0 L764.9,343.5 L763.3,344.0 L761.7,344.4 L760.1,344.7 L758.5,345.0 L756.9,345.2 L755.3,345.4 L753.7,345.6 L752.1,345.8 L750.5,345.9 L748.9,346.0 L747.3,346.1 L745.7,346.2 L744.1,346.3 L742.5,346.4 L740.9,346.4 L739.3,346.5 L737.7,346.5 L736.1,346.6 L734.5,346.6 L732.9,346.6 L731.3,346.7 L729.7,346.7 L728.1,346.7 L726.5,346.8 L724.9,346.8 L723.3,346.8 L721.7,346.8 L720.1,346.8 L718.5,346.9 L716.9,346.9 L715.3,346.9 L713.7,346.9 L712.1,346.9 L710.5,347.0 L708.9,347.0 L707.3,347.0 L705.7,347.0 L704.1,347.0 L702.5,347.0 L700.9,347.0 L699.3,347.1 L697.7,347.1 L696.1,347.1 L694.5,347.1 L692.9,347.1 L691.3,347.1 L689.7,347.1 L688.1,347.1 L686.5,347.1 L684.9,347.1 L683.3,347.2 L681.7,347.2 L680.1,347.2 L678.5,347.2 L676.9,347.2 L675.3,347.2 L673.7,347.2 L672.1,347.2 L670.5,347.2 L668.9,347.2 L667.3,347.2 L665.7,347.2 L664.1,347.2 L662.5,347.3 L660.9,347.3 L659.3,347.3 L657.7,347.3 L656.2,347.3 L654.6,347.3 L653.0,347.3 L651.4,347.3 L649.8,347.3 L648.2,347.3 L646.6,347.3 L645.0,347.3 L643.4,347.3 L641.8,347.3 L640.2,347.3 L638.6,347.3 L637.0,347.3 L635.4,347.3 L633.8,347.3 L632.2,347.3 L630.6,347.4 L629.0,347.4 L627.4,347.4 L625.8,347.4 L624.2,347.4 L622.6,347.4 L621.0,347.4 L619.4,347.4 L617.8,347.4 L616.2,347.4 L614.6,347.4 L613.0,347.4 L611.4,347.4 L609.8,347.4 L608.2,347.4 L606.6,347.4 L605.0,347.4 L603.4,347.4 L601.8,347.4 L600.2,347.4 L598.6,347.4 L597.0,347.4 L595.4,347.4 L593.8,347.4 L592.2,347.4 L590.6,347.4 L589.0,347.4 L587.4,347.4 L585.8,347.4 L584.2,347.4 L582.6,347.4 L581.0,347.4 L579.4,347.4 L577.8,347.4 L576.2,347.4 L574.6,347.4 L573.0,347.4 L571.4,347.4 L569.8,347.5 L568.2,347.5 L566.6,347.5 L565.0,347.5 L563.4,347.5 L561.8,347.5 L560.2,347.5 L558.6,347.5 L557.0,347.5 L555.4,347.5 L553.8,347.5 L552.2,347.5 L550.6,347.5 L549.0,347.5 L547.4,347.5 L545.8,347.5 L544.2,347.5 L542.6,347.5 L541.0,347.5" fill="none" stroke="#1a80e0" stroke-width="1.8"/>
<path d="M1019.1,347.5 L1017.5,347.5 L1015.9,347.5 L1014.3,347.5 L1012.7,347.5 L1011.1,347.5 L1009.5,347.5 L1007.9,347.5 L1006.3,347.5 L1004.7,347.5 L1003.1,347.5 L1001.5,347.5 L999.9,347.5 L998.3,347.5 L996.7,347.5 L995.1,347.5 L993.5,347.5 L991.9,347.5 L990.3,347.5 L988.7,347.5 L987.1,347.5 L985.5,347.5 L983.9,347.5 L982.3,347.5 L980.7,347.5 L979.1,347.5 L977.5,347.5 L975.9,347.5 L974.3,347.5 L972.7,347.5 L971.1,347.5 L969.5,347.5 L967.9,347.5 L966.3,347.5 L964.7,347.5 L963.1,347.5 L961.5,347.5 L959.9,347.5 L958.3,347.5 L956.7,347.5 L955.1,347.5 L953.5,347.5 L951.9,347.5 L950.3,347.5 L948.7,347.5 L947.1,347.5 L945.5,347.5 L943.9,347.5 L942.3,347.5 L940.7,347.5 L939.1,347.5 L937.5,347.5 L935.9,347.5 L934.3,347.5 L932.7,347.5 L931.1,347.5 L929.5,347.5 L927.9,347.5 L926.3,347.5 L924.7,347.5 L923.1,347.5 L921.5,347.5 L920.0,347.5 L918.4,347.5 L916.8,347.5 L915.2,347.5 L913.6,347.5 L912.0,347.5 L910.4,347.5 L908.8,347.5 L907.2,347.5 L905.6,347.4 L904.0,347.4 L902.4,347.4 L900.8,347.4 L899.2,347.4 L897.6,347.4 L896.0,347.4 L894.4,347.4 L892.8,347.4 L891.2,347.4 L889.6,347.4 L888.0,347.4 L886.4,347.4 L884.8,347.4 L883.2,347.4 L881.6,347.4 L880.0,347.4 L878.4,347.4 L876.8,347.4 L875.2,347.4 L873.6,347.4 L872.0,347.4 L870.4,347.4 L868.8,347.4 L867.2,347.4 L865.6,347.4 L864.0,347.4 L862.4,347.4 L860.8,347.4 L859.2,347.4 L857.6,347.4 L856.0,347.4 L854.4,347.4 L852.8,347.4 L851.2,347.4 L849.6,347.4 L848.0,347.4 L846.4,347.4 L844.8,347.3 L843.2,347.3 L841.6,347.3 L840.0,347.3 L838.4,347.3 L836.8,347.3 L835.2,347.3 L833.6,347.3 L832.0,347.3 L830.4,347.3 L828.8,347.3 L827.2,347.3 L825.6,347.3 L824.0,347.3 L822.4,347.3 L820.8,347.3 L819.2,347.3 L817.6,347.2 L816.0,347.2 L814.4,347.2 L812.8,347.2 L811.2,347.2 L809.6,347.2 L808.0,347.2 L806.4,347.2 L804.8,347.1 L803.2,347.1 L801.6,347.1 L800.0,347.1 L798.4,347.1 L796.8,347.0 L795.2,347.0 L793.6,347.0 L792.0,347.0 L790.4,346.9 L788.8,346.9 L787.3,346.9 L785.7,346.8 L784.1,346.8 L782.5,346.7 L780.9,346.7 L779.3,346.6 L777.7,346.5 L776.1,346.5 L774.5,346.4 L772.9,346.3 L771.3,346.3 L769.7,346.2 L768.1,346.1 L766.5,346.0 L764.9,345.9 L763.3,345.7 L761.7,345.6 L760.1,345.5 L758.5,345.3 L756.9,345.2 L755.3,345.0 L753.7,344.8 L752.1,344.6 L750.5,344.4 L748.9,344.2 L747.3,344.0 L745.7,343.7 L744.1,343.5 L742.5,343.2 L740.9,342.9 L739.3,342.6 L737.7,342.3 L736.1,342.0 L734.5,341.6 L732.9,341.2 L731.3,340.9 L729.7,340.5 L728.1,340.0 L726.5,339.6 L724.9,339.1 L723.3,338.7 L721.7,338.2 L720.1,337.6 L718.5,337.1 L716.9,336.6 L715.3,336.0 L713.7,335.4 L712.1,334.8 L710.5,334.2 L708.9,333.6 L707.3,332.9 L705.7,332.2 L704.1,331.6 L702.5,330.9 L700.9,330.2 L699.3,329.5 L697.7,328.7 L696.1,328.0 L694.5,327.3 L692.9,326.5 L691.3,325.8 L689.7,325.1 L688.1,324.3 L686.5,323.6 L684.9,322.9 L683.3,322.1 L681.7,321.4 L680.1,320.7 L678.5,320.0 L676.9,319.3 L675.3,318.6 L673.7,318.0 L672.1,317.4 L670.5,316.8 L668.9,316.2 L667.3,315.6 L665.7,315.1 L664.1,314.6 L662.5,314.1 L660.9,313.7 L659.3,313.3 L657.7,312.9 L656.2,312.6 L654.6,312.4 L653.0,312.1 L651.4,311.9 L649.8,311.8 L648.2,311.7 L646.6,311.6 L645.0,311.6 L643.4,311.6 L641.8,311.7 L640.2,311.8 L638.6,312.0 L637.0,312.2 L635.4,312.4 L633.8,312.7 L632.2,313.1 L630.6,313.4 L629.0,313.8 L627.4,314.3 L625.8,314.8 L624.2,315.3 L622.6,315.8 L621.0,316.4 L619.4,317.0 L617.8,317.6 L616.2,318.2 L614.6,318.9 L613.0,319.5 L611.4,320.2 L609.8,320.9 L608.2,321.7 L606.6,322.4 L605.0,323.1 L603.4,323.8 L601.8,324.6 L600.2,325.3 L598.6,326.1 L597.0,326.8 L595.4,327.5 L593.8,328.3 L592.2,329.0 L590.6,329.7 L589.0,330.4 L587.4,331.1 L585.8,331.8 L584.2,332.5 L582.6,333.1 L581.0,333.8 L579.4,334.4 L577.8,335.0 L576.2,335.6 L574.6,336.2 L573.0,336.8 L571.4,337.3 L569.8,337.8 L568.2,338.3 L566.6,338.8 L565.0,339.3 L563.4,339.7 L561.8,340.2 L560.2,340.6 L558.6,341.0 L557.0,341.4 L555.4,341.7 L553.8,342.1 L552.2,342.4 L550.6,342.7 L549.0,343.0 L547.4,343.3 L545.8,343.6 L544.2,343.8 L542.6,344.1 L541.0,344.3" fill="none" stroke="#1a80e0" stroke-width="1.8"/>
<path d="M1019.1,346.1 L1017.5,346.1 L1015.9,346.0 L1014.3,346.0 L1012.7,346.0 L1011.1,345.9 L1009.5,345.9 L1007.9,345.8 L1006.3,345.8 L1004.7,345.8 L1003.1,345.7 L1001.5,345.7 L999.9,345.6 L998.3,345.6 L996.7,345.5 L995.1,345.4 L993.5,345.4 L991.9,345.3 L990.3,345.2 L988.7,345.2 L987.1,345.1 L985.5,345.0 L983.9,344.9 L982.3,344.8 L980.7,344.7 L979.1,344.6 L977.5,344.4 L975.9,344.3 L974.3,344.1 L972.7,343.9 L971.1,343.7 L969.5,343.4 L967.9,343.2 L966.3,342.8 L964.7,342.5 L963.1,342.1 L961.5,341.6 L959.9,341.1 L958.3,340.4 L956.7,339.7 L955.1,338.9 L953.5,338.0 L951.9,337.0 L950.3,335.8 L948.7,334.5 L947.1,333.0 L945.5,331.3 L943.9,329.4 L942.3,327.3 L940.7,325.0 L939.1,322.4 L937.5,319.5 L935.9,316.4 L934.3,312.9 L932.7,309.1 L931.1,305.0 L929.5,300.6 L927.9,295.8 L926.3,290.7 L924.7,285.3 L923.1,279.5 L921.5,273.4 L920.0,267.0 L918.4,260.3 L916.8,253.3 L915.2,246.2 L913.6,238.8 L912.0,231.3 L910.4,223.6 L908.8,216.0 L907.2,208.3 L905.6,200.7 L904.0,193.2 L902.4,186.0 L900.8,179.0 L899.2,172.3 L897.6,166.1 L896.0,160.4 L894.4,155.3 L892.8,150.7 L891.2,146.9 L889.6,143.9 L888.0,141.6 L886.4,140.2 L884.8,139.6 L883.2,139.9 L881.6,141.1 L880.0,143.1 L878.4,145.9 L876.8,149.5 L875.2,153.8 L873.6,158.8 L872.0,164.4 L870.4,170.4 L868.8,177.0 L867.2,183.8 L865.6,191.0 L864.0,198.4 L862.4,206.0 L860.8,213.7 L859.2,221.3 L857.6,229.0 L856.0,236.6 L854.4,244.0 L852.8,251.2 L851.2,258.2 L849.6,265.0 L848.0,271.5 L846.4,277.7 L844.8,283.6 L843.2,289.1 L841.6,294.3 L840.0,299.2 L838.4,303.7 L836.8,307.9 L835.2,311.8 L833.6,315.4 L832.0,318.6 L830.4,321.6 L828.8,324.2 L827.2,326.7 L825.6,328.8 L824.0,330.8 L822.4,332.5 L820.8,334.1 L819.2,335.4 L817.6,336.7 L816.0,337.7 L814.4,338.7 L812.8,339.5 L811.2,340.2 L809.6,340.9 L808.0,341.4 L806.4,341.9 L804.8,342.4 L803.2,342.7 L801.6,343.1 L800.0,343.4 L798.4,343.6 L796.8,343.8 L795.2,344.0 L793.6,344.2 L792.0,344.4 L790.4,344.5 L788.8,344.6 L787.3,344.8 L785.7,344.9 L784.1,345.0 L782.5,345.1 L780.9,345.1 L779.3,345.2 L777.7,345.3 L776.1,345.4 L774.5,345.4 L772.9,345.5 L771.3,345.5 L769.7,345.6 L768.1,345.6 L766.5,345.7 L764.9,345.7 L763.3,345.8 L761.7,345.8 L760.1,345.9 L758.5,345.9 L756.9,346.0 L755.3,346.0 L753.7,346.0 L752.1,346.1 L750.5,346.1 L748.9,346.1 L747.3,346.2 L745.7,346.2 L744.1,346.2 L742.5,346.3 L740.9,346.3 L739.3,346.3 L737.7,346.3 L736.1,346.4 L734.5,346.4 L732.9,346.4 L731.3,346.4 L729.7,346.5 L728.1,346.5 L726.5,346.5 L724.9,346.5 L723.3,346.6 L721.7,346.6 L720.1,346.6 L718.5,346.6 L716.9,346.6 L715.3,346.6 L713.7,346.7 L712.1,346.7 L710.5,346.7 L708.9,346.7 L707.3,346.7 L705.7,346.7 L704.1,346.8 L702.5,346.8 L700.9,346.8 L699.3,346.8 L697.7,346.8 L696.1,346.8 L694.5,346.8 L692.9,346.9 L691.3,346.9 L689.7,346.9 L688.1,346.9 L686.5,346.9 L684.9,346.9 L683.3,346.9 L681.7,346.9 L680.1,346.9 L678.5,346.9 L676.9,347.0 L675.3,347.0 L673.7,347.0 L672.1,347.0 L670.5,347.0 L668.9,347.0 L667.3,347.0 L665.7,347.0 L664.1,347.0 L662.5,347.0 L660.9,347.0 L659.3,347.1 L657.7,347.1 L656.2,347.1 L654.6,347.1 L653.0,347.1 L651.4,347.1 L649.8,347.1 L648.2,347.1 L646.6,347.1 L645.0,347.1 L643.4,347.1 L641.8,347.1 L640.2,347.1 L638.6,347.1 L637.0,347.1 L635.4,347.2 L633.8,347.2 L632.2,347.2 L630.6,347.2 L629.0,347.2 L627.4,347.2 L625.8,347.2 L624.2,347.2 L622.6,347.2 L621.0,347.2 L619.4,347.2 L617.8,347.2 L616.2,347.2 L614.6,347.2 L613.0,347.2 L611.4,347.2 L609.8,347.2 L608.2,347.2 L606.6,347.2 L605.0,347.2 L603.4,347.2 L601.8,347.3 L600.2,347.3 L598.6,347.3 L597.0,347.3 L595.4,347.3 L593.8,347.3 L592.2,347.3 L590.6,347.3 L589.0,347.3 L587.4,347.3 L585.8,347.3 L584.2,347.3 L582.6,347.3 L581.0,347.3 L579.4,347.3 L577.8,347.3 L576.2,347.3 L574.6,347.3 L573.0,347.3 L571.4,347.3 L569.8,347.3 L568.2,347.3 L566.6,347.3 L565.0,347.3 L563.4,347.3 L561.8,347.3 L560.2,347.3 L558.6,347.3 L557.0,347.3 L555.4,347.3 L553.8,347.3 L552.2,347.3 L550.6,347.3 L549.0,347.4 L547.4,347.4 L545.8,347.4 L544.2,347.4 L542.6,347.4 L541.0,347.4" fill="none" stroke="#ff0000" stroke-width="1.8"/>
<path d="M1019.1,347.4 L1017.5,347.4 L1015.9,347.4 L1014.3,347.3 L1012.7,347.3 L1011.1,347.3 L1009.5,347.3 L1007.9,347.3 L1006.3,347.3 L1004.7,347.3 L1003.1,347.3 L1001.5,347.3 L999.9,347.3 L998.3,347.3 L996.7,347.3 L995.1,347.3 L993.5,347.3 L991.9,347.3 L990.3,347.3 L988.7,347.3 L987.1,347.2 L985.5,347.2 L983.9,347.2 L982.3,347.2 L980.7,347.2 L979.1,347.2 L977.5,347.2 L975.9,347.2 L974.3,347.2 L972.7,347.2 L971.1,347.2 L969.5,347.1 L967.9,347.1 L966.3,347.1 L964.7,347.1 L963.1,347.1 L961.5,347.1 L959.9,347.1 L958.3,347.0 L956.7,347.0 L955.1,347.0 L953.5,347.0 L951.9,347.0 L950.3,346.9 L948.7,346.9 L947.1,346.9 L945.5,346.9 L943.9,346.8 L942.3,346.8 L940.7,346.8 L939.1,346.7 L937.5,346.7 L935.9,346.6 L934.3,346.5 L932.7,346.4 L931.1,346.4 L929.5,346.2 L927.9,346.1 L926.3,346.0 L924.7,345.8 L923.1,345.6 L921.5,345.4 L920.0,345.2 L918.4,344.9 L916.8,344.5 L915.2,344.2 L913.6,343.7 L912.0,343.2 L910.4,342.7 L908.8,342.1 L907.2,341.3 L905.6,340.6 L904.0,339.7 L902.4,338.7 L900.8,337.6 L899.2,336.4 L897.6,335.1 L896.0,333.6 L894.4,332.0 L892.8,330.3 L891.2,328.5 L889.6,326.5 L888.0,324.4 L886.4,322.2 L884.8,319.8 L883.2,317.3 L881.6,314.7 L880.0,312.0 L878.4,309.2 L876.8,306.4 L875.2,303.4 L873.6,300.5 L872.0,297.5 L870.4,294.5 L868.8,291.5 L867.2,288.6 L865.6,285.8 L864.0,283.1 L862.4,280.5 L860.8,278.0 L859.2,275.8 L857.6,273.8 L856.0,272.0 L854.4,270.4 L852.8,269.2 L851.2,268.3 L849.6,267.6 L848.0,267.3 L846.4,267.4 L844.8,267.7 L843.2,268.4 L841.6,269.4 L840.0,270.7 L838.4,272.2 L836.8,274.0 L835.2,276.1 L833.6,278.4 L832.0,280.8 L830.4,283.5 L828.8,286.2 L827.2,289.1 L825.6,292.0 L824.0,294.9 L822.4,297.9 L820.8,300.9 L819.2,303.9 L817.6,306.8 L816.0,309.7 L814.4,312.4 L812.8,315.1 L811.2,317.7 L809.6,320.2 L808.0,322.5 L806.4,324.7 L804.8,326.8 L803.2,328.8 L801.6,330.6 L800.0,332.3 L798.4,333.8 L796.8,335.3 L795.2,336.6 L793.6,337.8 L792.0,338.8 L790.4,339.8 L788.8,340.7 L787.3,341.5 L785.7,342.2 L784.1,342.8 L782.5,343.3 L780.9,343.8 L779.3,344.2 L777.7,344.6 L776.1,344.9 L774.5,345.2 L772.9,345.4 L771.3,345.7 L769.7,345.8 L768.1,346.0 L766.5,346.1 L764.9,346.3 L763.3,346.4 L761.7,346.5 L760.1,346.5 L758.5,346.6 L756.9,346.7 L755.3,346.7 L753.7,346.8 L752.1,346.8 L750.5,346.8 L748.9,346.9 L747.3,346.9 L745.7,346.9 L744.1,347.0 L742.5,347.0 L740.9,347.0 L739.3,347.0 L737.7,347.0 L736.1,347.0 L734.5,347.1 L732.9,347.1 L731.3,347.1 L729.7,347.1 L728.1,347.1 L726.5,347.1 L724.9,347.1 L723.3,347.2 L721.7,347.2 L720.1,347.2 L718.5,347.2 L716.9,347.2 L715.3,347.2 L713.7,347.2 L712.1,347.2 L710.5,347.2 L708.9,347.2 L707.3,347.2 L705.7,347.3 L704.1,347.3 L702.5,347.3 L700.9,347.3 L699.3,347.3 L697.7,347.3 L696.1,347.3 L694.5,347.3 L692.9,347.3 L691.3,347.3 L689.7,347.3 L688.1,347.3 L686.5,347.3 L684.9,347.3 L683.3,347.3 L681.7,347.3 L680.1,347.3 L678.5,347.4 L676.9,347.4 L675.3,347.4 L673.7,347.4 L672.1,347.4 L670.5,347.4 L668.9,347.4 L667.3,347.4 L665.7,347.4 L664.1,347.4 L662.5,347.4 L660.9,347.4 L659.3,347.4 L657.7,347.4 L656.2,347.4 L654.6,347.4 L653.0,347.4 L651.4,347.4 L649.8,347.4 L648.2,347.4 L646.6,347.4 L645.0,347.4 L643.4,347.4 L641.8,347.4 L640.2,347.4 L638.6,347.4 L637.0,347.4 L635.4,347.4 L633.8,347.4 L632.2,347.4 L630.6,347.4 L629.0,347.5 L627.4,347.5 L625.8,347.5 L624.2,347.5 L622.6,347.5 L621.0,347.5 L619.4,347.5 L617.8,347.5 L616.2,347.5 L614.6,347.5 L613.0,347.5 L611.4,347.5 L609.8,347.5 L608.2,347.5 L606.6,347.5 L605.0,347.5 L603.4,347.5 L601.8,347.5 L600.2,347.5 L598.6,347.5 L597.0,347.5 L595.4,347.5 L593.8,347.5 L592.2,347.5 L590.6,347.5 L589.0,347.5 L587.4,347.5 L585.8,347.5 L584.2,347.5 L582.6,347.5 L581.0,347.5 L579.4,347.5 L577.8,347.5 L576.2,347.5 L574.6,347.5 L573.0,347.5 L571.4,347.5 L569.8,347.5 L568.2,347.5 L566.6,347.5 L565.0,347.5 L563.4,347.5 L561.8,347.5 L560.2,347.5 L558.6,347.5 L557.0,347.5 L555.4,347.5 L553.8,347.5 L552.2,347.5 L550.6,347.5 L549.0,347.5 L547.4,347.5 L545.8,347.5 L544.2,347.5 L542.6,347.5 L541.0,347.5" fill="none" stroke="#ff0000" stroke-width="1.8"/>
<path d="M1019.1,347.3 L1017.5,347.3 L1015.9,347.3 L1014.3,347.3 L1012.7,347.3 L1011.1,347.3 L1009.5,347.3 L1007.9,347.3 L1006.3,347.3 L1004.7,347.3 L1003.1,347.3 L1001.5,347.3 L999.9,347.3 L998.3,347.3 L996.7,347.3 L995.1,347.3 L993.5,347.3 L991.9,347.3 L990.3,347.3 L988.7,347.3 L987.1,347.3 L985.5,347.2 L983.9,347.2 L982.3,347.2 L980.7,347.2 L979.1,347.2 L977.5,347.2 L975.9,347.2 L974.3,347.2 L972.7,347.2 L971.1,347.2 L969.5,347.2 L967.9,347.2 L966.3,347.2 L964.7,347.2 L963.1,347.2 L961.5,347.1 L959.9,347.1 L958.3,347.1 L956.7,347.1 L955.1,347.1 L953.5,347.1 L951.9,347.1 L950.3,347.1 L948.7,347.0 L947.1,347.0 L945.5,347.0 L943.9,347.0 L942.3,347.0 L940.7,346.9 L939.1,346.9 L937.5,346.9 L935.9,346.9 L934.3,346.8 L932.7,346.8 L931.1,346.8 L929.5,346.7 L927.9,346.7 L926.3,346.6 L924.7,346.6 L923.1,346.5 L921.5,346.5 L920.0,346.4 L918.4,346.3 L916.8,346.2 L915.2,346.2 L913.6,346.1 L912.0,346.0 L910.4,345.8 L908.8,345.7 L907.2,345.6 L905.6,345.4 L904.0,345.3 L902.4,345.1 L900.8,344.9 L899.2,344.7 L897.6,344.5 L896.0,344.3 L894.4,344.0 L892.8,343.7 L891.2,343.4 L889.6,343.1 L888.0,342.8 L886.4,342.4 L884.8,342.0 L883.2,341.6 L881.6,341.2 L880.0,340.7 L878.4,340.2 L876.8,339.6 L875.2,339.0 L873.6,338.4 L872.0,337.7 L870.4,337.0 L868.8,336.3 L867.2,335.5 L865.6,334.7 L864.0,333.8 L862.4,332.8 L860.8,331.9 L859.2,330.8 L857.6,329.8 L856.0,328.6 L854.4,327.4 L852.8,326.2 L851.2,324.9 L849.6,323.5 L848.0,322.1 L846.4,320.6 L844.8,319.1 L843.2,317.5 L841.6,315.9 L840.0,314.2 L838.4,312.4 L836.8,310.6 L835.2,308.7 L833.6,306.8 L832.0,304.9 L830.4,302.8 L828.8,300.8 L827.2,298.7 L825.6,296.5 L824.0,294.3 L822.4,292.1 L820.8,289.9 L819.2,287.6 L817.6,285.3 L816.0,283.0 L814.4,280.6 L812.8,278.3 L811.2,276.0 L809.6,273.6 L808.0,271.3 L806.4,268.9 L804.8,266.6 L803.2,264.3 L801.6,262.1 L800.0,259.8 L798.4,257.6 L796.8,255.5 L795.2,253.4 L793.6,251.4 L792.0,249.4 L790.4,247.5 L788.8,245.7 L787.3,244.0 L785.7,242.3 L784.1,240.8 L782.5,239.3 L780.9,237.9 L779.3,236.7 L777.7,235.6 L776.1,234.6 L774.5,233.7 L772.9,232.9 L771.3,232.3 L769.7,231.7 L768.1,231.4 L766.5,231.1 L764.9,231.0 L763.3,231.0 L761.7,231.2 L760.1,231.5 L758.5,231.9 L756.9,232.4 L755.3,233.1 L753.7,233.9 L752.1,234.9 L750.5,235.9 L748.9,237.1 L747.3,238.3 L745.7,239.7 L744.1,241.2 L742.5,242.8 L740.9,244.5 L739.3,246.2 L737.7,248.1 L736.1,250.0 L734.5,252.0 L732.9,254.0 L731.3,256.1 L729.7,258.3 L728.1,260.5 L726.5,262.7 L724.9,265.0 L723.3,267.3 L721.7,269.6 L720.1,272.0 L718.5,274.3 L716.9,276.7 L715.3,279.0 L713.7,281.4 L712.1,283.7 L710.5,286.0 L708.9,288.3 L707.3,290.6 L705.7,292.8 L704.1,295.0 L702.5,297.2 L700.9,299.3 L699.3,301.4 L697.7,303.5 L696.1,305.5 L694.5,307.4 L692.9,309.3 L691.3,311.2 L689.7,313.0 L688.1,314.7 L686.5,316.4 L684.9,318.0 L683.3,319.6 L681.7,321.1 L680.1,322.5 L678.5,323.9 L676.9,325.3 L675.3,326.6 L673.7,327.8 L672.1,329.0 L670.5,330.1 L668.9,331.2 L667.3,332.2 L665.7,333.1 L664.1,334.0 L662.5,334.9 L660.9,335.7 L659.3,336.5 L657.7,337.2 L656.2,337.9 L654.6,338.6 L653.0,339.2 L651.4,339.8 L649.8,340.3 L648.2,340.8 L646.6,341.3 L645.0,341.7 L643.4,342.1 L641.8,342.5 L640.2,342.9 L638.6,343.2 L637.0,343.5 L635.4,343.8 L633.8,344.1 L632.2,344.3 L630.6,344.6 L629.0,344.8 L627.4,345.0 L625.8,345.2 L624.2,345.3 L622.6,345.5 L621.0,345.6 L619.4,345.8 L617.8,345.9 L616.2,346.0 L614.6,346.1 L613.0,346.2 L611.4,346.3 L609.8,346.3 L608.2,346.4 L606.6,346.5 L605.0,346.5 L603.4,346.6 L601.8,346.6 L600.2,346.7 L598.6,346.7 L597.0,346.8 L595.4,346.8 L593.8,346.8 L592.2,346.9 L590.6,346.9 L589.0,346.9 L587.4,347.0 L585.8,347.0 L584.2,347.0 L582.6,347.0 L581.0,347.0 L579.4,347.0 L577.8,347.1 L576.2,347.1 L574.6,347.1 L573.0,347.1 L571.4,347.1 L569.8,347.1 L568.2,347.1 L566.6,347.1 L565.0,347.2 L563.4,347.2 L561.8,347.2 L560.2,347.2 L558.6,347.2 L557.0,347.2 L555.4,347.2 L553.8,347.2 L552.2,347.2 L550.6,347.2 L549.0,347.2 L547.4,347.2 L545.8,347.2 L544.2,347.2 L542.6,347.2 L541.0,347.3" fill="none" stroke="#ff0000" stroke-width="1.8"/>
<path d="M1019.1,347.6 L1017.5,347.6 L1015.9,347.6 L1014.3,347.6 L1012.7,347.6 L1011.1,347.6 L1009.5,347.6 L1007.9,347.6 L1006.3,347.6 L1004.7,347.6 L1003.1,347.6 L1001.5,347.6 L999.9,347.6 L998.3,347.6 L996.7,347.6 L995.1,347.6 L993.5,347.6 L991.9,347.6 L990.3,347.6 L988.7,347.6 L987.1,347.6 L985.5,347.6 L983.9,347.6 L982.3,347.6 L980.7,347.6 L979.1,347.6 L977.5,347.6 L975.9,347.6 L974.3,347.6 L972.7,347.6 L971.1,347.6 L969.5,347.6 L967.9,347.6 L966.3,347.6 L964.7,347.6 L963.1,347.6 L961.5,347.6 L959.9,347.6 L958.3,347.6 L956.7,347.6 L955.1,347.6 L953.5,347.6 L951.9,347.6 L950.3,347.6 L948.7,347.6 L947.1,347.6 L945.5,347.6 L943.9,347.6 L942.3,347.6 L940.7,347.6 L939.1,347.6 L937.5,347.6 L935.9,347.6 L934.3,347.6 L932.7,347.6 L931.1,347.6 L929.5,347.6 L927.9,347.6 L926.3,347.6 L924.7,347.6 L923.1,347.6 L921.5,347.6 L920.0,347.6 L918.4,347.6 L916.8,347.6 L915.2,347.6 L913.6,347.6 L912.0,347.6 L910.4,347.6 L908.8,347.6 L907.2,347.5 L905.6,347.5 L904.0,347.5 L902.4,347.5 L900.8,347.5 L899.2,347.5 L897.6,347.5 L896.0,347.5 L894.4,347.5 L892.8,347.5 L891.2,347.5 L889.6,347.5 L888.0,347.5 L886.4,347.5 L884.8,347.5 L883.2,347.5 L881.6,347.5 L880.0,347.5 L878.4,347.5 L876.8,347.5 L875.2,347.5 L873.6,347.5 L872.0,347.5 L870.4,347.5 L868.8,347.5 L867.2,347.5 L865.6,347.5 L864.0,347.5 L862.4,347.5 L860.8,347.5 L859.2,347.5 L857.6,347.5 L856.0,347.5 L854.4,347.5 L852.8,347.5 L851.2,347.5 L849.6,347.5 L848.0,347.5 L846.4,347.5 L844.8,347.5 L843.2,347.5 L841.6,347.5 L840.0,347.5 L838.4,347.5 L836.8,347.5 L835.2,347.5 L833.6,347.5 L832.0,347.5 L830.4,347.5 L828.8,347.5 L827.2,347.5 L825.6,347.5 L824.0,347.5 L822.4,347.5 L820.8,347.5 L819.2,347.5 L817.6,347.5 L816.0,347.5 L814.4,347.5 L812.8,347.5 L811.2,347.5 L809.6,347.5 L808.0,347.5 L806.4,347.5 L804.8,347.5 L803.2,347.4 L801.6,347.4 L800.0,347.4 L798.4,347.4 L796.8,347.4 L795.2,347.4 L793.6,347.4 L792.0,347.4 L790.4,347.4 L788.8,347.4 L787.3,347.4 L785.7,347.4 L784.1,347.3 L782.5,347.3 L780.9,347.3 L779.3,347.3 L777.7,347.3 L776.1,347.3 L774.5,347.2 L772.9,347.2 L771.3,347.2 L769.7,347.2 L768.1,347.1 L766.5,347.1 L764.9,347.1 L763.3,347.0 L761.7,347.0 L760.1,347.0 L758.5,346.9 L756.9,346.9 L755.3,346.8 L753.7,346.8 L752.1,346.7 L750.5,346.7 L748.9,346.6 L747.3,346.5 L745.7,346.5 L744.1,346.4 L742.5,346.3 L740.9,346.2 L739.3,346.1 L737.7,346.0 L736.1,345.9 L734.5,345.8 L732.9,345.7 L731.3,345.6 L729.7,345.5 L728.1,345.3 L726.5,345.2 L724.9,345.0 L723.3,344.9 L721.7,344.7 L720.1,344.6 L718.5,344.4 L716.9,344.2 L715.3,344.1 L713.7,343.9 L712.1,343.7 L710.5,343.5 L708.9,343.3 L707.3,343.1 L705.7,342.8 L704.1,342.6 L702.5,342.4 L700.9,342.2 L699.3,341.9 L697.7,341.7 L696.1,341.4 L694.5,341.2 L692.9,340.9 L691.3,340.7 L689.7,340.4 L688.1,340.2 L686.5,339.9 L684.9,339.6 L683.3,339.4 L681.7,339.1 L680.1,338.9 L678.5,338.6 L676.9,338.4 L675.3,338.1 L673.7,337.9 L672.1,337.7 L670.5,337.4 L668.9,337.2 L667.3,337.0 L665.7,336.8 L664.1,336.6 L662.5,336.4 L660.9,336.2 L659.3,336.1 L657.7,335.9 L656.2,335.8 L654.6,335.6 L653.0,335.5 L651.4,335.4 L649.8,335.3 L648.2,335.2 L646.6,335.2 L645.0,335.1 L643.4,335.1 L641.8,335.1 L640.2,335.1 L638.6,335.1 L637.0,335.2 L635.4,335.2 L633.8,335.3 L632.2,335.3 L630.6,335.4 L629.0,335.5 L627.4,335.7 L625.8,335.8 L624.2,336.0 L622.6,336.1 L621.0,336.3 L619.4,336.5 L617.8,336.7 L616.2,336.9 L614.6,337.1 L613.0,337.3 L611.4,337.5 L609.8,337.7 L608.2,338.0 L606.6,338.2 L605.0,338.5 L603.4,338.7 L601.8,339.0 L600.2,339.2 L598.6,339.5 L597.0,339.7 L595.4,340.0 L593.8,340.2 L592.2,340.5 L590.6,340.8 L589.0,341.0 L587.4,341.3 L585.8,341.5 L584.2,341.8 L582.6,342.0 L581.0,342.2 L579.4,342.5 L577.8,342.7 L576.2,342.9 L574.6,343.1 L573.0,343.3 L571.4,343.5 L569.8,343.7 L568.2,343.9 L566.6,344.1 L565.0,344.3 L563.4,344.5 L561.8,344.6 L560.2,344.8 L558.6,344.9 L557.0,345.1 L555.4,345.2 L553.8,345.4 L552.2,345.5 L550.6,345.6 L549.0,345.7 L547.4,345.9 L545.8,346.0 L544.2,346.1 L542.6,346.2 L541.0,346.2" fill="none" stroke="#ff0000" stroke-width="1.8"/>
<path d="M1019.1,347.3 L1017.5,347.3 L1015.9,347.3 L1014.3,347.3 L1012.7,347.3 L1011.1,347.3 L1009.5,347.3 L1007.9,347.3 L1006.3,347.3 L1004.7,347.3 L1003.1,347.3 L1001.5,347.3 L999.9,347.3 L998.3,347.3 L996.7,347.3 L995.1,347.3 L993.5,347.3 L991.9,347.3 L990.3,347.3 L988.7,347.3 L987.1,347.3 L985.5,347.2 L983.9,347.2 L982.3,347.2 L980.7,347.2 L979.1,347.2 L977.5,347.2 L975.9,347.2 L974.3,347.2 L972.7,347.2 L971.1,347.2 L969.5,347.2 L967.9,347.2 L966.3,347.2 L964.7,347.2 L963.1,347.2 L961.5,347.1 L959.9,347.1 L958.3,347.1 L956.7,347.1 L955.1,347.1 L953.5,347.1 L951.9,347.1 L950.3,347.1 L948.7,347.0 L947.1,347.0 L945.5,347.0 L943.9,347.0 L942.3,347.0 L940.7,346.9 L939.1,346.9 L937.5,346.9 L935.9,346.9 L934.3,346.8 L932.7,346.8 L931.1,346.8 L929.5,346.7 L927.9,346.7 L926.3,346.6 L924.7,346.6 L923.1,346.5 L921.5,346.5 L920.0,346.4 L918.4,346.3 L916.8,346.2 L915.2,346.2 L913.6,346.1 L912.0,346.0 L910.4,345.8 L908.8,345.7 L907.2,345.6 L905.6,345.4 L904.0,345.3 L902.4,345.1 L900.8,344.9 L899.2,344.7 L897.6,344.5 L896.0,344.3 L894.4,344.0 L892.8,343.7 L891.2,343.4 L889.6,343.1 L888.0,342.8 L886.4,342.4 L884.8,342.0 L883.2,341.6 L881.6,341.2 L880.0,340.7 L878.4,340.2 L876.8,339.6 L875.2,339.0 L873.6,338.4 L872.0,337.7 L870.4,337.0 L868.8,336.3 L867.2,335.5 L865.6,334.7 L864.0,333.8 L862.4,332.8 L860.8,331.9 L859.2,330.8 L857.6,329.8 L856.0,328.6 L854.4,327.4 L852.8,326.2 L851.2,324.9 L849.6,323.5 L848.0,322.1 L846.4,320.6 L844.8,319.1 L843.2,317.5 L841.6,315.9 L840.0,314.2 L838.4,312.4 L836.8,310.6 L835.2,308.7 L833.6,306.8 L832.0,304.9 L830.4,302.8 L828.8,300.8 L827.2,298.7 L825.6,296.5 L824.0,294.3 L822.4,292.1 L820.8,289.9 L819.2,287.6 L817.6,285.3 L816.0,283.0 L814.4,280.6 L812.8,278.3 L811.2,276.0 L809.6,273.6 L808.0,271.3 L806.4,268.9 L804.8,266.6 L803.2,264.3 L801.6,262.1 L800.0,259.8 L798.4,257.6 L796.8,255.5 L795.2,253.4 L793.6,251.4 L792.0,249.4 L790.4,247.5 L788.8,245.7 L787.3,244.0 L785.7,242.3 L784.1,240.8 L782.5,239.3 L780.9,237.9 L779.3,236.7 L777.7,235.6 L776.1,234.6 L774.5,233.7 L772.9,232.9 L771.3,232.3 L769.7,231.7 L768.1,231.4 L766.5,231.1 L764.9,231.0 L763.3,231.0 L761.7,231.2 L760.1,231.5 L758.5,231.9 L756.9,232.4 L755.3,233.1 L753.7,233.9 L752.1,234.9 L750.5,235.9 L748.9,237.1 L747.3,238.3 L745.7,239.7 L744.1,241.2 L742.5,242.8 L740.9,244.5 L739.3,246.2 L737.7,248.1 L736.1,250.0 L734.5,252.0 L732.9,254.0 L731.3,256.1 L729.7,258.3 L728.1,260.5 L726.5,262.7 L724.9,265.0 L723.3,267.3 L721.7,269.6 L720.1,272.0 L718.5,274.3 L716.9,276.7 L715.3,279.0 L713.7,281.4 L712.1,283.7 L710.5,286.0 L708.9,288.3 L707.3,290.6 L705.7,292.8 L704.1,295.0 L702.5,297.2 L700.9,299.3 L699.3,301.4 L697.7,303.5 L696.1,305.5 L694.5,307.4 L692.9,309.3 L691.3,311.2 L689.7,313.0 L688.1,314.7 L686.5,316.4 L684.9,318.0 L683.3,319.6 L681.7,321.1 L680.1,322.5 L678.5,323.9 L676.9,325.3 L675.3,326.6 L673.7,327.8 L672.1,329.0 L670.5,330.1 L668.9,331.2 L667.3,332.2 L665.7,333.1 L664.1,334.0 L662.5,334.9 L660.9,335.7 L659.3,336.5 L657.7,337.2 L656.2,337.9 L654.6,338.6 L653.0,339.2 L651.4,339.8 L649.8,340.3 L648.2,340.8 L646.6,341.3 L645.0,341.7 L643.4,342.1 L641.8,342.5 L640.2,342.9 L638.6,343.2 L637.0,343.5 L635.4,343.8 L633.8,344.1 L632.2,344.3 L630.6,344.6 L629.0,344.8 L627.4,345.0 L625.8,345.2 L624.2,345.3 L622.6,345.5 L621.0,345.6 L619.4,345.8 L617.8,345.9 L616.2,346.0 L614.6,346.1 L613.0,346.2 L611.4,346.3 L609.8,346.3 L608.2,346.4 L606.6,346.5 L605.0,346.5 L603.4,346.6 L601.8,346.6 L600.2,346.7 L598.6,346.7 L597.0,346.8 L595.4,346.8 L593.8,346.8 L592.2,346.9 L590.6,346.9 L589.0,346.9 L587.4,347.0 L585.8,347.0 L584.2,347.0 L582.6,347.0 L581.0,347.0 L579.4,347.0 L577.8,347.1 L576.2,347.1 L574.6,347.1 L573.0,347.1 L571.4,347.1 L569.8,347.1 L568.2,347.1 L566.6,347.1 L565.0,347.2 L563.4,347.2 L561.8,347.2 L560.2,347.2 L558.6,347.2 L557.0,347.2 L555.4,347.2 L553.8,347.2 L552.2,347.2 L550.6,347.2 L549.0,347.2 L547.4,347.2 L545.8,347.2 L544.2,347.2 L542.6,347.2 L541.0,347.3" fill="none" stroke="#1a80e0" stroke-width="1.8"/>
<g fill="#ff0000"><circle cx="547.0" cy="346.5" r="3.3"/><circle cx="552.7" cy="346.2" r="3.3"/><circle cx="558.5" cy="345.8" r="3.3"/><circle cx="564.2" cy="345.6" r="3.3"/><circle cx="569.9" cy="343.7" r="3.3"/><circle cx="575.6" cy="342.1" r="3.3"/><circle cx="581.4" cy="342.0" r="3.3"/><circle cx="587.1" cy="341.3" r="3.3"/><circle cx="592.8" cy="340.5" r="3.3"/><circle cx="598.5" cy="340.4" r="3.3"/><circle cx="604.3" cy="338.9" r="3.3"/><circle cx="610.0" cy="338.5" r="3.3"/><circle cx="615.7" cy="336.5" r="3.3"/><circle cx="621.4" cy="336.7" r="3.3"/><circle cx="627.2" cy="336.3" r="3.3"/><circle cx="632.9" cy="334.0" r="3.3"/><circle cx="638.6" cy="332.1" r="3.3"/><circle cx="644.3" cy="330.5" r="3.3"/><circle cx="650.1" cy="329.9" r="3.3"/><circle cx="655.8" cy="326.4" r="3.3"/><circle cx="661.5" cy="324.3" r="3.3"/><circle cx="667.2" cy="321.1" r="3.3"/><circle cx="673.0" cy="317.7" r="3.3"/><circle cx="678.7" cy="313.2" r="3.3"/><circle cx="684.4" cy="309.6" r="3.3"/><circle cx="690.1" cy="304.9" r="3.3"/><circle cx="695.9" cy="299.1" r="3.3"/><circle cx="701.6" cy="290.8" r="3.3"/><circle cx="707.3" cy="282.6" r="3.3"/><circle cx="713.0" cy="274.9" r="3.3"/><circle cx="718.8" cy="269.2" r="3.3"/><circle cx="724.5" cy="261.1" r="3.3"/><circle cx="730.2" cy="250.8" r="3.3"/><circle cx="735.9" cy="244.9" r="3.3"/><circle cx="741.7" cy="239.0" r="3.3"/><circle cx="747.4" cy="236.1" r="3.3"/><circle cx="753.1" cy="232.5" r="3.3"/><circle cx="758.8" cy="232.0" r="3.3"/><circle cx="764.6" cy="231.3" r="3.3"/><circle cx="770.3" cy="230.8" r="3.3"/><circle cx="776.0" cy="230.6" r="3.3"/><circle cx="781.7" cy="232.6" r="3.3"/><circle cx="787.5" cy="233.0" r="3.3"/><circle cx="793.2" cy="233.6" r="3.3"/><circle cx="798.9" cy="234.3" r="3.3"/><circle cx="804.6" cy="231.1" r="3.3"/><circle cx="810.4" cy="229.7" r="3.3"/><circle cx="816.1" cy="223.5" r="3.3"/><circle cx="821.8" cy="217.6" r="3.3"/><circle cx="827.5" cy="209.6" r="3.3"/><circle cx="833.3" cy="202.0" r="3.3"/><circle cx="839.0" cy="194.3" r="3.3"/><circle cx="844.7" cy="176.2" r="3.3"/><circle cx="850.4" cy="159.2" r="3.3"/><circle cx="856.2" cy="143.4" r="3.3"/><circle cx="861.9" cy="122.2" r="3.3"/><circle cx="867.6" cy="101.1" r="3.3"/><circle cx="873.3" cy="90.8" r="3.3"/><circle cx="879.1" cy="87.2" r="3.3"/><circle cx="884.8" cy="87.4" r="3.3"/><circle cx="890.5" cy="101.8" r="3.3"/><circle cx="896.2" cy="131.4" r="3.3"/><circle cx="902.0" cy="159.5" r="3.3"/><circle cx="907.7" cy="192.9" r="3.3"/><circle cx="913.4" cy="225.8" r="3.3"/><circle cx="919.1" cy="255.2" r="3.3"/><circle cx="924.9" cy="282.3" r="3.3"/><circle cx="930.6" cy="307.5" r="3.3"/><circle cx="936.3" cy="321.3" r="3.3"/><circle cx="942.0" cy="329.3" r="3.3"/><circle cx="947.8" cy="335.9" r="3.3"/><circle cx="953.5" cy="338.9" r="3.3"/><circle cx="959.2" cy="341.1" r="3.3"/><circle cx="964.9" cy="342.9" r="3.3"/><circle cx="970.7" cy="344.6" r="3.3"/><circle cx="976.4" cy="345.4" r="3.3"/><circle cx="982.1" cy="344.8" r="3.3"/><circle cx="987.8" cy="345.5" r="3.3"/><circle cx="993.6" cy="345.9" r="3.3"/><circle cx="999.3" cy="345.3" r="3.3"/><circle cx="1005.0" cy="346.1" r="3.3"/><circle cx="1010.7" cy="345.9" r="3.3"/><circle cx="1016.5" cy="345.7" r="3.3"/></g>
<g fill="#00b000"><circle cx="547.0" cy="338.5" r="3.3"/><circle cx="552.7" cy="334.4" r="3.3"/><circle cx="558.5" cy="331.7" r="3.3"/><circle cx="564.2" cy="326.7" r="3.3"/><circle cx="569.9" cy="320.1" r="3.3"/><circle cx="575.6" cy="313.3" r="3.3"/><circle cx="581.4" cy="303.6" r="3.3"/><circle cx="587.1" cy="292.8" r="3.3"/><circle cx="592.8" cy="280.6" r="3.3"/><circle cx="598.5" cy="264.5" r="3.3"/><circle cx="604.3" cy="249.4" r="3.3"/><circle cx="610.0" cy="223.0" r="3.3"/><circle cx="615.7" cy="204.8" r="3.3"/><circle cx="621.4" cy="183.3" r="3.3"/><circle cx="627.2" cy="167.3" r="3.3"/><circle cx="632.9" cy="151.8" r="3.3"/><circle cx="638.6" cy="132.1" r="3.3"/><circle cx="644.3" cy="118.4" r="3.3"/><circle cx="650.1" cy="105.4" r="3.3"/><circle cx="655.8" cy="90.8" r="3.3"/><circle cx="661.5" cy="76.8" r="3.3"/><circle cx="667.2" cy="65.2" r="3.3"/><circle cx="673.0" cy="59.0" r="3.3"/><circle cx="678.7" cy="54.1" r="3.3"/><circle cx="684.4" cy="48.5" r="3.3"/><circle cx="690.1" cy="45.6" r="3.3"/><circle cx="695.9" cy="38.2" r="3.3"/><circle cx="701.6" cy="41.6" r="3.3"/><circle cx="707.3" cy="37.6" r="3.3"/><circle cx="713.0" cy="39.6" r="3.3"/><circle cx="718.8" cy="39.2" r="3.3"/><circle cx="724.5" cy="41.9" r="3.3"/><circle cx="730.2" cy="48.0" r="3.3"/><circle cx="735.9" cy="52.0" r="3.3"/><circle cx="741.7" cy="59.2" r="3.3"/><circle cx="747.4" cy="67.1" r="3.3"/><circle cx="753.1" cy="79.1" r="3.3"/><circle cx="758.8" cy="89.6" r="3.3"/><circle cx="764.6" cy="103.3" r="3.3"/><circle cx="770.3" cy="114.2" r="3.3"/><circle cx="776.0" cy="124.7" r="3.3"/><circle cx="781.7" cy="133.6" r="3.3"/><circle cx="787.5" cy="148.9" r="3.3"/><circle cx="793.2" cy="164.8" r="3.3"/><circle cx="798.9" cy="176.8" r="3.3"/><circle cx="804.6" cy="185.5" r="3.3"/><circle cx="810.4" cy="192.6" r="3.3"/><circle cx="816.1" cy="195.9" r="3.3"/><circle cx="821.8" cy="199.7" r="3.3"/><circle cx="827.5" cy="198.2" r="3.3"/><circle cx="833.3" cy="199.2" r="3.3"/><circle cx="839.0" cy="191.6" r="3.3"/><circle cx="844.7" cy="171.8" r="3.3"/><circle cx="850.4" cy="153.1" r="3.3"/><circle cx="856.2" cy="141.1" r="3.3"/><circle cx="861.9" cy="127.2" r="3.3"/><circle cx="867.6" cy="108.7" r="3.3"/><circle cx="873.3" cy="96.7" r="3.3"/><circle cx="879.1" cy="88.5" r="3.3"/><circle cx="884.8" cy="91.1" r="3.3"/><circle cx="890.5" cy="106.9" r="3.3"/><circle cx="896.2" cy="127.6" r="3.3"/><circle cx="902.0" cy="159.3" r="3.3"/><circle cx="907.7" cy="199.9" r="3.3"/><circle cx="913.4" cy="229.3" r="3.3"/><circle cx="919.1" cy="254.9" r="3.3"/><circle cx="924.9" cy="282.6" r="3.3"/><circle cx="930.6" cy="304.1" r="3.3"/><circle cx="936.3" cy="321.4" r="3.3"/><circle cx="942.0" cy="326.7" r="3.3"/><circle cx="947.8" cy="335.7" r="3.3"/><circle cx="953.5" cy="337.9" r="3.3"/><circle cx="959.2" cy="340.8" r="3.3"/><circle cx="964.9" cy="342.8" r="3.3"/><circle cx="970.7" cy="344.4" r="3.3"/><circle cx="976.4" cy="342.5" r="3.3"/><circle cx="982.1" cy="342.4" r="3.3"/><circle cx="987.8" cy="343.7" r="3.3"/><circle cx="993.6" cy="342.5" r="3.3"/><circle cx="999.3" cy="344.3" r="3.3"/><circle cx="1005.0" cy="346.0" r="3.3"/><circle cx="1010.7" cy="344.4" r="3.3"/><circle cx="1016.5" cy="346.0" r="3.3"/></g>
<g fill="#1a80e0"><circle cx="547.0" cy="340.1" r="3.3"/><circle cx="552.7" cy="339.5" r="3.3"/><circle cx="558.5" cy="337.5" r="3.3"/><circle cx="564.2" cy="336.2" r="3.3"/><circle cx="569.9" cy="335.2" r="3.3"/><circle cx="575.6" cy="334.5" r="3.3"/><circle cx="581.4" cy="332.0" r="3.3"/><circle cx="587.1" cy="330.2" r="3.3"/><circle cx="592.8" cy="327.6" r="3.3"/><circle cx="598.5" cy="326.4" r="3.3"/><circle cx="604.3" cy="323.3" r="3.3"/><circle cx="610.0" cy="320.9" r="3.3"/><circle cx="615.7" cy="317.0" r="3.3"/><circle cx="621.4" cy="314.9" r="3.3"/><circle cx="627.2" cy="309.6" r="3.3"/><circle cx="632.9" cy="307.6" r="3.3"/><circle cx="638.6" cy="305.5" r="3.3"/><circle cx="644.3" cy="302.4" r="3.3"/><circle cx="650.1" cy="300.0" r="3.3"/><circle cx="655.8" cy="298.4" r="3.3"/><circle cx="661.5" cy="295.9" r="3.3"/><circle cx="667.2" cy="295.2" r="3.3"/><circle cx="673.0" cy="295.2" r="3.3"/><circle cx="678.7" cy="292.7" r="3.3"/><circle cx="684.4" cy="288.6" r="3.3"/><circle cx="690.1" cy="283.5" r="3.3"/><circle cx="695.9" cy="278.0" r="3.3"/><circle cx="701.6" cy="273.0" r="3.3"/><circle cx="707.3" cy="266.7" r="3.3"/><circle cx="713.0" cy="261.8" r="3.3"/><circle cx="718.8" cy="257.8" r="3.3"/><circle cx="724.5" cy="252.8" r="3.3"/><circle cx="730.2" cy="247.0" r="3.3"/><circle cx="735.9" cy="241.5" r="3.3"/><circle cx="741.7" cy="236.3" r="3.3"/><circle cx="747.4" cy="231.8" r="3.3"/><circle cx="753.1" cy="225.4" r="3.3"/><circle cx="758.8" cy="222.8" r="3.3"/><circle cx="764.6" cy="219.6" r="3.3"/><circle cx="770.3" cy="218.3" r="3.3"/><circle cx="776.0" cy="216.2" r="3.3"/><circle cx="781.7" cy="212.2" r="3.3"/><circle cx="787.5" cy="207.0" r="3.3"/><circle cx="793.2" cy="204.1" r="3.3"/><circle cx="798.9" cy="199.3" r="3.3"/><circle cx="804.6" cy="192.3" r="3.3"/><circle cx="810.4" cy="186.1" r="3.3"/><circle cx="816.1" cy="180.3" r="3.3"/><circle cx="821.8" cy="172.9" r="3.3"/><circle cx="827.5" cy="168.0" r="3.3"/><circle cx="833.3" cy="158.5" r="3.3"/><circle cx="839.0" cy="150.1" r="3.3"/><circle cx="844.7" cy="142.4" r="3.3"/><circle cx="850.4" cy="133.6" r="3.3"/><circle cx="856.2" cy="121.6" r="3.3"/><circle cx="861.9" cy="108.5" r="3.3"/><circle cx="867.6" cy="96.1" r="3.3"/><circle cx="873.3" cy="87.8" r="3.3"/><circle cx="879.1" cy="83.2" r="3.3"/><circle cx="884.8" cy="85.1" r="3.3"/><circle cx="890.5" cy="98.6" r="3.3"/><circle cx="896.2" cy="122.3" r="3.3"/><circle cx="902.0" cy="151.4" r="3.3"/><circle cx="907.7" cy="189.2" r="3.3"/><circle cx="913.4" cy="222.0" r="3.3"/><circle cx="919.1" cy="253.9" r="3.3"/><circle cx="924.9" cy="283.4" r="3.3"/><circle cx="930.6" cy="306.4" r="3.3"/><circle cx="936.3" cy="322.9" r="3.3"/><circle cx="942.0" cy="331.4" r="3.3"/><circle cx="947.8" cy="334.2" r="3.3"/><circle cx="953.5" cy="339.2" r="3.3"/><circle cx="959.2" cy="343.3" r="3.3"/><circle cx="964.9" cy="343.6" r="3.3"/><circle cx="970.7" cy="344.2" r="3.3"/><circle cx="976.4" cy="344.5" r="3.3"/><circle cx="982.1" cy="344.7" r="3.3"/><circle cx="987.8" cy="345.2" r="3.3"/><circle cx="993.6" cy="345.2" r="3.3"/><circle cx="999.3" cy="346.2" r="3.3"/><circle cx="1005.0" cy="345.6" r="3.3"/><circle cx="1010.7" cy="345.7" r="3.3"/><circle cx="1016.5" cy="345.3" r="3.3"/></g>
<g fill="#00b000"><circle cx="715.3" cy="32" r="3.3"/><circle cx="720.5" cy="40.5" r="3.3"/></g>
<rect x="32.3" y="5.5" width="474.2" height="344" fill="none" stroke="#000" stroke-width="2.7"/>
<rect x="544.3" y="5.5" width="474.4" height="344" fill="none" stroke="#000" stroke-width="2.7"/>
<path d="M459.3,349.5 v-8.5 M459.3,5.5 v8.5 M411.9,349.5 v-4.8 M411.9,5.5 v4.8 M364.5,349.5 v-8.5 M364.5,5.5 v8.5 M317.0,349.5 v-4.8 M317.0,5.5 v4.8 M269.6,349.5 v-8.5 M269.6,5.5 v8.5 M222.2,349.5 v-4.8 M222.2,5.5 v4.8 M174.8,349.5 v-8.5 M174.8,5.5 v8.5 M127.4,349.5 v-4.8 M127.4,5.5 v4.8 M80.0,349.5 v-8.5 M80.0,5.5 v8.5 M990.5,349.5 v-8.5 M990.5,5.5 v8.5 M961.8,349.5 v-4.8 M961.8,5.5 v4.8 M933.2,349.5 v-8.5 M933.2,5.5 v8.5 M904.6,349.5 v-4.8 M904.6,5.5 v4.8 M876.0,349.5 v-8.5 M876.0,5.5 v8.5 M847.3,349.5 v-4.8 M847.3,5.5 v4.8 M818.7,349.5 v-8.5 M818.7,5.5 v8.5 M790.1,349.5 v-4.8 M790.1,5.5 v4.8 M761.5,349.5 v-8.5 M761.5,5.5 v8.5 M732.8,349.5 v-4.8 M732.8,5.5 v4.8 M704.2,349.5 v-8.5 M704.2,5.5 v8.5 M675.6,349.5 v-4.8 M675.6,5.5 v4.8 M647.0,349.5 v-8.5 M647.0,5.5 v8.5 M618.3,349.5 v-4.8 M618.3,5.5 v4.8 M589.7,349.5 v-8.5 M589.7,5.5 v8.5 M561.1,349.5 v-4.8 M561.1,5.5 v4.8 M32,26.6 h8.5 M506.5,26.6 h-8 M32,91.1 h8.5 M506.5,91.1 h-8 M32,155.6 h8.5 M506.5,155.6 h-8 M32,220.1 h8.5 M506.5,220.1 h-8 M32,284.6 h8.5 M506.5,284.6 h-8 M544.3,31.6 h8.5 M1018.7,31.6 h-8 M544.3,84.8 h8.5 M1018.7,84.8 h-8 M544.3,138.0 h8.5 M1018.7,138.0 h-8 M544.3,191.2 h8.5 M1018.7,191.2 h-8 M544.3,244.4 h8.5 M1018.7,244.4 h-8 M544.3,297.6 h8.5 M1018.7,297.6 h-8" stroke="#000" stroke-width="2.4" fill="none"/>
<text transform="translate(63.99,373.80) scale(1.0000,1)" font-size="19.4" fill="#000">352</text>
<text transform="translate(158.81,373.80) scale(1.0000,1)" font-size="19.4" fill="#000">350</text>
<text transform="translate(253.54,373.80) scale(1.0000,1)" font-size="19.4" fill="#000">348</text>
<text transform="translate(348.41,373.80) scale(1.0000,1)" font-size="19.4" fill="#000">346</text>
<text transform="translate(442.94,373.80) scale(1.0000,1)" font-size="19.4" fill="#000">344</text>
<text transform="translate(573.26,373.80) scale(1.0000,1)" font-size="19.4" fill="#000">534</text>
<text transform="translate(630.80,373.80) scale(1.0000,1)" font-size="19.4" fill="#000">533</text>
<text transform="translate(688.10,373.80) scale(1.0000,1)" font-size="19.4" fill="#000">532</text>
<text transform="translate(745.23,373.80) scale(1.0000,1)" font-size="19.4" fill="#000">531</text>
<text transform="translate(802.60,373.80) scale(1.0000,1)" font-size="19.4" fill="#000">530</text>
<text transform="translate(859.80,373.80) scale(1.0000,1)" font-size="19.4" fill="#000">529</text>
<text transform="translate(917.00,373.80) scale(1.0000,1)" font-size="19.4" fill="#000">528</text>
<text transform="translate(974.37,373.80) scale(1.0000,1)" font-size="19.4" fill="#000">527</text>
<text transform="translate(179.75,393.30) scale(1.1196,1)" font-size="16.6" fill="#000">Binding Energy [eV]</text>
<text transform="translate(692.44,393.40) scale(1.1228,1)" font-size="16.6" fill="#000">Binding Energy [eV]</text>
<g transform="translate(18.6,252) rotate(-90)"><text transform="translate(-1.31,0.00) scale(1.1437,1)" font-size="17.0" fill="#000">Intensity (norm.)</text></g>
<g transform="translate(531.3,252) rotate(-90)"><text transform="translate(-1.31,0.00) scale(1.1437,1)" font-size="17.0" fill="#000">Intensity (norm.)</text></g>
<text transform="translate(50.77,46.97) scale(0.9618,1)" font-size="33.9" fill="#000">(a)</text>
<text transform="translate(562.69,46.97) scale(0.9470,1)" font-size="33.9" fill="#000">(b)</text>
<text transform="translate(402.97,44.80) scale(0.9211,1)" font-size="33.4" fill="#000">Ca 2p</text>
<text transform="translate(931.68,44.80) scale(0.9165,1)" font-size="33.4" fill="#000">O 1s</text>
<text transform="translate(43.06,101.80) scale(1.0075,1)" font-size="25.5" fill="#ff0000">UHV virgin</text>
<text transform="translate(44.87,130.40) scale(1.0444,1)" font-size="25.5" fill="#00b000">water vapor</text>
<text transform="translate(43.05,159.40) scale(1.0158,1)" font-size="25.5" fill="#1a80e0">UHV post reaction</text>
<text transform="translate(287.30,151.00) scale(1.0004,1)" font-size="27.9" fill="#00b000">A</text><text transform="translate(306.37,157.40) scale(1.0000,1)" font-size="18.1" fill="#00b000">1</text>
<text transform="translate(118.03,262.50) scale(0.9629,1)" font-size="27.9" fill="#00b000">A</text><text transform="translate(136.87,268.90) scale(1.0000,1)" font-size="18.1" fill="#00b000">2</text>
<text transform="translate(135.80,320.90) scale(0.8501,1)" font-size="27.9" fill="#ff0000">P</text><text transform="translate(152.03,327.30) scale(1.0000,1)" font-size="18.1" fill="#ff0000">4</text>
<text transform="translate(194.06,311.00) scale(0.8691,1)" font-size="27.9" fill="#ff0000">P</text><text transform="translate(210.19,317.40) scale(1.0000,1)" font-size="18.1" fill="#ff0000">3</text>
<text transform="translate(309.38,267.70) scale(0.8628,1)" font-size="27.9" fill="#ff0000">P</text><text transform="translate(325.37,274.10) scale(1.0000,1)" font-size="18.1" fill="#ff0000">2</text>
<text transform="translate(359.14,248.10) scale(0.8818,1)" font-size="27.9" fill="#ff0000">P</text><text transform="translate(375.27,254.50) scale(1.0000,1)" font-size="18.1" fill="#ff0000">1</text>
<text transform="translate(653.88,160.50) scale(0.9135,1)" font-size="27.9" fill="#00b000">P</text><text transform="translate(671.03,166.90) scale(1.0000,1)" font-size="18.1" fill="#00b000">4</text>
<text transform="translate(744.00,169.50) scale(0.9008,1)" font-size="27.9" fill="#00b000">P</text><text transform="translate(760.59,175.90) scale(1.0000,1)" font-size="18.1" fill="#00b000">3</text>
<text transform="translate(630.33,292.10) scale(0.8881,1)" font-size="27.9" fill="#ff0000">P</text><text transform="translate(646.73,298.50) scale(1.0000,1)" font-size="18.1" fill="#ff0000">4</text>
<text transform="translate(750.57,269.60) scale(0.9198,1)" font-size="27.9" fill="#ff0000">P</text><text transform="translate(767.59,276.00) scale(1.0000,1)" font-size="18.1" fill="#ff0000">3</text>
<text transform="translate(824.27,257.00) scale(0.9198,1)" font-size="27.9" fill="#ff0000">P</text><text transform="translate(840.37,263.40) scale(1.0000,1)" font-size="18.1" fill="#ff0000">2</text>
<text transform="translate(872.06,221.50) scale(0.9262,1)" font-size="27.9" fill="#ff0000">P</text><text transform="translate(888.57,227.90) scale(1.0000,1)" font-size="18.1" fill="#ff0000">1</text>
</svg>
</body></html>
